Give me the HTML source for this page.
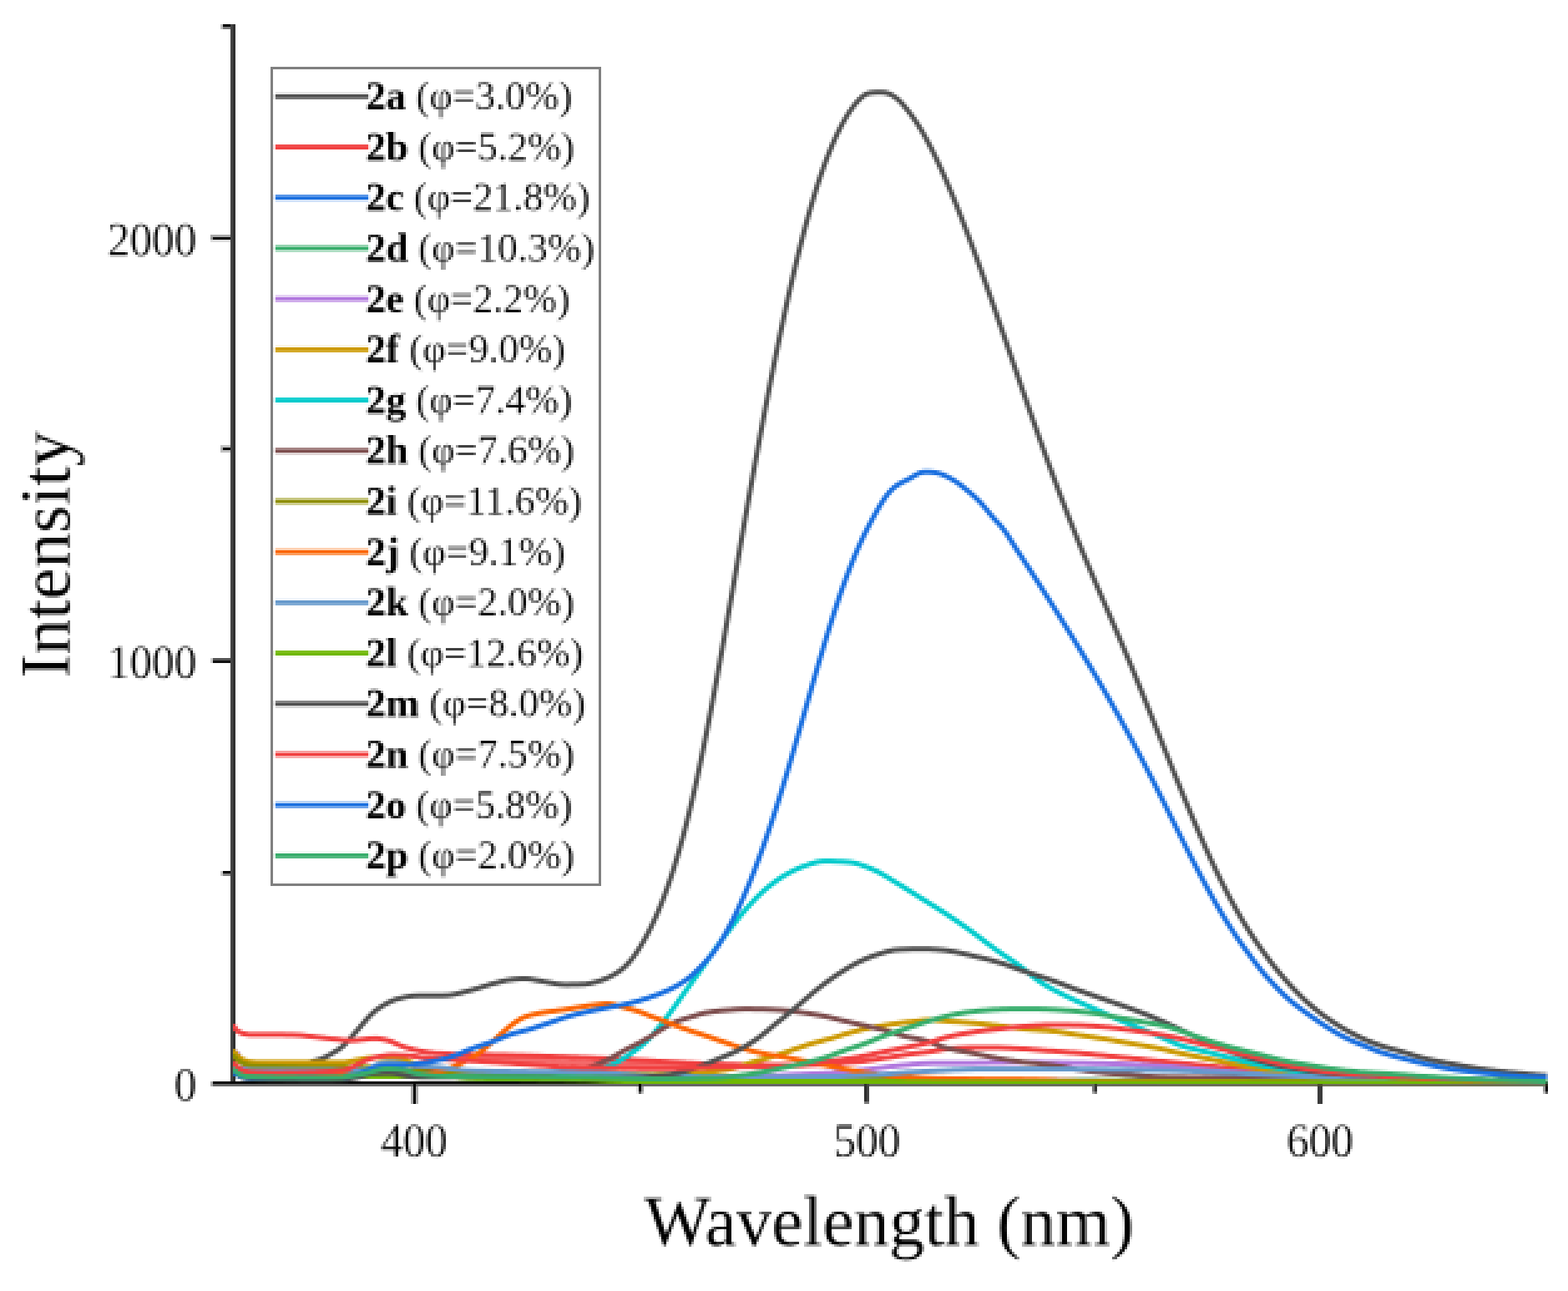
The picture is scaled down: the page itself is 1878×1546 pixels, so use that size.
<!DOCTYPE html>
<html lang="en"><head><meta charset="utf-8"><title>Fluorescence spectra</title>
<style>
html,body{margin:0;padding:0;background:#fff;}
body{width:1878px;height:1546px;overflow:hidden;}
svg{display:block;}
text{font-family:"Liberation Serif",serif;fill:#000;}
.tick{font-size:53.5px;fill:#0c0c0c;stroke:#fff;stroke-width:0.3px;}
.lab{font-size:84.5px;fill:#000;stroke:#fff;stroke-width:0.2px;}
.leg{font-size:48.1px;fill:#0c0c0c;stroke:#fff;stroke-width:0.2px;}
.leg .b{font-weight:bold;fill:#000;stroke:none;}
.curve{fill:none;stroke-width:6.0;stroke-linejoin:round;stroke-linecap:butt;}
</style></head><body>
<svg width="1878" height="1546" viewBox="0 0 1878 1546">
<defs><clipPath id="plot"><rect x="279" y="20" width="1575" height="1278.2"/></clipPath>
<filter id="px" x="0" y="0" width="1878" height="1546" filterUnits="userSpaceOnUse" color-interpolation-filters="sRGB">
<feConvolveMatrix in="SourceGraphic" order="3" kernelMatrix="1 1 1 1 1 1 1 1 1" divisor="9" edgeMode="duplicate" preserveAlpha="true" result="avg"/>
<feFlood x="1" y="0" width="1" height="1" flood-color="#000"/>
<feComposite width="3" height="3"/>
<feTile result="t"/>
<feComposite in="avg" in2="t" operator="in"/>
<feMorphology operator="dilate" radius="1"/>
</filter>
</defs>
<rect width="1878" height="1546" fill="#fff"/>
<g filter="url(#px)">
<rect x="-3" y="-3" width="1884" height="1552" fill="#fff"/>

<g id="axes">
<rect x="276" y="29" width="3" height="1272" fill="#444444"/>
<rect x="279" y="29" width="3" height="1272" fill="#303030"/>
<rect x="252" y="1295" width="3" height="6" fill="#b0b0b0"/>
<rect x="255" y="1295" width="1599" height="3" fill="#0a0a0a"/>
<rect x="255" y="1298" width="1599" height="3" fill="#666666"/>
<rect x="252" y="281" width="24" height="3" fill="#a8a8a8"/>
<rect x="252" y="287" width="24" height="3" fill="#dddddd"/>
<rect x="252" y="284" width="3" height="3" fill="#999999"/>
<rect x="255" y="284" width="21" height="3" fill="#050505"/>
<rect x="252" y="788" width="3" height="6" fill="#cccccc"/>
<rect x="255" y="788" width="21" height="3" fill="#555555"/>
<rect x="255" y="791" width="21" height="3" fill="#111111"/>
<rect x="264" y="533" width="12" height="3" fill="#c0c0c0"/>
<rect x="264" y="539" width="12" height="3" fill="#c0c0c0"/>
<rect x="264" y="536" width="3" height="3" fill="#aaaaaa"/>
<rect x="267" y="536" width="9" height="3" fill="#050505"/>
<rect x="264" y="1043" width="3" height="6" fill="#c8c8c8"/>
<rect x="267" y="1043" width="9" height="3" fill="#050505"/>
<rect x="267" y="1046" width="9" height="3" fill="#808080"/>
<rect x="264" y="29" width="3" height="6" fill="#c0c0c0"/>
<rect x="267" y="29" width="9" height="3" fill="#050505"/>
<rect x="267" y="32" width="9" height="3" fill="#777777"/>
<rect x="492" y="1301" width="3" height="21" fill="#aaaaaa"/>
<rect x="498" y="1301" width="3" height="21" fill="#aaaaaa"/>
<rect x="495" y="1298" width="3" height="24" fill="#050505"/>
<rect x="1035" y="1298" width="3" height="21" fill="#2e2e2e"/>
<rect x="1038" y="1298" width="3" height="21" fill="#444444"/>
<rect x="1035" y="1319" width="6" height="3" fill="#7a7a7a"/>
<rect x="1578" y="1298" width="6" height="24" fill="#3c3c3c"/>
<rect x="765" y="1298" width="3" height="11" fill="#050505"/>
<rect x="768" y="1301" width="3" height="8" fill="#999999"/>
<rect x="762" y="1301" width="3" height="8" fill="#dddddd"/>
<rect x="1308" y="1301" width="3" height="8" fill="#777777"/>
<rect x="1311" y="1298" width="3" height="11" fill="#333333"/>
<rect x="1848" y="1301" width="3" height="8" fill="#999999"/>
<rect x="1851" y="1298" width="3" height="11" fill="#0a0a0a"/>
</g>
<g id="curves" clip-path="url(#plot)">
<path class="curve" stroke="#515151" d="M279.0,1262.2 L282.0,1265.8 L285.0,1269.1 L288.0,1271.1 L291.0,1272.8 L294.0,1273.9 L297.0,1274.6 L300.0,1275.2 L303.0,1275.7 L306.0,1276.1 L309.0,1276.4 L312.0,1276.7 L315.0,1276.8 L318.0,1276.9 L321.0,1277.0 L324.0,1277.0 L327.0,1276.9 L330.0,1276.9 L333.0,1276.8 L336.0,1276.7 L339.0,1276.6 L342.0,1276.4 L345.0,1276.3 L348.0,1276.1 L351.0,1275.9 L354.0,1275.6 L357.0,1275.1 L360.0,1274.6 L363.0,1274.0 L366.0,1273.3 L369.0,1272.6 L372.0,1271.8 L375.0,1271.0 L378.0,1270.2 L381.0,1269.3 L384.0,1268.3 L387.0,1267.1 L390.0,1265.8 L393.0,1264.2 L396.0,1262.5 L399.0,1260.7 L402.0,1258.9 L405.0,1257.1 L408.0,1255.0 L411.0,1252.5 L414.0,1249.6 L417.0,1246.3 L420.0,1242.9 L423.0,1239.4 L426.0,1236.0 L429.0,1232.6 L432.0,1229.0 L435.0,1225.5 L438.0,1222.0 L441.0,1218.6 L444.0,1215.5 L447.0,1212.7 L450.0,1210.1 L453.0,1207.9 L456.0,1205.9 L459.0,1204.0 L462.0,1202.3 L465.0,1200.7 L468.0,1199.3 L471.0,1198.0 L474.0,1196.9 L477.0,1196.0 L480.0,1195.3 L483.0,1194.6 L486.0,1193.9 L489.0,1193.4 L492.0,1192.9 L495.0,1192.6 L498.0,1192.4 L501.0,1192.3 L504.0,1192.3 L507.0,1192.3 L510.0,1192.3 L513.0,1192.3 L516.0,1192.3 L519.0,1192.3 L522.0,1192.3 L525.0,1192.3 L528.0,1192.3 L531.0,1192.3 L534.0,1192.1 L537.0,1191.9 L540.0,1191.5 L543.0,1191.0 L546.0,1190.4 L549.0,1189.7 L552.0,1189.0 L555.0,1188.2 L558.0,1187.4 L561.0,1186.7 L564.0,1185.9 L567.0,1185.1 L570.0,1184.2 L573.0,1183.3 L576.0,1182.4 L579.0,1181.4 L582.0,1180.5 L585.0,1179.6 L588.0,1178.7 L591.0,1177.9 L594.0,1177.1 L597.0,1176.3 L600.0,1175.5 L603.0,1174.8 L606.0,1174.1 L609.0,1173.6 L612.0,1173.2 L615.0,1172.8 L618.0,1172.5 L621.0,1172.2 L624.0,1172.1 L627.0,1172.0 L630.0,1172.1 L633.0,1172.3 L636.0,1172.6 L639.0,1173.1 L642.0,1173.7 L645.0,1174.2 L648.0,1174.8 L651.0,1175.4 L654.0,1175.9 L657.0,1176.5 L660.0,1177.0 L663.0,1177.6 L666.0,1178.2 L669.0,1178.6 L672.0,1178.9 L675.0,1179.1 L678.0,1179.2 L681.0,1179.2 L684.0,1179.1 L687.0,1179.1 L690.0,1179.0 L693.0,1178.9 L696.0,1178.8 L699.0,1178.7 L702.0,1178.4 L705.0,1178.0 L708.0,1177.4 L711.0,1176.7 L714.0,1175.9 L717.0,1175.0 L720.0,1174.1 L723.0,1172.9 L726.0,1171.7 L729.0,1170.4 L732.0,1168.9 L735.0,1167.3 L738.0,1165.5 L741.0,1163.6 L744.0,1161.4 L747.0,1158.9 L750.0,1156.1 L753.0,1152.9 L756.0,1149.4 L759.0,1145.5 L762.0,1141.2 L765.0,1136.7 L768.0,1131.8 L771.0,1126.7 L774.0,1121.3 L777.0,1115.6 L780.0,1109.6 L783.0,1103.3 L786.0,1096.7 L789.0,1089.7 L792.0,1082.4 L795.0,1074.6 L798.0,1066.5 L801.0,1058.0 L804.0,1049.1 L807.0,1039.8 L810.0,1030.0 L813.0,1019.9 L816.0,1009.3 L819.0,998.2 L822.0,986.7 L825.0,974.8 L828.0,962.3 L831.0,949.4 L834.0,936.1 L837.0,922.3 L840.0,908.0 L843.0,893.4 L846.0,878.4 L849.0,863.1 L852.0,847.5 L855.0,831.6 L858.0,815.4 L861.0,799.0 L864.0,782.4 L867.0,765.7 L870.0,748.8 L873.0,731.8 L876.0,714.8 L879.0,697.7 L882.0,680.5 L885.0,663.4 L888.0,646.3 L891.0,629.3 L894.0,612.4 L897.0,595.6 L900.0,578.9 L903.0,562.4 L906.0,546.0 L909.0,529.7 L912.0,513.7 L915.0,497.8 L918.0,482.2 L921.0,466.7 L924.0,451.4 L927.0,436.4 L930.0,421.6 L933.0,407.1 L936.0,392.8 L939.0,378.8 L942.0,365.0 L945.0,351.5 L948.0,338.4 L951.0,325.5 L954.0,313.0 L957.0,300.7 L960.0,288.9 L963.0,277.3 L966.0,266.1 L969.0,255.3 L972.0,244.9 L975.0,234.8 L978.0,225.2 L981.0,215.9 L984.0,207.0 L987.0,198.6 L990.0,190.5 L993.0,182.8 L996.0,175.5 L999.0,168.5 L1002.0,162.0 L1005.0,155.8 L1008.0,149.9 L1011.0,144.4 L1014.0,139.3 L1017.0,134.5 L1020.0,130.2 L1023.0,126.2 L1026.0,122.6 L1029.0,119.4 L1032.0,116.5 L1035.0,114.1 L1038.0,112.5 L1041.0,111.5 L1044.0,111.0 L1047.0,110.7 L1050.0,110.5 L1053.0,110.4 L1056.0,110.4 L1059.0,110.7 L1062.0,111.3 L1065.0,112.3 L1068.0,113.8 L1071.0,115.6 L1074.0,117.8 L1077.0,120.4 L1080.0,123.5 L1083.0,127.0 L1086.0,130.6 L1089.0,134.5 L1092.0,138.5 L1095.0,142.7 L1098.0,147.2 L1101.0,151.9 L1104.0,156.8 L1107.0,162.0 L1110.0,167.4 L1113.0,173.1 L1116.0,178.9 L1119.0,185.0 L1122.0,191.3 L1125.0,197.7 L1128.0,204.3 L1131.0,211.0 L1134.0,217.9 L1137.0,225.0 L1140.0,232.1 L1143.0,239.5 L1146.0,246.9 L1149.0,254.4 L1152.0,262.1 L1155.0,269.8 L1158.0,277.7 L1161.0,285.6 L1164.0,293.7 L1167.0,301.8 L1170.0,310.0 L1173.0,318.3 L1176.0,326.6 L1179.0,335.0 L1182.0,343.5 L1185.0,352.0 L1188.0,360.5 L1191.0,369.1 L1194.0,377.8 L1197.0,386.4 L1200.0,395.1 L1203.0,403.8 L1206.0,412.5 L1209.0,421.3 L1212.0,430.0 L1215.0,438.7 L1218.0,447.5 L1221.0,456.2 L1224.0,464.9 L1227.0,473.6 L1230.0,482.2 L1233.0,490.9 L1236.0,499.4 L1239.0,508.0 L1242.0,516.5 L1245.0,524.9 L1248.0,533.3 L1251.0,541.7 L1254.0,550.0 L1257.0,558.2 L1260.0,566.4 L1263.0,574.5 L1266.0,582.5 L1269.0,590.5 L1272.0,598.4 L1275.0,606.3 L1278.0,614.1 L1281.0,621.8 L1284.0,629.4 L1287.0,637.0 L1290.0,644.5 L1293.0,651.9 L1296.0,659.3 L1299.0,666.6 L1302.0,673.8 L1305.0,680.9 L1308.0,688.0 L1311.0,695.1 L1314.0,702.1 L1317.0,709.0 L1320.0,716.0 L1323.0,722.9 L1326.0,729.9 L1329.0,736.8 L1332.0,743.7 L1335.0,750.7 L1338.0,757.7 L1341.0,764.7 L1344.0,771.7 L1347.0,778.8 L1350.0,786.0 L1353.0,793.2 L1356.0,800.4 L1359.0,807.7 L1362.0,815.1 L1365.0,822.5 L1368.0,829.9 L1371.0,837.4 L1374.0,844.8 L1377.0,852.3 L1380.0,859.8 L1383.0,867.4 L1386.0,874.9 L1389.0,882.4 L1392.0,890.0 L1395.0,897.5 L1398.0,905.0 L1401.0,912.5 L1404.0,920.0 L1407.0,927.4 L1410.0,934.9 L1413.0,942.2 L1416.0,949.6 L1419.0,956.9 L1422.0,964.1 L1425.0,971.3 L1428.0,978.5 L1431.0,985.5 L1434.0,992.5 L1437.0,999.5 L1440.0,1006.3 L1443.0,1013.1 L1446.0,1019.8 L1449.0,1026.4 L1452.0,1032.9 L1455.0,1039.3 L1458.0,1045.6 L1461.0,1051.7 L1464.0,1057.8 L1467.0,1063.7 L1470.0,1069.6 L1473.0,1075.3 L1476.0,1080.8 L1479.0,1086.3 L1482.0,1091.6 L1485.0,1096.8 L1488.0,1101.9 L1491.0,1106.9 L1494.0,1111.7 L1497.0,1116.4 L1500.0,1121.0 L1503.0,1125.5 L1506.0,1129.9 L1509.0,1134.2 L1512.0,1138.5 L1515.0,1142.6 L1518.0,1146.6 L1521.0,1150.6 L1524.0,1154.5 L1527.0,1158.3 L1530.0,1162.0 L1533.0,1165.6 L1536.0,1169.2 L1539.0,1172.7 L1542.0,1176.1 L1545.0,1179.4 L1548.0,1182.6 L1551.0,1185.8 L1554.0,1188.9 L1557.0,1191.9 L1560.0,1194.8 L1563.0,1197.7 L1566.0,1200.4 L1569.0,1203.1 L1572.0,1205.6 L1575.0,1208.1 L1578.0,1210.5 L1581.0,1212.8 L1584.0,1215.1 L1587.0,1217.3 L1590.0,1219.4 L1593.0,1221.5 L1596.0,1223.5 L1599.0,1225.5 L1602.0,1227.4 L1605.0,1229.2 L1608.0,1231.0 L1611.0,1232.8 L1614.0,1234.5 L1617.0,1236.1 L1620.0,1237.7 L1623.0,1239.2 L1626.0,1240.7 L1629.0,1242.2 L1632.0,1243.6 L1635.0,1244.9 L1638.0,1246.2 L1641.0,1247.4 L1644.0,1248.6 L1647.0,1249.7 L1650.0,1250.8 L1653.0,1251.9 L1656.0,1252.9 L1659.0,1253.8 L1662.0,1254.7 L1665.0,1255.6 L1668.0,1256.4 L1671.0,1257.2 L1674.0,1258.0 L1677.0,1258.8 L1680.0,1259.7 L1683.0,1260.6 L1686.0,1261.5 L1689.0,1262.4 L1692.0,1263.4 L1695.0,1264.3 L1698.0,1265.2 L1701.0,1266.1 L1704.0,1266.9 L1707.0,1267.7 L1710.0,1268.4 L1713.0,1269.0 L1716.0,1269.7 L1719.0,1270.3 L1722.0,1270.9 L1725.0,1271.4 L1728.0,1272.0 L1731.0,1272.6 L1734.0,1273.1 L1737.0,1273.7 L1740.0,1274.2 L1743.0,1274.8 L1746.0,1275.3 L1749.0,1275.9 L1752.0,1276.5 L1755.0,1277.0 L1758.0,1277.5 L1761.0,1278.0 L1764.0,1278.5 L1767.0,1279.0 L1770.0,1279.4 L1773.0,1279.9 L1776.0,1280.3 L1779.0,1280.7 L1782.0,1281.1 L1785.0,1281.5 L1788.0,1281.8 L1791.0,1282.2 L1794.0,1282.5 L1797.0,1282.9 L1800.0,1283.2 L1803.0,1283.5 L1806.0,1283.9 L1809.0,1284.2 L1812.0,1284.5 L1815.0,1284.8 L1818.0,1285.1 L1821.0,1285.3 L1824.0,1285.6 L1827.0,1285.9 L1830.0,1286.2 L1833.0,1286.4 L1836.0,1286.7 L1839.0,1287.0 L1842.0,1287.2 L1845.0,1287.5 L1848.0,1287.7 L1851.0,1288.0 L1852.8,1288.1"/>
<path class="curve" stroke="#f46a6a" stroke-width="8" d="M545.0,1266.0 L548.0,1266.1 L551.0,1266.2 L554.0,1266.3 L557.0,1266.4 L560.0,1266.5 L563.0,1266.6 L566.0,1266.7 L569.0,1266.8 L572.0,1266.9 L575.0,1267.0 L578.0,1267.2 L581.0,1267.3 L584.0,1267.4 L587.0,1267.5 L590.0,1267.6 L593.0,1267.7 L596.0,1267.8 L599.0,1268.0 L602.0,1268.1 L605.0,1268.2 L608.0,1268.3 L611.0,1268.5 L614.0,1268.6 L617.0,1268.7 L620.0,1268.9 L623.0,1269.0 L626.0,1269.1 L629.0,1269.3 L632.0,1269.4 L635.0,1269.6 L638.0,1269.7 L641.0,1269.9 L644.0,1270.0 L647.0,1270.2 L650.0,1270.3 L653.0,1270.4 L656.0,1270.6 L659.0,1270.7 L662.0,1270.9 L665.0,1271.0 L668.0,1271.2 L671.0,1271.3 L674.0,1271.4 L677.0,1271.6 L680.0,1271.7 L683.0,1271.8 L686.0,1272.0 L689.0,1272.1 L692.0,1272.2 L695.0,1272.3 L698.0,1272.4 L701.0,1272.5 L704.0,1272.6 L707.0,1272.8 L710.0,1272.9 L713.0,1273.0 L716.0,1273.1 L719.0,1273.2 L722.0,1273.3 L725.0,1273.4 L728.0,1273.5 L731.0,1273.6 L734.0,1273.7 L737.0,1273.8 L740.0,1273.9 L743.0,1274.0 L746.0,1274.1 L749.0,1274.2 L752.0,1274.3 L755.0,1274.4 L758.0,1274.5 L761.0,1274.6 L764.0,1274.6 L767.0,1274.7 L770.0,1274.8 L773.0,1274.9 L776.0,1275.0 L779.0,1275.0 L782.0,1275.1 L785.0,1275.2 L788.0,1275.3 L791.0,1275.3 L794.0,1275.4 L797.0,1275.4 L800.0,1275.5 L803.0,1275.6 L806.0,1275.6 L809.0,1275.7 L812.0,1275.7 L815.0,1275.8 L818.0,1275.8 L821.0,1275.9 L824.0,1275.9 L827.0,1276.0 L830.0,1276.0 L833.0,1276.1 L836.0,1276.1 L839.0,1276.2 L842.0,1276.2 L845.0,1276.2 L848.0,1276.2 L851.0,1276.3 L854.0,1276.3 L857.0,1276.3 L860.0,1276.3 L863.0,1276.3 L866.0,1276.3 L869.0,1276.3 L872.0,1276.3 L875.0,1276.3 L878.0,1276.3 L881.0,1276.3 L884.0,1276.3 L887.0,1276.3 L890.0,1276.3 L893.0,1276.3 L896.0,1276.3 L899.0,1276.2 L902.0,1276.2 L905.0,1276.2 L908.0,1276.2 L911.0,1276.2 L914.0,1276.2 L917.0,1276.1 L920.0,1276.1 L923.0,1276.1 L926.0,1276.0 L929.0,1276.0 L930.0,1276.0"/>
<path class="curve" stroke="#F14040" d="M279.0,1227.3 L282.0,1231.9 L285.0,1235.3 L288.0,1236.4 L291.0,1237.7 L294.0,1238.3 L297.0,1238.7 L300.0,1238.9 L303.0,1239.0 L306.0,1239.0 L309.0,1239.1 L312.0,1239.1 L315.0,1239.1 L318.0,1239.1 L321.0,1239.1 L324.0,1239.1 L327.0,1239.1 L330.0,1239.1 L333.0,1239.1 L336.0,1239.1 L339.0,1239.1 L342.0,1239.2 L345.0,1239.2 L348.0,1239.2 L351.0,1239.3 L354.0,1239.4 L357.0,1239.5 L360.0,1239.8 L363.0,1240.1 L366.0,1240.4 L369.0,1240.7 L372.0,1241.1 L375.0,1241.4 L378.0,1241.8 L381.0,1242.1 L384.0,1242.5 L387.0,1242.8 L390.0,1243.2 L393.0,1243.5 L396.0,1243.9 L399.0,1244.2 L402.0,1244.5 L405.0,1244.8 L408.0,1245.2 L411.0,1245.5 L414.0,1245.7 L417.0,1245.9 L420.0,1245.9 L423.0,1245.9 L426.0,1245.7 L429.0,1245.4 L432.0,1245.1 L435.0,1244.7 L438.0,1244.4 L441.0,1244.1 L444.0,1243.8 L447.0,1243.7 L450.0,1243.6 L453.0,1243.8 L456.0,1244.2 L459.0,1244.7 L462.0,1245.3 L465.0,1246.1 L468.0,1247.1 L471.0,1248.3 L474.0,1249.7 L477.0,1251.0 L480.0,1252.2 L483.0,1253.3 L486.0,1254.3 L489.0,1255.2 L492.0,1256.0 L495.0,1256.8 L498.0,1257.5 L501.0,1258.2 L504.0,1258.7 L507.0,1259.3 L510.0,1259.7 L513.0,1260.2 L516.0,1260.5 L519.0,1260.9 L522.0,1261.2 L525.0,1261.4 L528.0,1261.6 L531.0,1261.8 L534.0,1262.0 L537.0,1262.1 L540.0,1262.3 L543.0,1262.4 L546.0,1262.6 L549.0,1262.7 L552.0,1262.8 L555.0,1262.9 L558.0,1262.9 L561.0,1263.0 L564.0,1263.1 L567.0,1263.1 L570.0,1263.2 L573.0,1263.2 L576.0,1263.2 L579.0,1263.3 L582.0,1263.3 L585.0,1263.3 L588.0,1263.3 L591.0,1263.4 L594.0,1263.4 L597.0,1263.5 L600.0,1263.5 L603.0,1263.6 L606.0,1263.6 L609.0,1263.7 L612.0,1263.7 L615.0,1263.8 L618.0,1263.9 L621.0,1263.9 L624.0,1264.0 L627.0,1264.1 L630.0,1264.2 L633.0,1264.2 L636.0,1264.3 L639.0,1264.4 L642.0,1264.5 L645.0,1264.6 L648.0,1264.7 L651.0,1264.8 L654.0,1264.9 L657.0,1265.0 L660.0,1265.1 L663.0,1265.2 L666.0,1265.3 L669.0,1265.4 L672.0,1265.5 L675.0,1265.6 L678.0,1265.7 L681.0,1265.8 L684.0,1265.9 L687.0,1266.0 L690.0,1266.1 L693.0,1266.2 L696.0,1266.4 L699.0,1266.5 L702.0,1266.6 L705.0,1266.7 L708.0,1266.8 L711.0,1266.9 L714.0,1267.1 L717.0,1267.2 L720.0,1267.3 L723.0,1267.5 L726.0,1267.6 L729.0,1267.8 L732.0,1267.9 L735.0,1268.1 L738.0,1268.2 L741.0,1268.4 L744.0,1268.5 L747.0,1268.7 L750.0,1268.8 L753.0,1269.0 L756.0,1269.2 L759.0,1269.3 L762.0,1269.5 L765.0,1269.7 L768.0,1269.8 L771.0,1270.0 L774.0,1270.1 L777.0,1270.3 L780.0,1270.5 L783.0,1270.6 L786.0,1270.8 L789.0,1270.9 L792.0,1271.1 L795.0,1271.2 L798.0,1271.4 L801.0,1271.6 L804.0,1271.7 L807.0,1271.9 L810.0,1272.0 L813.0,1272.2 L816.0,1272.4 L819.0,1272.6 L822.0,1272.8 L825.0,1272.9 L828.0,1273.1 L831.0,1273.3 L834.0,1273.5 L837.0,1273.6 L840.0,1273.8 L843.0,1273.9 L846.0,1274.0 L849.0,1274.2 L852.0,1274.3 L855.0,1274.4 L858.0,1274.4 L861.0,1274.5 L864.0,1274.6 L867.0,1274.6 L870.0,1274.7 L873.0,1274.7 L876.0,1274.8 L879.0,1274.8 L882.0,1274.9 L885.0,1274.9 L888.0,1275.0 L891.0,1275.0 L894.0,1275.1 L897.0,1275.1 L900.0,1275.2 L903.0,1275.2 L906.0,1275.2 L909.0,1275.3 L912.0,1275.3 L915.0,1275.3 L918.0,1275.3 L921.0,1275.4 L924.0,1275.4 L927.0,1275.4 L930.0,1275.4 L933.0,1275.5 L936.0,1275.5 L939.0,1275.5 L942.0,1275.5 L945.0,1275.5 L948.0,1275.5 L951.0,1275.5 L954.0,1275.5 L957.0,1275.4 L960.0,1275.4 L963.0,1275.3 L966.0,1275.3 L969.0,1275.2 L972.0,1275.1 L975.0,1275.0 L978.0,1274.8 L981.0,1274.7 L984.0,1274.5 L987.0,1274.4 L990.0,1274.2 L993.0,1274.0 L996.0,1273.8 L999.0,1273.6 L1002.0,1273.4 L1005.0,1273.2 L1008.0,1273.0 L1011.0,1272.8 L1014.0,1272.6 L1017.0,1272.3 L1020.0,1272.1 L1023.0,1271.9 L1026.0,1271.6 L1029.0,1271.4 L1032.0,1271.1 L1035.0,1270.7 L1038.0,1270.3 L1041.0,1269.9 L1044.0,1269.5 L1047.0,1269.0 L1050.0,1268.5 L1053.0,1268.0 L1056.0,1267.6 L1059.0,1267.1 L1062.0,1266.6 L1065.0,1266.2 L1068.0,1265.7 L1071.0,1265.2 L1074.0,1264.7 L1077.0,1264.2 L1080.0,1263.8 L1083.0,1263.3 L1086.0,1262.8 L1089.0,1262.4 L1092.0,1262.0 L1095.0,1261.6 L1098.0,1261.2 L1101.0,1260.9 L1104.0,1260.5 L1107.0,1260.2 L1110.0,1259.8 L1113.0,1259.5 L1116.0,1259.0 L1119.0,1258.6 L1122.0,1258.1 L1125.0,1257.5 L1128.0,1256.9 L1131.0,1256.4 L1134.0,1256.1 L1137.0,1255.8 L1140.0,1255.6 L1143.0,1255.4 L1146.0,1255.2 L1149.0,1255.0 L1152.0,1254.9 L1155.0,1254.8 L1158.0,1254.7 L1161.0,1254.6 L1164.0,1254.6 L1167.0,1254.6 L1170.0,1254.6 L1173.0,1254.6 L1176.0,1254.6 L1179.0,1254.6 L1182.0,1254.6 L1185.0,1254.6 L1188.0,1254.6 L1191.0,1254.6 L1194.0,1254.6 L1197.0,1254.6 L1200.0,1254.7 L1203.0,1254.8 L1206.0,1254.9 L1209.0,1255.0 L1212.0,1255.2 L1215.0,1255.4 L1218.0,1255.6 L1221.0,1255.8 L1224.0,1256.0 L1227.0,1256.1 L1230.0,1256.3 L1233.0,1256.5 L1236.0,1256.8 L1239.0,1257.0 L1242.0,1257.2 L1245.0,1257.4 L1248.0,1257.7 L1251.0,1257.9 L1254.0,1258.2 L1257.0,1258.4 L1260.0,1258.6 L1263.0,1258.8 L1266.0,1259.1 L1269.0,1259.3 L1272.0,1259.5 L1275.0,1259.7 L1278.0,1259.9 L1281.0,1260.2 L1284.0,1260.4 L1287.0,1260.6 L1290.0,1260.9 L1293.0,1261.1 L1296.0,1261.4 L1299.0,1261.7 L1302.0,1262.0 L1305.0,1262.3 L1308.0,1262.6 L1311.0,1262.9 L1314.0,1263.2 L1317.0,1263.5 L1320.0,1263.8 L1323.0,1264.1 L1326.0,1264.4 L1329.0,1264.7 L1332.0,1265.0 L1335.0,1265.3 L1338.0,1265.6 L1341.0,1265.9 L1344.0,1266.2 L1347.0,1266.5 L1350.0,1266.8 L1353.0,1267.1 L1356.0,1267.4 L1359.0,1267.7 L1362.0,1268.0 L1365.0,1268.3 L1368.0,1268.6 L1371.0,1268.9 L1374.0,1269.3 L1377.0,1269.6 L1380.0,1269.9 L1383.0,1270.2 L1386.0,1270.5 L1389.0,1270.7 L1392.0,1271.0 L1395.0,1271.3 L1398.0,1271.6 L1401.0,1271.9 L1404.0,1272.2 L1407.0,1272.5 L1410.0,1272.8 L1413.0,1273.1 L1416.0,1273.4 L1419.0,1273.7 L1422.0,1274.0 L1425.0,1274.3 L1428.0,1274.6 L1431.0,1274.9 L1434.0,1275.2 L1437.0,1275.5 L1440.0,1275.8 L1443.0,1276.1 L1446.0,1276.4 L1449.0,1276.7 L1452.0,1277.0 L1455.0,1277.3 L1458.0,1277.6 L1461.0,1277.9 L1464.0,1278.2 L1467.0,1278.5 L1470.0,1278.8 L1473.0,1279.1 L1476.0,1279.4 L1479.0,1279.7 L1482.0,1280.0 L1485.0,1280.3 L1488.0,1280.6 L1491.0,1280.9 L1494.0,1281.3 L1497.0,1281.6 L1500.0,1281.9 L1503.0,1282.1 L1506.0,1282.4 L1509.0,1282.7 L1512.0,1283.0 L1515.0,1283.3 L1518.0,1283.6 L1521.0,1283.8 L1524.0,1284.1 L1527.0,1284.4 L1530.0,1284.7 L1533.0,1284.9 L1536.0,1285.2 L1539.0,1285.4 L1542.0,1285.7 L1545.0,1285.9 L1548.0,1286.2 L1551.0,1286.4 L1554.0,1286.6 L1557.0,1286.8 L1560.0,1287.0 L1563.0,1287.2 L1566.0,1287.3 L1569.0,1287.5 L1572.0,1287.7 L1575.0,1287.8 L1578.0,1288.0 L1581.0,1288.2 L1584.0,1288.3 L1587.0,1288.5 L1590.0,1288.6 L1593.0,1288.8 L1596.0,1288.9 L1599.0,1289.0 L1602.0,1289.2 L1605.0,1289.3 L1608.0,1289.4 L1611.0,1289.6 L1614.0,1289.7 L1617.0,1289.8 L1620.0,1289.9 L1623.0,1290.0 L1626.0,1290.2 L1629.0,1290.3 L1632.0,1290.4 L1635.0,1290.5 L1638.0,1290.6 L1641.0,1290.7 L1644.0,1290.8 L1647.0,1290.9 L1650.0,1291.0 L1653.0,1291.1 L1656.0,1291.2 L1659.0,1291.3 L1662.0,1291.4 L1665.0,1291.5 L1668.0,1291.6 L1671.0,1291.7 L1674.0,1291.8 L1677.0,1291.9 L1680.0,1292.0 L1683.0,1292.1 L1686.0,1292.2 L1689.0,1292.3 L1692.0,1292.3 L1695.0,1292.4 L1698.0,1292.5 L1701.0,1292.6 L1704.0,1292.7 L1707.0,1292.8 L1710.0,1292.9 L1713.0,1293.0 L1716.0,1293.1 L1719.0,1293.2 L1722.0,1293.2 L1725.0,1293.3 L1728.0,1293.4 L1731.0,1293.5 L1734.0,1293.6 L1737.0,1293.7 L1740.0,1293.8 L1743.0,1293.8 L1746.0,1293.9 L1749.0,1294.0 L1752.0,1294.1 L1755.0,1294.1 L1758.0,1294.2 L1761.0,1294.3 L1764.0,1294.4 L1767.0,1294.4 L1770.0,1294.5 L1773.0,1294.6 L1776.0,1294.7 L1779.0,1294.7 L1782.0,1294.8 L1785.0,1294.9 L1788.0,1294.9 L1791.0,1295.0 L1794.0,1295.1 L1797.0,1295.1 L1800.0,1295.2 L1803.0,1295.2 L1806.0,1295.3 L1809.0,1295.3 L1812.0,1295.4 L1815.0,1295.5 L1818.0,1295.5 L1821.0,1295.6 L1824.0,1295.6 L1827.0,1295.7 L1830.0,1295.7 L1833.0,1295.7 L1836.0,1295.8 L1839.0,1295.8 L1842.0,1295.9 L1845.0,1295.9 L1848.0,1295.9 L1851.0,1296.0 L1853.0,1296.0"/>
<path class="curve" stroke="#1A6FDF" d="M279.0,1284.0 L282.0,1285.4 L285.0,1286.9 L288.0,1288.1 L291.0,1289.1 L294.0,1289.7 L297.0,1289.9 L300.0,1290.0 L303.0,1290.0 L306.0,1290.0 L309.0,1290.0 L312.0,1290.0 L315.0,1290.0 L318.0,1290.0 L321.0,1290.0 L324.0,1290.0 L327.0,1290.0 L330.0,1290.0 L333.0,1290.0 L336.0,1290.0 L339.0,1290.0 L342.0,1290.0 L345.0,1290.0 L348.0,1290.0 L351.0,1290.0 L354.0,1290.0 L357.0,1290.0 L360.0,1290.0 L363.0,1290.0 L366.0,1290.0 L369.0,1290.0 L372.0,1290.0 L375.0,1290.0 L378.0,1290.0 L381.0,1290.0 L384.0,1290.0 L387.0,1290.0 L390.0,1290.0 L393.0,1290.0 L396.0,1290.0 L399.0,1290.0 L402.0,1290.0 L405.0,1289.9 L408.0,1289.7 L411.0,1289.6 L414.0,1289.3 L417.0,1289.0 L420.0,1288.7 L423.0,1288.4 L426.0,1288.0 L429.0,1287.6 L432.0,1287.2 L435.0,1286.7 L438.0,1286.3 L441.0,1285.7 L444.0,1285.0 L447.0,1284.1 L450.0,1283.2 L453.0,1282.3 L456.0,1281.6 L459.0,1281.2 L462.0,1281.1 L465.0,1281.1 L468.0,1281.2 L471.0,1281.4 L474.0,1281.6 L477.0,1281.8 L480.0,1282.1 L483.0,1282.3 L486.0,1282.6 L489.0,1282.9 L492.0,1283.2 L495.0,1283.5 L498.0,1283.8 L501.0,1284.1 L504.0,1284.4 L507.0,1284.8 L510.0,1285.2 L513.0,1285.6 L516.0,1286.0 L519.0,1286.5 L522.0,1286.9 L525.0,1287.3 L528.0,1287.6 L531.0,1287.9 L534.0,1288.2 L537.0,1288.4 L540.0,1288.5 L543.0,1288.5 L546.0,1288.6 L549.0,1288.6 L552.0,1288.7 L555.0,1288.7 L558.0,1288.7 L561.0,1288.7 L564.0,1288.8 L567.0,1288.8 L570.0,1288.8 L573.0,1288.9 L576.0,1288.9 L579.0,1288.9 L582.0,1288.9 L585.0,1288.9 L588.0,1288.9 L591.0,1289.0 L594.0,1289.0 L597.0,1289.0 L600.0,1289.0 L603.0,1289.0 L606.0,1289.0 L609.0,1289.0 L612.0,1289.0 L615.0,1289.1 L618.0,1289.1 L621.0,1289.1 L624.0,1289.1 L627.0,1289.1 L630.0,1289.1 L633.0,1289.1 L636.0,1289.1 L639.0,1289.1 L642.0,1289.1 L645.0,1289.2 L648.0,1289.2 L651.0,1289.2 L654.0,1289.2 L657.0,1289.2 L660.0,1289.2 L663.0,1289.2 L666.0,1289.2 L669.0,1289.3 L672.0,1289.3 L675.0,1289.3 L678.0,1289.3 L681.0,1289.3 L684.0,1289.4 L687.0,1289.4 L690.0,1289.4 L693.0,1289.4 L696.0,1289.5 L699.0,1289.5 L702.0,1289.5 L705.0,1289.6 L708.0,1289.6 L711.0,1289.7 L714.0,1289.8 L717.0,1289.8 L720.0,1289.9 L723.0,1290.0 L726.0,1290.1 L729.0,1290.2 L732.0,1290.3 L735.0,1290.4 L738.0,1290.5 L741.0,1290.6 L744.0,1290.7 L747.0,1290.7 L750.0,1290.8 L753.0,1290.9 L756.0,1291.0 L759.0,1291.1 L762.0,1291.2 L765.0,1291.3 L768.0,1291.3 L771.0,1291.4 L774.0,1291.4 L777.0,1291.5 L780.0,1291.5 L783.0,1291.5 L786.0,1291.6 L789.0,1291.6 L792.0,1291.6 L795.0,1291.6 L798.0,1291.6 L801.0,1291.7 L804.0,1291.7 L807.0,1291.7 L810.0,1291.7 L813.0,1291.7 L816.0,1291.8 L819.0,1291.8 L822.0,1291.8 L825.0,1291.8 L828.0,1291.8 L831.0,1291.9 L834.0,1291.9 L837.0,1291.9 L840.0,1291.9 L843.0,1291.9 L846.0,1291.9 L849.0,1291.9 L852.0,1292.0 L855.0,1292.0 L858.0,1292.0 L861.0,1292.0 L864.0,1292.0 L867.0,1292.0 L870.0,1292.0 L873.0,1292.1 L876.0,1292.1 L879.0,1292.1 L882.0,1292.1 L885.0,1292.1 L888.0,1292.1 L891.0,1292.1 L894.0,1292.1 L897.0,1292.1 L900.0,1292.2 L903.0,1292.2 L906.0,1292.2 L909.0,1292.2 L912.0,1292.2 L915.0,1292.2 L918.0,1292.2 L921.0,1292.2 L924.0,1292.2 L927.0,1292.2 L930.0,1292.2 L933.0,1292.3 L936.0,1292.3 L939.0,1292.3 L942.0,1292.3 L945.0,1292.3 L948.0,1292.3 L951.0,1292.3 L954.0,1292.3 L957.0,1292.3 L960.0,1292.3 L963.0,1292.4 L966.0,1292.4 L969.0,1292.4 L972.0,1292.4 L975.0,1292.4 L978.0,1292.4 L981.0,1292.4 L984.0,1292.4 L987.0,1292.4 L990.0,1292.5 L993.0,1292.5 L996.0,1292.5 L999.0,1292.5 L1002.0,1292.5 L1005.0,1292.5 L1008.0,1292.5 L1011.0,1292.5 L1014.0,1292.6 L1017.0,1292.6 L1020.0,1292.6 L1023.0,1292.6 L1026.0,1292.6 L1029.0,1292.6 L1032.0,1292.6 L1035.0,1292.7 L1038.0,1292.7 L1041.0,1292.7 L1044.0,1292.7 L1047.0,1292.7 L1050.0,1292.7 L1053.0,1292.7 L1056.0,1292.7 L1059.0,1292.8 L1062.0,1292.8 L1065.0,1292.8 L1068.0,1292.8 L1071.0,1292.8 L1074.0,1292.8 L1077.0,1292.8 L1080.0,1292.8 L1083.0,1292.9 L1086.0,1292.9 L1089.0,1292.9 L1092.0,1292.9 L1095.0,1292.9 L1098.0,1292.9 L1101.0,1292.9 L1104.0,1293.0 L1107.0,1293.0 L1110.0,1293.0 L1113.0,1293.0 L1116.0,1293.0 L1119.0,1293.0 L1122.0,1293.0 L1125.0,1293.0 L1128.0,1293.1 L1131.0,1293.1 L1134.0,1293.1 L1137.0,1293.1 L1140.0,1293.1 L1143.0,1293.1 L1146.0,1293.1 L1149.0,1293.1 L1152.0,1293.2 L1155.0,1293.2 L1158.0,1293.2 L1161.0,1293.2 L1164.0,1293.2 L1167.0,1293.2 L1170.0,1293.2 L1173.0,1293.2 L1176.0,1293.3 L1179.0,1293.3 L1182.0,1293.3 L1185.0,1293.3 L1188.0,1293.3 L1191.0,1293.3 L1194.0,1293.3 L1197.0,1293.4 L1200.0,1293.4 L1203.0,1293.4 L1206.0,1293.4 L1209.0,1293.4 L1212.0,1293.4 L1215.0,1293.4 L1218.0,1293.4 L1221.0,1293.5 L1224.0,1293.5 L1227.0,1293.5 L1230.0,1293.5 L1233.0,1293.5 L1236.0,1293.5 L1239.0,1293.5 L1242.0,1293.5 L1245.0,1293.6 L1248.0,1293.6 L1251.0,1293.6 L1254.0,1293.6 L1257.0,1293.6 L1260.0,1293.6 L1263.0,1293.6 L1266.0,1293.6 L1269.0,1293.7 L1272.0,1293.7 L1275.0,1293.7 L1278.0,1293.7 L1281.0,1293.7 L1284.0,1293.7 L1287.0,1293.7 L1290.0,1293.7 L1293.0,1293.8 L1296.0,1293.8 L1299.0,1293.8 L1302.0,1293.8 L1305.0,1293.8 L1308.0,1293.8 L1311.0,1293.8 L1314.0,1293.8 L1317.0,1293.9 L1320.0,1293.9 L1323.0,1293.9 L1326.0,1293.9 L1329.0,1293.9 L1332.0,1293.9 L1335.0,1293.9 L1338.0,1293.9 L1341.0,1294.0 L1344.0,1294.0 L1347.0,1294.0 L1350.0,1294.0 L1353.0,1294.0 L1356.0,1294.0 L1359.0,1294.0 L1362.0,1294.0 L1365.0,1294.1 L1368.0,1294.1 L1371.0,1294.1 L1374.0,1294.1 L1377.0,1294.1 L1380.0,1294.1 L1383.0,1294.1 L1386.0,1294.1 L1389.0,1294.2 L1392.0,1294.2 L1395.0,1294.2 L1398.0,1294.2 L1401.0,1294.2 L1404.0,1294.2 L1407.0,1294.2 L1410.0,1294.2 L1413.0,1294.3 L1416.0,1294.3 L1419.0,1294.3 L1422.0,1294.3 L1425.0,1294.3 L1428.0,1294.3 L1431.0,1294.3 L1434.0,1294.3 L1437.0,1294.4 L1440.0,1294.4 L1443.0,1294.4 L1446.0,1294.4 L1449.0,1294.4 L1452.0,1294.4 L1455.0,1294.4 L1458.0,1294.4 L1461.0,1294.5 L1464.0,1294.5 L1467.0,1294.5 L1470.0,1294.5 L1473.0,1294.5 L1476.0,1294.5 L1479.0,1294.5 L1482.0,1294.5 L1485.0,1294.6 L1488.0,1294.6 L1491.0,1294.6 L1494.0,1294.6 L1497.0,1294.6 L1500.0,1294.6 L1503.0,1294.6 L1506.0,1294.6 L1509.0,1294.7 L1512.0,1294.7 L1515.0,1294.7 L1518.0,1294.7 L1521.0,1294.7 L1524.0,1294.7 L1527.0,1294.7 L1530.0,1294.7 L1533.0,1294.7 L1536.0,1294.8 L1539.0,1294.8 L1542.0,1294.8 L1545.0,1294.8 L1548.0,1294.8 L1551.0,1294.8 L1554.0,1294.8 L1557.0,1294.8 L1560.0,1294.9 L1563.0,1294.9 L1566.0,1294.9 L1569.0,1294.9 L1572.0,1294.9 L1575.0,1294.9 L1578.0,1294.9 L1581.0,1294.9 L1584.0,1295.0 L1587.0,1295.0 L1590.0,1295.0 L1593.0,1295.0 L1596.0,1295.0 L1599.0,1295.0 L1602.0,1295.0 L1605.0,1295.0 L1608.0,1295.1 L1611.0,1295.1 L1614.0,1295.1 L1617.0,1295.1 L1620.0,1295.1 L1623.0,1295.1 L1626.0,1295.1 L1629.0,1295.1 L1632.0,1295.1 L1635.0,1295.2 L1638.0,1295.2 L1641.0,1295.2 L1644.0,1295.2 L1647.0,1295.2 L1650.0,1295.2 L1653.0,1295.2 L1656.0,1295.2 L1659.0,1295.3 L1662.0,1295.3 L1665.0,1295.3 L1668.0,1295.3 L1671.0,1295.3 L1674.0,1295.3 L1677.0,1295.3 L1680.0,1295.3 L1683.0,1295.3 L1686.0,1295.4 L1689.0,1295.4 L1692.0,1295.4 L1695.0,1295.4 L1698.0,1295.4 L1701.0,1295.4 L1704.0,1295.4 L1707.0,1295.4 L1710.0,1295.5 L1713.0,1295.5 L1716.0,1295.5 L1719.0,1295.5 L1722.0,1295.5 L1725.0,1295.5 L1728.0,1295.5 L1731.0,1295.5 L1734.0,1295.5 L1737.0,1295.6 L1740.0,1295.6 L1743.0,1295.6 L1746.0,1295.6 L1749.0,1295.6 L1752.0,1295.6 L1755.0,1295.6 L1758.0,1295.6 L1761.0,1295.7 L1764.0,1295.7 L1767.0,1295.7 L1770.0,1295.7 L1773.0,1295.7 L1776.0,1295.7 L1779.0,1295.7 L1782.0,1295.7 L1785.0,1295.7 L1788.0,1295.8 L1791.0,1295.8 L1794.0,1295.8 L1797.0,1295.8 L1800.0,1295.8 L1803.0,1295.8 L1806.0,1295.8 L1809.0,1295.8 L1812.0,1295.8 L1815.0,1295.9 L1818.0,1295.9 L1821.0,1295.9 L1824.0,1295.9 L1827.0,1295.9 L1830.0,1295.9 L1833.0,1295.9 L1836.0,1295.9 L1839.0,1295.9 L1842.0,1296.0 L1845.0,1296.0 L1848.0,1296.0 L1851.0,1296.0 L1853.0,1296.0"/>
<path class="curve" stroke="#37AD6B" d="M279.0,1283.0 L282.0,1285.0 L285.0,1287.1 L288.0,1288.4 L291.0,1289.4 L294.0,1289.9 L297.0,1290.1 L300.0,1290.1 L303.0,1290.1 L306.0,1290.2 L309.0,1290.2 L312.0,1290.2 L315.0,1290.2 L318.0,1290.3 L321.0,1290.3 L324.0,1290.3 L327.0,1290.3 L330.0,1290.3 L333.0,1290.4 L336.0,1290.4 L339.0,1290.4 L342.0,1290.4 L345.0,1290.4 L348.0,1290.4 L351.0,1290.4 L354.0,1290.4 L357.0,1290.5 L360.0,1290.5 L363.0,1290.5 L366.0,1290.5 L369.0,1290.5 L372.0,1290.5 L375.0,1290.5 L378.0,1290.5 L381.0,1290.5 L384.0,1290.5 L387.0,1290.5 L390.0,1290.5 L393.0,1290.5 L396.0,1290.5 L399.0,1290.5 L402.0,1290.5 L405.0,1290.4 L408.0,1290.4 L411.0,1290.3 L414.0,1290.2 L417.0,1290.1 L420.0,1289.9 L423.0,1289.7 L426.0,1289.4 L429.0,1289.0 L432.0,1288.7 L435.0,1288.4 L438.0,1288.1 L441.0,1288.0 L444.0,1288.0 L447.0,1288.0 L450.0,1288.0 L453.0,1288.0 L456.0,1288.0 L459.0,1288.0 L462.0,1288.0 L465.0,1288.1 L468.0,1288.1 L471.0,1288.1 L474.0,1288.1 L477.0,1288.1 L480.0,1288.1 L483.0,1288.1 L486.0,1288.2 L489.0,1288.2 L492.0,1288.2 L495.0,1288.2 L498.0,1288.2 L501.0,1288.3 L504.0,1288.3 L507.0,1288.3 L510.0,1288.3 L513.0,1288.3 L516.0,1288.4 L519.0,1288.4 L522.0,1288.4 L525.0,1288.4 L528.0,1288.4 L531.0,1288.4 L534.0,1288.5 L537.0,1288.5 L540.0,1288.5 L543.0,1288.5 L546.0,1288.5 L549.0,1288.5 L552.0,1288.6 L555.0,1288.6 L558.0,1288.6 L561.0,1288.6 L564.0,1288.6 L567.0,1288.6 L570.0,1288.6 L573.0,1288.7 L576.0,1288.7 L579.0,1288.7 L582.0,1288.7 L585.0,1288.7 L588.0,1288.7 L591.0,1288.7 L594.0,1288.8 L597.0,1288.8 L600.0,1288.8 L603.0,1288.8 L606.0,1288.8 L609.0,1288.8 L612.0,1288.8 L615.0,1288.9 L618.0,1288.9 L621.0,1288.9 L624.0,1288.9 L627.0,1288.9 L630.0,1288.9 L633.0,1289.0 L636.0,1289.0 L639.0,1289.0 L642.0,1289.0 L645.0,1289.0 L648.0,1289.0 L651.0,1289.1 L654.0,1289.1 L657.0,1289.1 L660.0,1289.1 L663.0,1289.2 L666.0,1289.2 L669.0,1289.2 L672.0,1289.2 L675.0,1289.3 L678.0,1289.3 L681.0,1289.3 L684.0,1289.3 L687.0,1289.4 L690.0,1289.4 L693.0,1289.4 L696.0,1289.5 L699.0,1289.5 L702.0,1289.5 L705.0,1289.6 L708.0,1289.6 L711.0,1289.7 L714.0,1289.8 L717.0,1289.9 L720.0,1290.0 L723.0,1290.1 L726.0,1290.2 L729.0,1290.3 L732.0,1290.4 L735.0,1290.6 L738.0,1290.7 L741.0,1290.8 L744.0,1290.9 L747.0,1291.1 L750.0,1291.2 L753.0,1291.3 L756.0,1291.4 L759.0,1291.5 L762.0,1291.6 L765.0,1291.7 L768.0,1291.8 L771.0,1291.9 L774.0,1291.9 L777.0,1292.0 L780.0,1292.0 L783.0,1292.0 L786.0,1292.1 L789.0,1292.1 L792.0,1292.1 L795.0,1292.1 L798.0,1292.1 L801.0,1292.2 L804.0,1292.2 L807.0,1292.2 L810.0,1292.2 L813.0,1292.3 L816.0,1292.3 L819.0,1292.3 L822.0,1292.3 L825.0,1292.3 L828.0,1292.4 L831.0,1292.4 L834.0,1292.4 L837.0,1292.4 L840.0,1292.4 L843.0,1292.4 L846.0,1292.4 L849.0,1292.5 L852.0,1292.5 L855.0,1292.5 L858.0,1292.5 L861.0,1292.5 L864.0,1292.5 L867.0,1292.5 L870.0,1292.6 L873.0,1292.6 L876.0,1292.6 L879.0,1292.6 L882.0,1292.6 L885.0,1292.6 L888.0,1292.6 L891.0,1292.6 L894.0,1292.6 L897.0,1292.7 L900.0,1292.7 L903.0,1292.7 L906.0,1292.7 L909.0,1292.7 L912.0,1292.7 L915.0,1292.7 L918.0,1292.7 L921.0,1292.7 L924.0,1292.7 L927.0,1292.8 L930.0,1292.8 L933.0,1292.8 L936.0,1292.8 L939.0,1292.8 L942.0,1292.8 L945.0,1292.8 L948.0,1292.8 L951.0,1292.8 L954.0,1292.8 L957.0,1292.8 L960.0,1292.9 L963.0,1292.9 L966.0,1292.9 L969.0,1292.9 L972.0,1292.9 L975.0,1292.9 L978.0,1292.9 L981.0,1292.9 L984.0,1292.9 L987.0,1292.9 L990.0,1293.0 L993.0,1293.0 L996.0,1293.0 L999.0,1293.0 L1002.0,1293.0 L1005.0,1293.0 L1008.0,1293.0 L1011.0,1293.0 L1014.0,1293.1 L1017.0,1293.1 L1020.0,1293.1 L1023.0,1293.1 L1026.0,1293.1 L1029.0,1293.1 L1032.0,1293.1 L1035.0,1293.1 L1038.0,1293.2 L1041.0,1293.2 L1044.0,1293.2 L1047.0,1293.2 L1050.0,1293.2 L1053.0,1293.2 L1056.0,1293.2 L1059.0,1293.2 L1062.0,1293.3 L1065.0,1293.3 L1068.0,1293.3 L1071.0,1293.3 L1074.0,1293.3 L1077.0,1293.3 L1080.0,1293.3 L1083.0,1293.3 L1086.0,1293.3 L1089.0,1293.4 L1092.0,1293.4 L1095.0,1293.4 L1098.0,1293.4 L1101.0,1293.4 L1104.0,1293.4 L1107.0,1293.4 L1110.0,1293.4 L1113.0,1293.5 L1116.0,1293.5 L1119.0,1293.5 L1122.0,1293.5 L1125.0,1293.5 L1128.0,1293.5 L1131.0,1293.5 L1134.0,1293.5 L1137.0,1293.6 L1140.0,1293.6 L1143.0,1293.6 L1146.0,1293.6 L1149.0,1293.6 L1152.0,1293.6 L1155.0,1293.6 L1158.0,1293.6 L1161.0,1293.6 L1164.0,1293.7 L1167.0,1293.7 L1170.0,1293.7 L1173.0,1293.7 L1176.0,1293.7 L1179.0,1293.7 L1182.0,1293.7 L1185.0,1293.7 L1188.0,1293.8 L1191.0,1293.8 L1194.0,1293.8 L1197.0,1293.8 L1200.0,1293.8 L1203.0,1293.8 L1206.0,1293.8 L1209.0,1293.8 L1212.0,1293.8 L1215.0,1293.9 L1218.0,1293.9 L1221.0,1293.9 L1224.0,1293.9 L1227.0,1293.9 L1230.0,1293.9 L1233.0,1293.9 L1236.0,1293.9 L1239.0,1293.9 L1242.0,1294.0 L1245.0,1294.0 L1248.0,1294.0 L1251.0,1294.0 L1254.0,1294.0 L1257.0,1294.0 L1260.0,1294.0 L1263.0,1294.0 L1266.0,1294.1 L1269.0,1294.1 L1272.0,1294.1 L1275.0,1294.1 L1278.0,1294.1 L1281.0,1294.1 L1284.0,1294.1 L1287.0,1294.1 L1290.0,1294.1 L1293.0,1294.2 L1296.0,1294.2 L1299.0,1294.2 L1302.0,1294.2 L1305.0,1294.2 L1308.0,1294.2 L1311.0,1294.2 L1314.0,1294.2 L1317.0,1294.2 L1320.0,1294.3 L1323.0,1294.3 L1326.0,1294.3 L1329.0,1294.3 L1332.0,1294.3 L1335.0,1294.3 L1338.0,1294.3 L1341.0,1294.3 L1344.0,1294.3 L1347.0,1294.4 L1350.0,1294.4 L1353.0,1294.4 L1356.0,1294.4 L1359.0,1294.4 L1362.0,1294.4 L1365.0,1294.4 L1368.0,1294.4 L1371.0,1294.4 L1374.0,1294.5 L1377.0,1294.5 L1380.0,1294.5 L1383.0,1294.5 L1386.0,1294.5 L1389.0,1294.5 L1392.0,1294.5 L1395.0,1294.5 L1398.0,1294.5 L1401.0,1294.6 L1404.0,1294.6 L1407.0,1294.6 L1410.0,1294.6 L1413.0,1294.6 L1416.0,1294.6 L1419.0,1294.6 L1422.0,1294.6 L1425.0,1294.6 L1428.0,1294.7 L1431.0,1294.7 L1434.0,1294.7 L1437.0,1294.7 L1440.0,1294.7 L1443.0,1294.7 L1446.0,1294.7 L1449.0,1294.7 L1452.0,1294.7 L1455.0,1294.7 L1458.0,1294.8 L1461.0,1294.8 L1464.0,1294.8 L1467.0,1294.8 L1470.0,1294.8 L1473.0,1294.8 L1476.0,1294.8 L1479.0,1294.8 L1482.0,1294.8 L1485.0,1294.9 L1488.0,1294.9 L1491.0,1294.9 L1494.0,1294.9 L1497.0,1294.9 L1500.0,1294.9 L1503.0,1294.9 L1506.0,1294.9 L1509.0,1294.9 L1512.0,1294.9 L1515.0,1295.0 L1518.0,1295.0 L1521.0,1295.0 L1524.0,1295.0 L1527.0,1295.0 L1530.0,1295.0 L1533.0,1295.0 L1536.0,1295.0 L1539.0,1295.0 L1542.0,1295.0 L1545.0,1295.1 L1548.0,1295.1 L1551.0,1295.1 L1554.0,1295.1 L1557.0,1295.1 L1560.0,1295.1 L1563.0,1295.1 L1566.0,1295.1 L1569.0,1295.1 L1572.0,1295.1 L1575.0,1295.2 L1578.0,1295.2 L1581.0,1295.2 L1584.0,1295.2 L1587.0,1295.2 L1590.0,1295.2 L1593.0,1295.2 L1596.0,1295.2 L1599.0,1295.2 L1602.0,1295.2 L1605.0,1295.3 L1608.0,1295.3 L1611.0,1295.3 L1614.0,1295.3 L1617.0,1295.3 L1620.0,1295.3 L1623.0,1295.3 L1626.0,1295.3 L1629.0,1295.3 L1632.0,1295.3 L1635.0,1295.4 L1638.0,1295.4 L1641.0,1295.4 L1644.0,1295.4 L1647.0,1295.4 L1650.0,1295.4 L1653.0,1295.4 L1656.0,1295.4 L1659.0,1295.4 L1662.0,1295.4 L1665.0,1295.4 L1668.0,1295.5 L1671.0,1295.5 L1674.0,1295.5 L1677.0,1295.5 L1680.0,1295.5 L1683.0,1295.5 L1686.0,1295.5 L1689.0,1295.5 L1692.0,1295.5 L1695.0,1295.5 L1698.0,1295.6 L1701.0,1295.6 L1704.0,1295.6 L1707.0,1295.6 L1710.0,1295.6 L1713.0,1295.6 L1716.0,1295.6 L1719.0,1295.6 L1722.0,1295.6 L1725.0,1295.6 L1728.0,1295.6 L1731.0,1295.7 L1734.0,1295.7 L1737.0,1295.7 L1740.0,1295.7 L1743.0,1295.7 L1746.0,1295.7 L1749.0,1295.7 L1752.0,1295.7 L1755.0,1295.7 L1758.0,1295.7 L1761.0,1295.7 L1764.0,1295.7 L1767.0,1295.8 L1770.0,1295.8 L1773.0,1295.8 L1776.0,1295.8 L1779.0,1295.8 L1782.0,1295.8 L1785.0,1295.8 L1788.0,1295.8 L1791.0,1295.8 L1794.0,1295.8 L1797.0,1295.8 L1800.0,1295.9 L1803.0,1295.9 L1806.0,1295.9 L1809.0,1295.9 L1812.0,1295.9 L1815.0,1295.9 L1818.0,1295.9 L1821.0,1295.9 L1824.0,1295.9 L1827.0,1295.9 L1830.0,1295.9 L1833.0,1295.9 L1836.0,1296.0 L1839.0,1296.0 L1842.0,1296.0 L1845.0,1296.0 L1848.0,1296.0 L1851.0,1296.0 L1853.0,1296.0"/>
<path class="curve" stroke="#B177DE" d="M279.0,1262.0 L282.0,1260.1 L285.0,1262.8 L288.0,1268.7 L291.0,1273.5 L294.0,1277.8 L297.0,1281.0 L300.0,1282.9 L303.0,1283.8 L306.0,1284.1 L309.0,1284.3 L312.0,1284.4 L315.0,1284.5 L318.0,1284.6 L321.0,1284.6 L324.0,1284.7 L327.0,1284.8 L330.0,1284.8 L333.0,1284.9 L336.0,1284.9 L339.0,1284.9 L342.0,1285.0 L345.0,1285.0 L348.0,1285.0 L351.0,1285.1 L354.0,1285.1 L357.0,1285.1 L360.0,1285.1 L363.0,1285.1 L366.0,1285.2 L369.0,1285.2 L372.0,1285.2 L375.0,1285.2 L378.0,1285.3 L381.0,1285.3 L384.0,1285.3 L387.0,1285.3 L390.0,1285.4 L393.0,1285.4 L396.0,1285.4 L399.0,1285.5 L402.0,1285.5 L405.0,1285.6 L408.0,1285.6 L411.0,1285.7 L414.0,1285.7 L417.0,1285.8 L420.0,1285.9 L423.0,1285.9 L426.0,1286.0 L429.0,1286.0 L432.0,1286.1 L435.0,1286.2 L438.0,1286.2 L441.0,1286.3 L444.0,1286.4 L447.0,1286.4 L450.0,1286.5 L453.0,1286.6 L456.0,1286.6 L459.0,1286.7 L462.0,1286.8 L465.0,1286.8 L468.0,1286.9 L471.0,1287.0 L474.0,1287.1 L477.0,1287.1 L480.0,1287.2 L483.0,1287.3 L486.0,1287.3 L489.0,1287.4 L492.0,1287.5 L495.0,1287.5 L498.0,1287.6 L501.0,1287.7 L504.0,1287.7 L507.0,1287.8 L510.0,1287.9 L513.0,1287.9 L516.0,1288.0 L519.0,1288.1 L522.0,1288.1 L525.0,1288.2 L528.0,1288.2 L531.0,1288.3 L534.0,1288.3 L537.0,1288.4 L540.0,1288.4 L543.0,1288.5 L546.0,1288.5 L549.0,1288.6 L552.0,1288.6 L555.0,1288.7 L558.0,1288.7 L561.0,1288.7 L564.0,1288.8 L567.0,1288.8 L570.0,1288.8 L573.0,1288.9 L576.0,1288.9 L579.0,1288.9 L582.0,1288.9 L585.0,1289.0 L588.0,1289.0 L591.0,1289.0 L594.0,1289.0 L597.0,1289.0 L600.0,1289.0 L603.0,1289.0 L606.0,1289.0 L609.0,1289.0 L612.0,1289.0 L615.0,1289.0 L618.0,1289.0 L621.0,1289.0 L624.0,1289.0 L627.0,1289.0 L630.0,1289.0 L633.0,1289.0 L636.0,1289.0 L639.0,1289.0 L642.0,1289.0 L645.0,1289.0 L648.0,1289.0 L651.0,1289.0 L654.0,1289.0 L657.0,1289.0 L660.0,1289.0 L663.0,1289.0 L666.0,1289.0 L669.0,1289.0 L672.0,1289.0 L675.0,1289.0 L678.0,1289.0 L681.0,1289.0 L684.0,1289.0 L687.0,1289.0 L690.0,1289.0 L693.0,1289.0 L696.0,1289.0 L699.0,1289.0 L702.0,1289.0 L705.0,1289.0 L708.0,1289.0 L711.0,1289.0 L714.0,1289.0 L717.0,1289.0 L720.0,1289.0 L723.0,1289.0 L726.0,1289.0 L729.0,1289.0 L732.0,1289.0 L735.0,1289.0 L738.0,1289.0 L741.0,1289.0 L744.0,1289.0 L747.0,1289.0 L750.0,1289.0 L753.0,1289.0 L756.0,1289.0 L759.0,1289.0 L762.0,1289.0 L765.0,1289.0 L768.0,1289.0 L771.0,1289.0 L774.0,1289.0 L777.0,1289.0 L780.0,1289.0 L783.0,1289.0 L786.0,1289.0 L789.0,1289.0 L792.0,1289.0 L795.0,1289.0 L798.0,1289.0 L801.0,1289.0 L804.0,1289.0 L807.0,1289.0 L810.0,1289.0 L813.0,1289.0 L816.0,1289.0 L819.0,1289.0 L822.0,1289.0 L825.0,1289.0 L828.0,1289.0 L831.0,1289.0 L834.0,1289.0 L837.0,1289.0 L840.0,1289.0 L843.0,1289.0 L846.0,1289.0 L849.0,1289.0 L852.0,1289.0 L855.0,1289.0 L858.0,1289.0 L861.0,1289.0 L864.0,1289.0 L867.0,1289.0 L870.0,1289.0 L873.0,1289.0 L876.0,1289.0 L879.0,1289.0 L882.0,1289.0 L885.0,1289.0 L888.0,1289.0 L891.0,1289.0 L894.0,1289.0 L897.0,1289.0 L900.0,1289.0 L903.0,1289.0 L906.0,1288.9 L909.0,1288.9 L912.0,1288.8 L915.0,1288.7 L918.0,1288.6 L921.0,1288.5 L924.0,1288.3 L927.0,1288.2 L930.0,1288.0 L933.0,1287.9 L936.0,1287.7 L939.0,1287.5 L942.0,1287.4 L945.0,1287.2 L948.0,1287.1 L951.0,1287.0 L954.0,1286.8 L957.0,1286.7 L960.0,1286.6 L963.0,1286.4 L966.0,1286.3 L969.0,1286.2 L972.0,1286.0 L975.0,1285.9 L978.0,1285.7 L981.0,1285.6 L984.0,1285.4 L987.0,1285.3 L990.0,1285.1 L993.0,1284.9 L996.0,1284.8 L999.0,1284.6 L1002.0,1284.3 L1005.0,1284.1 L1008.0,1283.9 L1011.0,1283.6 L1014.0,1283.4 L1017.0,1283.1 L1020.0,1282.8 L1023.0,1282.5 L1026.0,1282.1 L1029.0,1281.8 L1032.0,1281.5 L1035.0,1281.2 L1038.0,1280.8 L1041.0,1280.5 L1044.0,1280.1 L1047.0,1279.8 L1050.0,1279.4 L1053.0,1279.0 L1056.0,1278.6 L1059.0,1278.2 L1062.0,1277.8 L1065.0,1277.4 L1068.0,1277.0 L1071.0,1276.7 L1074.0,1276.4 L1077.0,1276.1 L1080.0,1275.8 L1083.0,1275.5 L1086.0,1275.2 L1089.0,1274.9 L1092.0,1274.6 L1095.0,1274.3 L1098.0,1274.1 L1101.0,1273.8 L1104.0,1273.6 L1107.0,1273.4 L1110.0,1273.3 L1113.0,1273.2 L1116.0,1273.1 L1119.0,1273.0 L1122.0,1273.0 L1125.0,1273.0 L1128.0,1273.0 L1131.0,1273.0 L1134.0,1273.0 L1137.0,1273.0 L1140.0,1273.0 L1143.0,1273.0 L1146.0,1273.0 L1149.0,1273.0 L1152.0,1273.0 L1155.0,1273.0 L1158.0,1273.0 L1161.0,1272.9 L1164.0,1272.9 L1167.0,1272.9 L1170.0,1272.8 L1173.0,1272.8 L1176.0,1272.8 L1179.0,1272.7 L1182.0,1272.7 L1185.0,1272.6 L1188.0,1272.6 L1191.0,1272.6 L1194.0,1272.5 L1197.0,1272.5 L1200.0,1272.4 L1203.0,1272.4 L1206.0,1272.3 L1209.0,1272.3 L1212.0,1272.3 L1215.0,1272.3 L1218.0,1272.2 L1221.0,1272.2 L1224.0,1272.2 L1227.0,1272.2 L1230.0,1272.2 L1233.0,1272.2 L1236.0,1272.2 L1239.0,1272.2 L1242.0,1272.3 L1245.0,1272.3 L1248.0,1272.3 L1251.0,1272.4 L1254.0,1272.4 L1257.0,1272.4 L1260.0,1272.5 L1263.0,1272.5 L1266.0,1272.6 L1269.0,1272.6 L1272.0,1272.7 L1275.0,1272.7 L1278.0,1272.8 L1281.0,1272.8 L1284.0,1272.9 L1287.0,1272.9 L1290.0,1273.0 L1293.0,1273.0 L1296.0,1273.1 L1299.0,1273.1 L1302.0,1273.2 L1305.0,1273.2 L1308.0,1273.3 L1311.0,1273.4 L1314.0,1273.4 L1317.0,1273.5 L1320.0,1273.6 L1323.0,1273.6 L1326.0,1273.7 L1329.0,1273.8 L1332.0,1273.9 L1335.0,1274.0 L1338.0,1274.0 L1341.0,1274.1 L1344.0,1274.2 L1347.0,1274.3 L1350.0,1274.4 L1353.0,1274.5 L1356.0,1274.6 L1359.0,1274.7 L1362.0,1274.9 L1365.0,1275.0 L1368.0,1275.1 L1371.0,1275.3 L1374.0,1275.4 L1377.0,1275.6 L1380.0,1275.7 L1383.0,1275.9 L1386.0,1276.1 L1389.0,1276.3 L1392.0,1276.5 L1395.0,1276.7 L1398.0,1276.9 L1401.0,1277.1 L1404.0,1277.3 L1407.0,1277.5 L1410.0,1277.8 L1413.0,1278.1 L1416.0,1278.3 L1419.0,1278.6 L1422.0,1278.9 L1425.0,1279.1 L1428.0,1279.4 L1431.0,1279.7 L1434.0,1279.9 L1437.0,1280.2 L1440.0,1280.4 L1443.0,1280.7 L1446.0,1280.9 L1449.0,1281.2 L1452.0,1281.4 L1455.0,1281.7 L1458.0,1281.9 L1461.0,1282.2 L1464.0,1282.4 L1467.0,1282.7 L1470.0,1282.9 L1473.0,1283.2 L1476.0,1283.4 L1479.0,1283.6 L1482.0,1283.9 L1485.0,1284.1 L1488.0,1284.3 L1491.0,1284.6 L1494.0,1284.8 L1497.0,1285.0 L1500.0,1285.2 L1503.0,1285.5 L1506.0,1285.7 L1509.0,1285.9 L1512.0,1286.1 L1515.0,1286.3 L1518.0,1286.6 L1521.0,1286.8 L1524.0,1287.0 L1527.0,1287.2 L1530.0,1287.4 L1533.0,1287.6 L1536.0,1287.8 L1539.0,1287.9 L1542.0,1288.1 L1545.0,1288.2 L1548.0,1288.4 L1551.0,1288.5 L1554.0,1288.7 L1557.0,1288.8 L1560.0,1288.9 L1563.0,1289.1 L1566.0,1289.2 L1569.0,1289.3 L1572.0,1289.5 L1575.0,1289.6 L1578.0,1289.7 L1581.0,1289.8 L1584.0,1289.9 L1587.0,1290.0 L1590.0,1290.1 L1593.0,1290.3 L1596.0,1290.4 L1599.0,1290.5 L1602.0,1290.6 L1605.0,1290.7 L1608.0,1290.8 L1611.0,1290.9 L1614.0,1291.0 L1617.0,1291.1 L1620.0,1291.1 L1623.0,1291.2 L1626.0,1291.3 L1629.0,1291.4 L1632.0,1291.5 L1635.0,1291.6 L1638.0,1291.7 L1641.0,1291.8 L1644.0,1291.8 L1647.0,1291.9 L1650.0,1292.0 L1653.0,1292.1 L1656.0,1292.2 L1659.0,1292.2 L1662.0,1292.3 L1665.0,1292.4 L1668.0,1292.5 L1671.0,1292.5 L1674.0,1292.6 L1677.0,1292.7 L1680.0,1292.8 L1683.0,1292.9 L1686.0,1292.9 L1689.0,1293.0 L1692.0,1293.1 L1695.0,1293.2 L1698.0,1293.2 L1701.0,1293.3 L1704.0,1293.4 L1707.0,1293.4 L1710.0,1293.5 L1713.0,1293.6 L1716.0,1293.7 L1719.0,1293.7 L1722.0,1293.8 L1725.0,1293.9 L1728.0,1293.9 L1731.0,1294.0 L1734.0,1294.1 L1737.0,1294.1 L1740.0,1294.2 L1743.0,1294.3 L1746.0,1294.3 L1749.0,1294.4 L1752.0,1294.5 L1755.0,1294.5 L1758.0,1294.6 L1761.0,1294.6 L1764.0,1294.7 L1767.0,1294.8 L1770.0,1294.8 L1773.0,1294.9 L1776.0,1294.9 L1779.0,1295.0 L1782.0,1295.0 L1785.0,1295.1 L1788.0,1295.1 L1791.0,1295.2 L1794.0,1295.2 L1797.0,1295.3 L1800.0,1295.3 L1803.0,1295.4 L1806.0,1295.4 L1809.0,1295.5 L1812.0,1295.5 L1815.0,1295.6 L1818.0,1295.6 L1821.0,1295.6 L1824.0,1295.7 L1827.0,1295.7 L1830.0,1295.8 L1833.0,1295.8 L1836.0,1295.8 L1839.0,1295.9 L1842.0,1295.9 L1845.0,1295.9 L1848.0,1296.0 L1851.0,1296.0 L1853.0,1296.0"/>
<path class="curve" stroke="#CC9900" d="M279.0,1257.5 L282.0,1261.5 L285.0,1264.8 L288.0,1266.9 L291.0,1268.9 L294.0,1270.2 L297.0,1271.1 L300.0,1271.6 L303.0,1271.9 L306.0,1272.1 L309.0,1272.2 L312.0,1272.3 L315.0,1272.3 L318.0,1272.3 L321.0,1272.3 L324.0,1272.3 L327.0,1272.3 L330.0,1272.3 L333.0,1272.3 L336.0,1272.3 L339.0,1272.3 L342.0,1272.3 L345.0,1272.3 L348.0,1272.3 L351.0,1272.3 L354.0,1272.3 L357.0,1272.3 L360.0,1272.3 L363.0,1272.3 L366.0,1272.3 L369.0,1272.3 L372.0,1272.3 L375.0,1272.3 L378.0,1272.3 L381.0,1272.3 L384.0,1272.3 L387.0,1272.3 L390.0,1272.3 L393.0,1272.3 L396.0,1272.3 L399.0,1272.3 L402.0,1272.3 L405.0,1272.3 L408.0,1272.3 L411.0,1272.2 L414.0,1271.9 L417.0,1271.5 L420.0,1271.0 L423.0,1270.4 L426.0,1269.8 L429.0,1269.2 L432.0,1268.6 L435.0,1268.0 L438.0,1267.5 L441.0,1267.0 L444.0,1266.7 L447.0,1266.5 L450.0,1266.3 L453.0,1266.2 L456.0,1266.2 L459.0,1266.1 L462.0,1266.1 L465.0,1266.0 L468.0,1266.1 L471.0,1266.2 L474.0,1266.5 L477.0,1267.1 L480.0,1267.9 L483.0,1268.9 L486.0,1269.9 L489.0,1271.0 L492.0,1272.0 L495.0,1273.0 L498.0,1273.9 L501.0,1274.8 L504.0,1275.8 L507.0,1276.7 L510.0,1277.6 L513.0,1278.4 L516.0,1279.2 L519.0,1279.8 L522.0,1280.3 L525.0,1280.7 L528.0,1281.2 L531.0,1281.6 L534.0,1282.0 L537.0,1282.3 L540.0,1282.7 L543.0,1283.0 L546.0,1283.2 L549.0,1283.5 L552.0,1283.7 L555.0,1283.8 L558.0,1283.9 L561.0,1284.0 L564.0,1284.1 L567.0,1284.1 L570.0,1284.1 L573.0,1284.2 L576.0,1284.2 L579.0,1284.3 L582.0,1284.3 L585.0,1284.3 L588.0,1284.3 L591.0,1284.4 L594.0,1284.4 L597.0,1284.4 L600.0,1284.4 L603.0,1284.5 L606.0,1284.5 L609.0,1284.5 L612.0,1284.5 L615.0,1284.5 L618.0,1284.5 L621.0,1284.6 L624.0,1284.6 L627.0,1284.6 L630.0,1284.6 L633.0,1284.6 L636.0,1284.6 L639.0,1284.6 L642.0,1284.7 L645.0,1284.7 L648.0,1284.7 L651.0,1284.7 L654.0,1284.7 L657.0,1284.7 L660.0,1284.7 L663.0,1284.7 L666.0,1284.8 L669.0,1284.8 L672.0,1284.8 L675.0,1284.8 L678.0,1284.8 L681.0,1284.8 L684.0,1284.9 L687.0,1284.9 L690.0,1284.9 L693.0,1284.9 L696.0,1285.0 L699.0,1285.0 L702.0,1285.0 L705.0,1285.1 L708.0,1285.1 L711.0,1285.1 L714.0,1285.2 L717.0,1285.2 L720.0,1285.3 L723.0,1285.3 L726.0,1285.4 L729.0,1285.5 L732.0,1285.5 L735.0,1285.6 L738.0,1285.6 L741.0,1285.7 L744.0,1285.8 L747.0,1285.8 L750.0,1285.9 L753.0,1285.9 L756.0,1286.0 L759.0,1286.0 L762.0,1286.1 L765.0,1286.2 L768.0,1286.2 L771.0,1286.3 L774.0,1286.3 L777.0,1286.3 L780.0,1286.4 L783.0,1286.4 L786.0,1286.4 L789.0,1286.5 L792.0,1286.5 L795.0,1286.5 L798.0,1286.5 L801.0,1286.5 L804.0,1286.5 L807.0,1286.4 L810.0,1286.3 L813.0,1286.2 L816.0,1286.1 L819.0,1286.0 L822.0,1285.8 L825.0,1285.7 L828.0,1285.5 L831.0,1285.3 L834.0,1285.1 L837.0,1284.9 L840.0,1284.7 L843.0,1284.4 L846.0,1284.2 L849.0,1283.8 L852.0,1283.5 L855.0,1283.1 L858.0,1282.8 L861.0,1282.4 L864.0,1281.9 L867.0,1281.5 L870.0,1281.0 L873.0,1280.4 L876.0,1279.8 L879.0,1279.2 L882.0,1278.4 L885.0,1277.5 L888.0,1276.5 L891.0,1275.4 L894.0,1274.3 L897.0,1273.2 L900.0,1272.3 L903.0,1271.4 L906.0,1270.5 L909.0,1269.7 L912.0,1269.0 L915.0,1268.2 L918.0,1267.4 L921.0,1266.6 L924.0,1265.7 L927.0,1264.8 L930.0,1263.8 L933.0,1262.8 L936.0,1261.8 L939.0,1260.8 L942.0,1259.8 L945.0,1258.8 L948.0,1257.7 L951.0,1256.7 L954.0,1255.7 L957.0,1254.7 L960.0,1253.6 L963.0,1252.6 L966.0,1251.6 L969.0,1250.7 L972.0,1249.8 L975.0,1248.9 L978.0,1248.1 L981.0,1247.3 L984.0,1246.5 L987.0,1245.7 L990.0,1244.9 L993.0,1244.1 L996.0,1243.3 L999.0,1242.4 L1002.0,1241.5 L1005.0,1240.6 L1008.0,1239.7 L1011.0,1238.7 L1014.0,1237.8 L1017.0,1237.0 L1020.0,1236.1 L1023.0,1235.4 L1026.0,1234.6 L1029.0,1233.8 L1032.0,1233.1 L1035.0,1232.4 L1038.0,1231.8 L1041.0,1231.1 L1044.0,1230.5 L1047.0,1230.0 L1050.0,1229.4 L1053.0,1228.9 L1056.0,1228.4 L1059.0,1227.9 L1062.0,1227.4 L1065.0,1227.0 L1068.0,1226.5 L1071.0,1226.1 L1074.0,1225.7 L1077.0,1225.3 L1080.0,1224.9 L1083.0,1224.5 L1086.0,1224.1 L1089.0,1223.8 L1092.0,1223.5 L1095.0,1223.1 L1098.0,1222.8 L1101.0,1222.4 L1104.0,1222.1 L1107.0,1221.8 L1110.0,1221.6 L1113.0,1221.5 L1116.0,1221.5 L1119.0,1221.6 L1122.0,1221.7 L1125.0,1222.0 L1128.0,1222.2 L1131.0,1222.5 L1134.0,1222.7 L1137.0,1223.0 L1140.0,1223.2 L1143.0,1223.4 L1146.0,1223.6 L1149.0,1223.8 L1152.0,1224.1 L1155.0,1224.3 L1158.0,1224.5 L1161.0,1224.8 L1164.0,1225.0 L1167.0,1225.3 L1170.0,1225.6 L1173.0,1225.8 L1176.0,1226.1 L1179.0,1226.4 L1182.0,1226.7 L1185.0,1227.0 L1188.0,1227.4 L1191.0,1227.7 L1194.0,1228.0 L1197.0,1228.4 L1200.0,1228.7 L1203.0,1229.1 L1206.0,1229.5 L1209.0,1229.9 L1212.0,1230.3 L1215.0,1230.7 L1218.0,1231.1 L1221.0,1231.4 L1224.0,1231.8 L1227.0,1232.1 L1230.0,1232.4 L1233.0,1232.6 L1236.0,1232.9 L1239.0,1233.1 L1242.0,1233.3 L1245.0,1233.5 L1248.0,1233.7 L1251.0,1233.9 L1254.0,1234.1 L1257.0,1234.4 L1260.0,1234.7 L1263.0,1235.0 L1266.0,1235.4 L1269.0,1235.8 L1272.0,1236.2 L1275.0,1236.7 L1278.0,1237.2 L1281.0,1237.7 L1284.0,1238.2 L1287.0,1238.7 L1290.0,1239.1 L1293.0,1239.6 L1296.0,1240.0 L1299.0,1240.5 L1302.0,1240.9 L1305.0,1241.4 L1308.0,1241.8 L1311.0,1242.3 L1314.0,1242.7 L1317.0,1243.2 L1320.0,1243.6 L1323.0,1244.1 L1326.0,1244.6 L1329.0,1245.1 L1332.0,1245.6 L1335.0,1246.1 L1338.0,1246.7 L1341.0,1247.2 L1344.0,1247.7 L1347.0,1248.3 L1350.0,1248.8 L1353.0,1249.3 L1356.0,1249.9 L1359.0,1250.4 L1362.0,1250.9 L1365.0,1251.4 L1368.0,1251.9 L1371.0,1252.4 L1374.0,1252.9 L1377.0,1253.5 L1380.0,1254.0 L1383.0,1254.5 L1386.0,1255.1 L1389.0,1255.7 L1392.0,1256.4 L1395.0,1257.0 L1398.0,1257.7 L1401.0,1258.5 L1404.0,1259.2 L1407.0,1259.9 L1410.0,1260.5 L1413.0,1261.2 L1416.0,1261.8 L1419.0,1262.5 L1422.0,1263.1 L1425.0,1263.7 L1428.0,1264.3 L1431.0,1264.9 L1434.0,1265.4 L1437.0,1266.0 L1440.0,1266.6 L1443.0,1267.2 L1446.0,1267.8 L1449.0,1268.4 L1452.0,1269.0 L1455.0,1269.6 L1458.0,1270.2 L1461.0,1270.8 L1464.0,1271.4 L1467.0,1272.0 L1470.0,1272.6 L1473.0,1273.2 L1476.0,1273.8 L1479.0,1274.5 L1482.0,1275.1 L1485.0,1275.7 L1488.0,1276.3 L1491.0,1277.0 L1494.0,1277.5 L1497.0,1278.1 L1500.0,1278.6 L1503.0,1279.1 L1506.0,1279.6 L1509.0,1280.0 L1512.0,1280.5 L1515.0,1280.9 L1518.0,1281.3 L1521.0,1281.7 L1524.0,1282.1 L1527.0,1282.5 L1530.0,1282.9 L1533.0,1283.2 L1536.0,1283.6 L1539.0,1283.9 L1542.0,1284.2 L1545.0,1284.5 L1548.0,1284.8 L1551.0,1285.1 L1554.0,1285.4 L1557.0,1285.7 L1560.0,1286.0 L1563.0,1286.2 L1566.0,1286.5 L1569.0,1286.8 L1572.0,1287.0 L1575.0,1287.3 L1578.0,1287.5 L1581.0,1287.7 L1584.0,1288.0 L1587.0,1288.2 L1590.0,1288.4 L1593.0,1288.6 L1596.0,1288.8 L1599.0,1288.9 L1602.0,1289.1 L1605.0,1289.3 L1608.0,1289.4 L1611.0,1289.6 L1614.0,1289.7 L1617.0,1289.9 L1620.0,1290.0 L1623.0,1290.2 L1626.0,1290.3 L1629.0,1290.5 L1632.0,1290.6 L1635.0,1290.7 L1638.0,1290.9 L1641.0,1291.0 L1644.0,1291.1 L1647.0,1291.2 L1650.0,1291.4 L1653.0,1291.5 L1656.0,1291.6 L1659.0,1291.7 L1662.0,1291.8 L1665.0,1291.9 L1668.0,1292.0 L1671.0,1292.1 L1674.0,1292.2 L1677.0,1292.3 L1680.0,1292.4 L1683.0,1292.5 L1686.0,1292.6 L1689.0,1292.7 L1692.0,1292.8 L1695.0,1292.9 L1698.0,1292.9 L1701.0,1293.0 L1704.0,1293.1 L1707.0,1293.2 L1710.0,1293.3 L1713.0,1293.3 L1716.0,1293.4 L1719.0,1293.5 L1722.0,1293.6 L1725.0,1293.7 L1728.0,1293.7 L1731.0,1293.8 L1734.0,1293.9 L1737.0,1294.0 L1740.0,1294.0 L1743.0,1294.1 L1746.0,1294.2 L1749.0,1294.3 L1752.0,1294.3 L1755.0,1294.4 L1758.0,1294.5 L1761.0,1294.5 L1764.0,1294.6 L1767.0,1294.7 L1770.0,1294.7 L1773.0,1294.8 L1776.0,1294.9 L1779.0,1294.9 L1782.0,1295.0 L1785.0,1295.0 L1788.0,1295.1 L1791.0,1295.2 L1794.0,1295.2 L1797.0,1295.3 L1800.0,1295.3 L1803.0,1295.4 L1806.0,1295.4 L1809.0,1295.5 L1812.0,1295.5 L1815.0,1295.6 L1818.0,1295.6 L1821.0,1295.7 L1824.0,1295.7 L1827.0,1295.7 L1830.0,1295.8 L1833.0,1295.8 L1836.0,1295.8 L1839.0,1295.9 L1842.0,1295.9 L1845.0,1295.9 L1848.0,1296.0 L1851.0,1296.0 L1853.0,1296.0"/>
<path class="curve" stroke="#00CBCC" d="M279.0,1275.0 L282.0,1277.5 L285.0,1280.2 L288.0,1281.9 L291.0,1283.2 L294.0,1283.9 L297.0,1284.1 L300.0,1284.2 L303.0,1284.3 L306.0,1284.3 L309.0,1284.4 L312.0,1284.4 L315.0,1284.5 L318.0,1284.5 L321.0,1284.6 L324.0,1284.6 L327.0,1284.6 L330.0,1284.7 L333.0,1284.7 L336.0,1284.7 L339.0,1284.8 L342.0,1284.8 L345.0,1284.8 L348.0,1284.8 L351.0,1284.9 L354.0,1284.9 L357.0,1284.9 L360.0,1284.9 L363.0,1284.9 L366.0,1284.9 L369.0,1285.0 L372.0,1285.0 L375.0,1285.0 L378.0,1285.0 L381.0,1285.0 L384.0,1285.0 L387.0,1285.0 L390.0,1285.0 L393.0,1285.0 L396.0,1285.0 L399.0,1285.0 L402.0,1285.0 L405.0,1285.0 L408.0,1285.0 L411.0,1285.0 L414.0,1285.0 L417.0,1285.0 L420.0,1285.0 L423.0,1285.0 L426.0,1285.0 L429.0,1284.9 L432.0,1284.9 L435.0,1284.9 L438.0,1284.9 L441.0,1284.9 L444.0,1284.9 L447.0,1284.9 L450.0,1284.8 L453.0,1284.8 L456.0,1284.8 L459.0,1284.8 L462.0,1284.8 L465.0,1284.8 L468.0,1284.7 L471.0,1284.7 L474.0,1284.7 L477.0,1284.7 L480.0,1284.6 L483.0,1284.6 L486.0,1284.6 L489.0,1284.6 L492.0,1284.6 L495.0,1284.5 L498.0,1284.5 L501.0,1284.5 L504.0,1284.5 L507.0,1284.4 L510.0,1284.4 L513.0,1284.4 L516.0,1284.4 L519.0,1284.4 L522.0,1284.3 L525.0,1284.3 L528.0,1284.3 L531.0,1284.3 L534.0,1284.3 L537.0,1284.2 L540.0,1284.2 L543.0,1284.2 L546.0,1284.2 L549.0,1284.2 L552.0,1284.1 L555.0,1284.1 L558.0,1284.1 L561.0,1284.1 L564.0,1284.1 L567.0,1284.1 L570.0,1284.1 L573.0,1284.1 L576.0,1284.0 L579.0,1284.0 L582.0,1284.0 L585.0,1284.0 L588.0,1284.0 L591.0,1284.0 L594.0,1284.0 L597.0,1284.0 L600.0,1284.0 L603.0,1284.0 L606.0,1284.0 L609.0,1284.0 L612.0,1284.0 L615.0,1284.0 L618.0,1284.0 L621.0,1284.0 L624.0,1284.0 L627.0,1284.0 L630.0,1284.0 L633.0,1284.0 L636.0,1284.0 L639.0,1284.0 L642.0,1284.0 L645.0,1284.0 L648.0,1284.0 L651.0,1284.0 L654.0,1284.0 L657.0,1284.0 L660.0,1284.0 L663.0,1284.0 L666.0,1284.0 L669.0,1284.0 L672.0,1284.0 L675.0,1284.0 L678.0,1284.0 L681.0,1284.0 L684.0,1283.9 L687.0,1283.9 L690.0,1283.7 L693.0,1283.6 L696.0,1283.4 L699.0,1283.2 L702.0,1283.0 L705.0,1282.7 L708.0,1282.4 L711.0,1281.9 L714.0,1281.3 L717.0,1280.6 L720.0,1279.7 L723.0,1278.6 L726.0,1277.6 L729.0,1276.4 L732.0,1275.2 L735.0,1273.9 L738.0,1272.4 L741.0,1270.8 L744.0,1269.1 L747.0,1267.3 L750.0,1265.5 L753.0,1263.5 L756.0,1261.4 L759.0,1259.3 L762.0,1257.0 L765.0,1254.8 L768.0,1252.4 L771.0,1249.9 L774.0,1247.2 L777.0,1244.3 L780.0,1241.1 L783.0,1237.7 L786.0,1234.0 L789.0,1230.3 L792.0,1226.5 L795.0,1222.7 L798.0,1218.8 L801.0,1214.9 L804.0,1210.8 L807.0,1206.7 L810.0,1202.5 L813.0,1198.2 L816.0,1194.0 L819.0,1189.8 L822.0,1185.6 L825.0,1181.4 L828.0,1177.2 L831.0,1173.1 L834.0,1168.9 L837.0,1164.7 L840.0,1160.5 L843.0,1156.2 L846.0,1151.9 L849.0,1147.5 L852.0,1143.2 L855.0,1138.9 L858.0,1134.7 L861.0,1130.5 L864.0,1126.3 L867.0,1122.2 L870.0,1118.2 L873.0,1114.2 L876.0,1110.3 L879.0,1106.4 L882.0,1102.6 L885.0,1098.8 L888.0,1095.2 L891.0,1091.6 L894.0,1088.0 L897.0,1084.7 L900.0,1081.4 L903.0,1078.2 L906.0,1075.1 L909.0,1072.2 L912.0,1069.3 L915.0,1066.6 L918.0,1064.0 L921.0,1061.5 L924.0,1059.2 L927.0,1056.9 L930.0,1054.7 L933.0,1052.6 L936.0,1050.6 L939.0,1048.8 L942.0,1047.0 L945.0,1045.4 L948.0,1043.8 L951.0,1042.3 L954.0,1040.9 L957.0,1039.6 L960.0,1038.4 L963.0,1037.3 L966.0,1036.2 L969.0,1035.1 L972.0,1034.2 L975.0,1033.3 L978.0,1032.5 L981.0,1031.9 L984.0,1031.5 L987.0,1031.3 L990.0,1031.2 L993.0,1031.3 L996.0,1031.3 L999.0,1031.4 L1002.0,1031.6 L1005.0,1031.7 L1008.0,1031.8 L1011.0,1032.0 L1014.0,1032.2 L1017.0,1032.5 L1020.0,1032.9 L1023.0,1033.4 L1026.0,1034.1 L1029.0,1035.0 L1032.0,1036.0 L1035.0,1037.1 L1038.0,1038.2 L1041.0,1039.4 L1044.0,1040.6 L1047.0,1041.9 L1050.0,1043.3 L1053.0,1044.8 L1056.0,1046.5 L1059.0,1048.2 L1062.0,1050.0 L1065.0,1051.8 L1068.0,1053.7 L1071.0,1055.5 L1074.0,1057.4 L1077.0,1059.2 L1080.0,1061.0 L1083.0,1062.9 L1086.0,1064.7 L1089.0,1066.6 L1092.0,1068.5 L1095.0,1070.4 L1098.0,1072.3 L1101.0,1074.2 L1104.0,1076.1 L1107.0,1077.9 L1110.0,1079.8 L1113.0,1081.7 L1116.0,1083.5 L1119.0,1085.4 L1122.0,1087.3 L1125.0,1089.2 L1128.0,1091.1 L1131.0,1093.0 L1134.0,1095.0 L1137.0,1097.0 L1140.0,1099.0 L1143.0,1101.0 L1146.0,1103.0 L1149.0,1105.1 L1152.0,1107.2 L1155.0,1109.3 L1158.0,1111.4 L1161.0,1113.6 L1164.0,1115.7 L1167.0,1118.0 L1170.0,1120.2 L1173.0,1122.5 L1176.0,1124.7 L1179.0,1127.0 L1182.0,1129.3 L1185.0,1131.5 L1188.0,1133.7 L1191.0,1135.9 L1194.0,1138.1 L1197.0,1140.1 L1200.0,1142.2 L1203.0,1144.2 L1206.0,1146.2 L1209.0,1148.2 L1212.0,1150.2 L1215.0,1152.3 L1218.0,1154.4 L1221.0,1156.6 L1224.0,1158.8 L1227.0,1161.2 L1230.0,1163.6 L1233.0,1166.0 L1236.0,1168.5 L1239.0,1170.8 L1242.0,1173.1 L1245.0,1175.2 L1248.0,1177.2 L1251.0,1179.1 L1254.0,1180.9 L1257.0,1182.6 L1260.0,1184.3 L1263.0,1185.9 L1266.0,1187.4 L1269.0,1188.9 L1272.0,1190.5 L1275.0,1191.9 L1278.0,1193.4 L1281.0,1194.8 L1284.0,1196.2 L1287.0,1197.6 L1290.0,1198.9 L1293.0,1200.2 L1296.0,1201.6 L1299.0,1202.9 L1302.0,1204.2 L1305.0,1205.5 L1308.0,1206.8 L1311.0,1208.2 L1314.0,1209.6 L1317.0,1210.9 L1320.0,1212.3 L1323.0,1213.6 L1326.0,1215.0 L1329.0,1216.3 L1332.0,1217.7 L1335.0,1219.0 L1338.0,1220.3 L1341.0,1221.6 L1344.0,1222.8 L1347.0,1224.1 L1350.0,1225.3 L1353.0,1226.5 L1356.0,1227.7 L1359.0,1228.9 L1362.0,1230.1 L1365.0,1231.3 L1368.0,1232.5 L1371.0,1233.8 L1374.0,1235.0 L1377.0,1236.2 L1380.0,1237.5 L1383.0,1238.7 L1386.0,1240.0 L1389.0,1241.2 L1392.0,1242.5 L1395.0,1243.8 L1398.0,1245.2 L1401.0,1246.6 L1404.0,1248.0 L1407.0,1249.3 L1410.0,1250.6 L1413.0,1251.6 L1416.0,1252.6 L1419.0,1253.5 L1422.0,1254.3 L1425.0,1255.0 L1428.0,1255.7 L1431.0,1256.4 L1434.0,1257.1 L1437.0,1257.8 L1440.0,1258.5 L1443.0,1259.2 L1446.0,1259.9 L1449.0,1260.7 L1452.0,1261.4 L1455.0,1262.2 L1458.0,1262.9 L1461.0,1263.7 L1464.0,1264.4 L1467.0,1265.2 L1470.0,1265.9 L1473.0,1266.7 L1476.0,1267.5 L1479.0,1268.2 L1482.0,1269.0 L1485.0,1269.8 L1488.0,1270.6 L1491.0,1271.4 L1494.0,1272.1 L1497.0,1272.9 L1500.0,1273.6 L1503.0,1274.3 L1506.0,1275.0 L1509.0,1275.6 L1512.0,1276.2 L1515.0,1276.8 L1518.0,1277.4 L1521.0,1277.9 L1524.0,1278.4 L1527.0,1278.9 L1530.0,1279.4 L1533.0,1279.9 L1536.0,1280.4 L1539.0,1280.9 L1542.0,1281.4 L1545.0,1281.8 L1548.0,1282.3 L1551.0,1282.8 L1554.0,1283.2 L1557.0,1283.7 L1560.0,1284.1 L1563.0,1284.6 L1566.0,1285.0 L1569.0,1285.4 L1572.0,1285.8 L1575.0,1286.3 L1578.0,1286.7 L1581.0,1287.1 L1584.0,1287.5 L1587.0,1287.9 L1590.0,1288.3 L1593.0,1288.7 L1596.0,1289.0 L1599.0,1289.3 L1602.0,1289.6 L1605.0,1289.8 L1608.0,1290.0 L1611.0,1290.2 L1614.0,1290.4 L1617.0,1290.6 L1620.0,1290.7 L1623.0,1290.9 L1626.0,1291.0 L1629.0,1291.2 L1632.0,1291.3 L1635.0,1291.4 L1638.0,1291.6 L1641.0,1291.7 L1644.0,1291.8 L1647.0,1291.9 L1650.0,1292.0 L1653.0,1292.1 L1656.0,1292.2 L1659.0,1292.3 L1662.0,1292.4 L1665.0,1292.5 L1668.0,1292.6 L1671.0,1292.7 L1674.0,1292.8 L1677.0,1292.8 L1680.0,1292.9 L1683.0,1293.0 L1686.0,1293.1 L1689.0,1293.2 L1692.0,1293.3 L1695.0,1293.3 L1698.0,1293.4 L1701.0,1293.5 L1704.0,1293.5 L1707.0,1293.6 L1710.0,1293.7 L1713.0,1293.8 L1716.0,1293.8 L1719.0,1293.9 L1722.0,1293.9 L1725.0,1294.0 L1728.0,1294.1 L1731.0,1294.1 L1734.0,1294.2 L1737.0,1294.3 L1740.0,1294.3 L1743.0,1294.4 L1746.0,1294.4 L1749.0,1294.5 L1752.0,1294.5 L1755.0,1294.6 L1758.0,1294.6 L1761.0,1294.7 L1764.0,1294.8 L1767.0,1294.8 L1770.0,1294.9 L1773.0,1294.9 L1776.0,1295.0 L1779.0,1295.0 L1782.0,1295.1 L1785.0,1295.1 L1788.0,1295.2 L1791.0,1295.2 L1794.0,1295.3 L1797.0,1295.3 L1800.0,1295.3 L1803.0,1295.4 L1806.0,1295.4 L1809.0,1295.5 L1812.0,1295.5 L1815.0,1295.6 L1818.0,1295.6 L1821.0,1295.6 L1824.0,1295.7 L1827.0,1295.7 L1830.0,1295.8 L1833.0,1295.8 L1836.0,1295.8 L1839.0,1295.9 L1842.0,1295.9 L1845.0,1295.9 L1848.0,1296.0 L1851.0,1296.0 L1853.0,1296.0"/>
<path class="curve" stroke="#7D4E4E" d="M279.0,1282.0 L282.0,1283.4 L285.0,1284.9 L288.0,1285.9 L291.0,1286.6 L294.0,1286.9 L297.0,1287.1 L300.0,1287.1 L303.0,1287.1 L306.0,1287.2 L309.0,1287.2 L312.0,1287.2 L315.0,1287.2 L318.0,1287.3 L321.0,1287.3 L324.0,1287.3 L327.0,1287.3 L330.0,1287.3 L333.0,1287.4 L336.0,1287.4 L339.0,1287.4 L342.0,1287.4 L345.0,1287.4 L348.0,1287.4 L351.0,1287.4 L354.0,1287.4 L357.0,1287.5 L360.0,1287.5 L363.0,1287.5 L366.0,1287.5 L369.0,1287.5 L372.0,1287.5 L375.0,1287.5 L378.0,1287.5 L381.0,1287.5 L384.0,1287.5 L387.0,1287.5 L390.0,1287.5 L393.0,1287.5 L396.0,1287.5 L399.0,1287.5 L402.0,1287.5 L405.0,1287.5 L408.0,1287.4 L411.0,1287.4 L414.0,1287.4 L417.0,1287.3 L420.0,1287.2 L423.0,1287.1 L426.0,1287.0 L429.0,1286.9 L432.0,1286.8 L435.0,1286.7 L438.0,1286.6 L441.0,1286.4 L444.0,1286.3 L447.0,1286.1 L450.0,1285.9 L453.0,1285.8 L456.0,1285.6 L459.0,1285.4 L462.0,1285.2 L465.0,1285.0 L468.0,1284.8 L471.0,1284.6 L474.0,1284.4 L477.0,1284.2 L480.0,1283.9 L483.0,1283.6 L486.0,1283.2 L489.0,1282.7 L492.0,1282.3 L495.0,1281.9 L498.0,1281.7 L501.0,1281.5 L504.0,1281.5 L507.0,1281.5 L510.0,1281.5 L513.0,1281.5 L516.0,1281.5 L519.0,1281.5 L522.0,1281.5 L525.0,1281.5 L528.0,1281.5 L531.0,1281.5 L534.0,1281.5 L537.0,1281.5 L540.0,1281.6 L543.0,1281.8 L546.0,1282.1 L549.0,1282.6 L552.0,1283.1 L555.0,1283.5 L558.0,1283.8 L561.0,1283.9 L564.0,1284.0 L567.0,1284.0 L570.0,1284.0 L573.0,1284.0 L576.0,1284.0 L579.0,1284.0 L582.0,1284.0 L585.0,1284.0 L588.0,1284.0 L591.0,1284.0 L594.0,1284.0 L597.0,1284.0 L600.0,1284.0 L603.0,1284.0 L606.0,1284.0 L609.0,1284.0 L612.0,1284.0 L615.0,1284.0 L618.0,1284.0 L621.0,1284.0 L624.0,1284.0 L627.0,1284.0 L630.0,1284.0 L633.0,1284.0 L636.0,1284.0 L639.0,1284.0 L642.0,1284.0 L645.0,1284.0 L648.0,1284.0 L651.0,1284.0 L654.0,1283.9 L657.0,1283.9 L660.0,1283.7 L663.0,1283.6 L666.0,1283.4 L669.0,1283.2 L672.0,1283.0 L675.0,1282.8 L678.0,1282.5 L681.0,1282.2 L684.0,1281.9 L687.0,1281.6 L690.0,1281.2 L693.0,1280.7 L696.0,1280.2 L699.0,1279.6 L702.0,1278.9 L705.0,1278.2 L708.0,1277.3 L711.0,1276.4 L714.0,1275.3 L717.0,1274.1 L720.0,1272.8 L723.0,1271.3 L726.0,1269.9 L729.0,1268.3 L732.0,1266.8 L735.0,1265.2 L738.0,1263.5 L741.0,1261.8 L744.0,1260.1 L747.0,1258.4 L750.0,1256.8 L753.0,1255.3 L756.0,1253.8 L759.0,1252.3 L762.0,1250.8 L765.0,1249.2 L768.0,1247.6 L771.0,1245.9 L774.0,1244.2 L777.0,1242.5 L780.0,1240.7 L783.0,1238.8 L786.0,1236.8 L789.0,1234.8 L792.0,1232.9 L795.0,1231.1 L798.0,1229.3 L801.0,1227.7 L804.0,1226.2 L807.0,1224.7 L810.0,1223.4 L813.0,1222.3 L816.0,1221.3 L819.0,1220.3 L822.0,1219.5 L825.0,1218.6 L828.0,1217.7 L831.0,1216.8 L834.0,1215.8 L837.0,1214.9 L840.0,1214.0 L843.0,1213.3 L846.0,1212.7 L849.0,1212.2 L852.0,1211.7 L855.0,1211.3 L858.0,1210.9 L861.0,1210.6 L864.0,1210.3 L867.0,1210.0 L870.0,1209.7 L873.0,1209.4 L876.0,1209.2 L879.0,1208.9 L882.0,1208.7 L885.0,1208.5 L888.0,1208.4 L891.0,1208.3 L894.0,1208.3 L897.0,1208.3 L900.0,1208.3 L903.0,1208.4 L906.0,1208.4 L909.0,1208.5 L912.0,1208.5 L915.0,1208.6 L918.0,1208.7 L921.0,1208.8 L924.0,1208.9 L927.0,1209.1 L930.0,1209.2 L933.0,1209.4 L936.0,1209.6 L939.0,1209.9 L942.0,1210.1 L945.0,1210.4 L948.0,1210.8 L951.0,1211.2 L954.0,1211.6 L957.0,1212.0 L960.0,1212.4 L963.0,1212.9 L966.0,1213.3 L969.0,1213.8 L972.0,1214.3 L975.0,1214.7 L978.0,1215.2 L981.0,1215.8 L984.0,1216.3 L987.0,1216.9 L990.0,1217.5 L993.0,1218.2 L996.0,1218.9 L999.0,1219.6 L1002.0,1220.3 L1005.0,1221.1 L1008.0,1221.8 L1011.0,1222.5 L1014.0,1223.2 L1017.0,1223.9 L1020.0,1224.6 L1023.0,1225.3 L1026.0,1226.0 L1029.0,1226.7 L1032.0,1227.3 L1035.0,1228.0 L1038.0,1228.7 L1041.0,1229.4 L1044.0,1230.1 L1047.0,1230.8 L1050.0,1231.5 L1053.0,1232.2 L1056.0,1232.9 L1059.0,1233.7 L1062.0,1234.5 L1065.0,1235.4 L1068.0,1236.3 L1071.0,1237.3 L1074.0,1238.2 L1077.0,1239.1 L1080.0,1240.0 L1083.0,1240.8 L1086.0,1241.5 L1089.0,1242.1 L1092.0,1242.7 L1095.0,1243.3 L1098.0,1243.8 L1101.0,1244.4 L1104.0,1245.0 L1107.0,1245.8 L1110.0,1246.6 L1113.0,1247.6 L1116.0,1248.7 L1119.0,1249.9 L1122.0,1251.1 L1125.0,1252.2 L1128.0,1253.3 L1131.0,1254.2 L1134.0,1255.1 L1137.0,1255.8 L1140.0,1256.4 L1143.0,1257.1 L1146.0,1257.7 L1149.0,1258.2 L1152.0,1258.8 L1155.0,1259.3 L1158.0,1259.9 L1161.0,1260.4 L1164.0,1261.0 L1167.0,1261.6 L1170.0,1262.3 L1173.0,1262.9 L1176.0,1263.5 L1179.0,1264.1 L1182.0,1264.8 L1185.0,1265.4 L1188.0,1266.0 L1191.0,1266.5 L1194.0,1267.1 L1197.0,1267.6 L1200.0,1268.1 L1203.0,1268.6 L1206.0,1269.1 L1209.0,1269.6 L1212.0,1270.0 L1215.0,1270.5 L1218.0,1270.9 L1221.0,1271.3 L1224.0,1271.7 L1227.0,1272.1 L1230.0,1272.4 L1233.0,1272.8 L1236.0,1273.1 L1239.0,1273.3 L1242.0,1273.6 L1245.0,1273.9 L1248.0,1274.2 L1251.0,1274.4 L1254.0,1274.8 L1257.0,1275.1 L1260.0,1275.5 L1263.0,1275.9 L1266.0,1276.4 L1269.0,1276.9 L1272.0,1277.4 L1275.0,1278.0 L1278.0,1278.6 L1281.0,1279.1 L1284.0,1279.7 L1287.0,1280.2 L1290.0,1280.7 L1293.0,1281.2 L1296.0,1281.6 L1299.0,1282.0 L1302.0,1282.5 L1305.0,1282.9 L1308.0,1283.3 L1311.0,1283.6 L1314.0,1284.0 L1317.0,1284.3 L1320.0,1284.6 L1323.0,1284.9 L1326.0,1285.2 L1329.0,1285.4 L1332.0,1285.7 L1335.0,1285.9 L1338.0,1286.1 L1341.0,1286.3 L1344.0,1286.5 L1347.0,1286.7 L1350.0,1286.9 L1353.0,1287.1 L1356.0,1287.3 L1359.0,1287.6 L1362.0,1287.8 L1365.0,1288.1 L1368.0,1288.4 L1371.0,1288.7 L1374.0,1288.9 L1377.0,1289.1 L1380.0,1289.3 L1383.0,1289.5 L1386.0,1289.6 L1389.0,1289.7 L1392.0,1289.8 L1395.0,1289.8 L1398.0,1289.9 L1401.0,1289.9 L1404.0,1290.0 L1407.0,1290.0 L1410.0,1290.0 L1413.0,1290.1 L1416.0,1290.1 L1419.0,1290.1 L1422.0,1290.2 L1425.0,1290.2 L1428.0,1290.2 L1431.0,1290.2 L1434.0,1290.3 L1437.0,1290.3 L1440.0,1290.3 L1443.0,1290.3 L1446.0,1290.3 L1449.0,1290.4 L1452.0,1290.4 L1455.0,1290.4 L1458.0,1290.5 L1461.0,1290.5 L1464.0,1290.6 L1467.0,1290.6 L1470.0,1290.6 L1473.0,1290.7 L1476.0,1290.7 L1479.0,1290.8 L1482.0,1290.8 L1485.0,1290.9 L1488.0,1290.9 L1491.0,1291.0 L1494.0,1291.0 L1497.0,1291.1 L1500.0,1291.1 L1503.0,1291.2 L1506.0,1291.3 L1509.0,1291.3 L1512.0,1291.4 L1515.0,1291.4 L1518.0,1291.5 L1521.0,1291.6 L1524.0,1291.6 L1527.0,1291.7 L1530.0,1291.7 L1533.0,1291.8 L1536.0,1291.8 L1539.0,1291.9 L1542.0,1292.0 L1545.0,1292.0 L1548.0,1292.1 L1551.0,1292.1 L1554.0,1292.2 L1557.0,1292.3 L1560.0,1292.3 L1563.0,1292.4 L1566.0,1292.4 L1569.0,1292.5 L1572.0,1292.5 L1575.0,1292.6 L1578.0,1292.6 L1581.0,1292.7 L1584.0,1292.7 L1587.0,1292.8 L1590.0,1292.8 L1593.0,1292.9 L1596.0,1292.9 L1599.0,1293.0 L1602.0,1293.0 L1605.0,1293.1 L1608.0,1293.1 L1611.0,1293.2 L1614.0,1293.2 L1617.0,1293.2 L1620.0,1293.3 L1623.0,1293.3 L1626.0,1293.4 L1629.0,1293.4 L1632.0,1293.5 L1635.0,1293.5 L1638.0,1293.5 L1641.0,1293.6 L1644.0,1293.6 L1647.0,1293.7 L1650.0,1293.7 L1653.0,1293.8 L1656.0,1293.8 L1659.0,1293.8 L1662.0,1293.9 L1665.0,1293.9 L1668.0,1294.0 L1671.0,1294.0 L1674.0,1294.0 L1677.0,1294.1 L1680.0,1294.1 L1683.0,1294.2 L1686.0,1294.2 L1689.0,1294.2 L1692.0,1294.3 L1695.0,1294.3 L1698.0,1294.4 L1701.0,1294.4 L1704.0,1294.4 L1707.0,1294.5 L1710.0,1294.5 L1713.0,1294.5 L1716.0,1294.6 L1719.0,1294.6 L1722.0,1294.7 L1725.0,1294.7 L1728.0,1294.7 L1731.0,1294.8 L1734.0,1294.8 L1737.0,1294.8 L1740.0,1294.9 L1743.0,1294.9 L1746.0,1294.9 L1749.0,1295.0 L1752.0,1295.0 L1755.0,1295.0 L1758.0,1295.1 L1761.0,1295.1 L1764.0,1295.1 L1767.0,1295.2 L1770.0,1295.2 L1773.0,1295.2 L1776.0,1295.3 L1779.0,1295.3 L1782.0,1295.3 L1785.0,1295.4 L1788.0,1295.4 L1791.0,1295.4 L1794.0,1295.5 L1797.0,1295.5 L1800.0,1295.5 L1803.0,1295.6 L1806.0,1295.6 L1809.0,1295.6 L1812.0,1295.6 L1815.0,1295.7 L1818.0,1295.7 L1821.0,1295.7 L1824.0,1295.8 L1827.0,1295.8 L1830.0,1295.8 L1833.0,1295.8 L1836.0,1295.9 L1839.0,1295.9 L1842.0,1295.9 L1845.0,1295.9 L1848.0,1296.0 L1851.0,1296.0 L1853.0,1296.0"/>
<path class="curve" stroke="#8E8E00" d="M279.0,1262.7 L282.0,1266.7 L285.0,1269.8 L288.0,1271.6 L291.0,1273.3 L294.0,1274.4 L297.0,1275.2 L300.0,1275.7 L303.0,1276.0 L306.0,1276.2 L309.0,1276.4 L312.0,1276.6 L315.0,1276.7 L318.0,1276.8 L321.0,1276.9 L324.0,1276.9 L327.0,1277.0 L330.0,1277.1 L333.0,1277.2 L336.0,1277.3 L339.0,1277.3 L342.0,1277.4 L345.0,1277.5 L348.0,1277.5 L351.0,1277.6 L354.0,1277.6 L357.0,1277.7 L360.0,1277.7 L363.0,1277.8 L366.0,1277.8 L369.0,1277.8 L372.0,1277.9 L375.0,1277.9 L378.0,1277.9 L381.0,1277.9 L384.0,1278.0 L387.0,1278.0 L390.0,1278.0 L393.0,1278.0 L396.0,1278.0 L399.0,1278.0 L402.0,1278.0 L405.0,1278.0 L408.0,1278.0 L411.0,1278.0 L414.0,1278.0 L417.0,1278.0 L420.0,1278.0 L423.0,1278.0 L426.0,1278.0 L429.0,1278.0 L432.0,1278.0 L435.0,1278.0 L438.0,1278.0 L441.0,1278.0 L444.0,1278.1 L447.0,1278.2 L450.0,1278.3 L453.0,1278.5 L456.0,1278.8 L459.0,1279.0 L462.0,1279.3 L465.0,1279.6 L468.0,1279.9 L471.0,1280.2 L474.0,1280.5 L477.0,1280.7 L480.0,1281.0 L483.0,1281.3 L486.0,1281.5 L489.0,1281.8 L492.0,1282.1 L495.0,1282.4 L498.0,1282.8 L501.0,1283.1 L504.0,1283.3 L507.0,1283.6 L510.0,1283.9 L513.0,1284.1 L516.0,1284.3 L519.0,1284.4 L522.0,1284.6 L525.0,1284.7 L528.0,1284.7 L531.0,1284.8 L534.0,1284.9 L537.0,1284.9 L540.0,1285.0 L543.0,1285.1 L546.0,1285.1 L549.0,1285.2 L552.0,1285.3 L555.0,1285.3 L558.0,1285.4 L561.0,1285.6 L564.0,1285.7 L567.0,1286.0 L570.0,1286.2 L573.0,1286.5 L576.0,1286.8 L579.0,1287.2 L582.0,1287.5 L585.0,1287.8 L588.0,1288.1 L591.0,1288.4 L594.0,1288.6 L597.0,1288.8 L600.0,1289.0 L603.0,1289.1 L606.0,1289.2 L609.0,1289.3 L612.0,1289.4 L615.0,1289.5 L618.0,1289.6 L621.0,1289.7 L624.0,1289.7 L627.0,1289.8 L630.0,1289.9 L633.0,1290.0 L636.0,1290.0 L639.0,1290.1 L642.0,1290.2 L645.0,1290.2 L648.0,1290.3 L651.0,1290.3 L654.0,1290.4 L657.0,1290.4 L660.0,1290.5 L663.0,1290.5 L666.0,1290.6 L669.0,1290.6 L672.0,1290.7 L675.0,1290.7 L678.0,1290.7 L681.0,1290.8 L684.0,1290.8 L687.0,1290.9 L690.0,1290.9 L693.0,1290.9 L696.0,1291.0 L699.0,1291.0 L702.0,1291.0 L705.0,1291.1 L708.0,1291.1 L711.0,1291.1 L714.0,1291.1 L717.0,1291.2 L720.0,1291.2 L723.0,1291.2 L726.0,1291.3 L729.0,1291.3 L732.0,1291.3 L735.0,1291.4 L738.0,1291.4 L741.0,1291.4 L744.0,1291.4 L747.0,1291.5 L750.0,1291.5 L753.0,1291.5 L756.0,1291.5 L759.0,1291.6 L762.0,1291.6 L765.0,1291.6 L768.0,1291.6 L771.0,1291.7 L774.0,1291.7 L777.0,1291.7 L780.0,1291.7 L783.0,1291.8 L786.0,1291.8 L789.0,1291.8 L792.0,1291.8 L795.0,1291.9 L798.0,1291.9 L801.0,1291.9 L804.0,1291.9 L807.0,1291.9 L810.0,1292.0 L813.0,1292.0 L816.0,1292.0 L819.0,1292.0 L822.0,1292.0 L825.0,1292.1 L828.0,1292.1 L831.0,1292.1 L834.0,1292.1 L837.0,1292.1 L840.0,1292.2 L843.0,1292.2 L846.0,1292.2 L849.0,1292.2 L852.0,1292.2 L855.0,1292.3 L858.0,1292.3 L861.0,1292.3 L864.0,1292.3 L867.0,1292.3 L870.0,1292.3 L873.0,1292.4 L876.0,1292.4 L879.0,1292.4 L882.0,1292.4 L885.0,1292.4 L888.0,1292.4 L891.0,1292.5 L894.0,1292.5 L897.0,1292.5 L900.0,1292.5 L903.0,1292.5 L906.0,1292.5 L909.0,1292.6 L912.0,1292.6 L915.0,1292.6 L918.0,1292.6 L921.0,1292.6 L924.0,1292.6 L927.0,1292.6 L930.0,1292.7 L933.0,1292.7 L936.0,1292.7 L939.0,1292.7 L942.0,1292.7 L945.0,1292.7 L948.0,1292.7 L951.0,1292.8 L954.0,1292.8 L957.0,1292.8 L960.0,1292.8 L963.0,1292.8 L966.0,1292.8 L969.0,1292.9 L972.0,1292.9 L975.0,1292.9 L978.0,1292.9 L981.0,1292.9 L984.0,1292.9 L987.0,1292.9 L990.0,1293.0 L993.0,1293.0 L996.0,1293.0 L999.0,1293.0 L1002.0,1293.0 L1005.0,1293.0 L1008.0,1293.0 L1011.0,1293.1 L1014.0,1293.1 L1017.0,1293.1 L1020.0,1293.1 L1023.0,1293.1 L1026.0,1293.1 L1029.0,1293.1 L1032.0,1293.2 L1035.0,1293.2 L1038.0,1293.2 L1041.0,1293.2 L1044.0,1293.2 L1047.0,1293.2 L1050.0,1293.2 L1053.0,1293.3 L1056.0,1293.3 L1059.0,1293.3 L1062.0,1293.3 L1065.0,1293.3 L1068.0,1293.3 L1071.0,1293.3 L1074.0,1293.4 L1077.0,1293.4 L1080.0,1293.4 L1083.0,1293.4 L1086.0,1293.4 L1089.0,1293.4 L1092.0,1293.4 L1095.0,1293.5 L1098.0,1293.5 L1101.0,1293.5 L1104.0,1293.5 L1107.0,1293.5 L1110.0,1293.5 L1113.0,1293.5 L1116.0,1293.6 L1119.0,1293.6 L1122.0,1293.6 L1125.0,1293.6 L1128.0,1293.6 L1131.0,1293.6 L1134.0,1293.6 L1137.0,1293.7 L1140.0,1293.7 L1143.0,1293.7 L1146.0,1293.7 L1149.0,1293.7 L1152.0,1293.7 L1155.0,1293.7 L1158.0,1293.8 L1161.0,1293.8 L1164.0,1293.8 L1167.0,1293.8 L1170.0,1293.8 L1173.0,1293.8 L1176.0,1293.8 L1179.0,1293.8 L1182.0,1293.9 L1185.0,1293.9 L1188.0,1293.9 L1191.0,1293.9 L1194.0,1293.9 L1197.0,1293.9 L1200.0,1293.9 L1203.0,1294.0 L1206.0,1294.0 L1209.0,1294.0 L1212.0,1294.0 L1215.0,1294.0 L1218.0,1294.0 L1221.0,1294.0 L1224.0,1294.1 L1227.0,1294.1 L1230.0,1294.1 L1233.0,1294.1 L1236.0,1294.1 L1239.0,1294.1 L1242.0,1294.1 L1245.0,1294.1 L1248.0,1294.2 L1251.0,1294.2 L1254.0,1294.2 L1257.0,1294.2 L1260.0,1294.2 L1263.0,1294.2 L1266.0,1294.2 L1269.0,1294.2 L1272.0,1294.3 L1275.0,1294.3 L1278.0,1294.3 L1281.0,1294.3 L1284.0,1294.3 L1287.0,1294.3 L1290.0,1294.3 L1293.0,1294.4 L1296.0,1294.4 L1299.0,1294.4 L1302.0,1294.4 L1305.0,1294.4 L1308.0,1294.4 L1311.0,1294.4 L1314.0,1294.4 L1317.0,1294.5 L1320.0,1294.5 L1323.0,1294.5 L1326.0,1294.5 L1329.0,1294.5 L1332.0,1294.5 L1335.0,1294.5 L1338.0,1294.5 L1341.0,1294.6 L1344.0,1294.6 L1347.0,1294.6 L1350.0,1294.6 L1353.0,1294.6 L1356.0,1294.6 L1359.0,1294.6 L1362.0,1294.6 L1365.0,1294.7 L1368.0,1294.7 L1371.0,1294.7 L1374.0,1294.7 L1377.0,1294.7 L1380.0,1294.7 L1383.0,1294.7 L1386.0,1294.7 L1389.0,1294.7 L1392.0,1294.8 L1395.0,1294.8 L1398.0,1294.8 L1401.0,1294.8 L1404.0,1294.8 L1407.0,1294.8 L1410.0,1294.8 L1413.0,1294.8 L1416.0,1294.9 L1419.0,1294.9 L1422.0,1294.9 L1425.0,1294.9 L1428.0,1294.9 L1431.0,1294.9 L1434.0,1294.9 L1437.0,1294.9 L1440.0,1294.9 L1443.0,1295.0 L1446.0,1295.0 L1449.0,1295.0 L1452.0,1295.0 L1455.0,1295.0 L1458.0,1295.0 L1461.0,1295.0 L1464.0,1295.0 L1467.0,1295.0 L1470.0,1295.0 L1473.0,1295.1 L1476.0,1295.1 L1479.0,1295.1 L1482.0,1295.1 L1485.0,1295.1 L1488.0,1295.1 L1491.0,1295.1 L1494.0,1295.1 L1497.0,1295.1 L1500.0,1295.2 L1503.0,1295.2 L1506.0,1295.2 L1509.0,1295.2 L1512.0,1295.2 L1515.0,1295.2 L1518.0,1295.2 L1521.0,1295.2 L1524.0,1295.2 L1527.0,1295.2 L1530.0,1295.3 L1533.0,1295.3 L1536.0,1295.3 L1539.0,1295.3 L1542.0,1295.3 L1545.0,1295.3 L1548.0,1295.3 L1551.0,1295.3 L1554.0,1295.3 L1557.0,1295.3 L1560.0,1295.4 L1563.0,1295.4 L1566.0,1295.4 L1569.0,1295.4 L1572.0,1295.4 L1575.0,1295.4 L1578.0,1295.4 L1581.0,1295.4 L1584.0,1295.4 L1587.0,1295.4 L1590.0,1295.4 L1593.0,1295.5 L1596.0,1295.5 L1599.0,1295.5 L1602.0,1295.5 L1605.0,1295.5 L1608.0,1295.5 L1611.0,1295.5 L1614.0,1295.5 L1617.0,1295.5 L1620.0,1295.5 L1623.0,1295.5 L1626.0,1295.5 L1629.0,1295.6 L1632.0,1295.6 L1635.0,1295.6 L1638.0,1295.6 L1641.0,1295.6 L1644.0,1295.6 L1647.0,1295.6 L1650.0,1295.6 L1653.0,1295.6 L1656.0,1295.6 L1659.0,1295.6 L1662.0,1295.6 L1665.0,1295.6 L1668.0,1295.7 L1671.0,1295.7 L1674.0,1295.7 L1677.0,1295.7 L1680.0,1295.7 L1683.0,1295.7 L1686.0,1295.7 L1689.0,1295.7 L1692.0,1295.7 L1695.0,1295.7 L1698.0,1295.7 L1701.0,1295.7 L1704.0,1295.7 L1707.0,1295.7 L1710.0,1295.8 L1713.0,1295.8 L1716.0,1295.8 L1719.0,1295.8 L1722.0,1295.8 L1725.0,1295.8 L1728.0,1295.8 L1731.0,1295.8 L1734.0,1295.8 L1737.0,1295.8 L1740.0,1295.8 L1743.0,1295.8 L1746.0,1295.8 L1749.0,1295.8 L1752.0,1295.8 L1755.0,1295.8 L1758.0,1295.9 L1761.0,1295.9 L1764.0,1295.9 L1767.0,1295.9 L1770.0,1295.9 L1773.0,1295.9 L1776.0,1295.9 L1779.0,1295.9 L1782.0,1295.9 L1785.0,1295.9 L1788.0,1295.9 L1791.0,1295.9 L1794.0,1295.9 L1797.0,1295.9 L1800.0,1295.9 L1803.0,1295.9 L1806.0,1295.9 L1809.0,1295.9 L1812.0,1295.9 L1815.0,1295.9 L1818.0,1296.0 L1821.0,1296.0 L1824.0,1296.0 L1827.0,1296.0 L1830.0,1296.0 L1833.0,1296.0 L1836.0,1296.0 L1839.0,1296.0 L1842.0,1296.0 L1845.0,1296.0 L1848.0,1296.0 L1851.0,1296.0 L1853.0,1296.0"/>
<path class="curve" stroke="#FB6501" d="M279.0,1278.0 L282.0,1280.5 L285.0,1283.2 L288.0,1284.9 L291.0,1286.2 L294.0,1286.9 L297.0,1287.1 L300.0,1287.2 L303.0,1287.3 L306.0,1287.3 L309.0,1287.4 L312.0,1287.4 L315.0,1287.5 L318.0,1287.5 L321.0,1287.6 L324.0,1287.6 L327.0,1287.6 L330.0,1287.7 L333.0,1287.7 L336.0,1287.7 L339.0,1287.8 L342.0,1287.8 L345.0,1287.8 L348.0,1287.8 L351.0,1287.9 L354.0,1287.9 L357.0,1287.9 L360.0,1287.9 L363.0,1287.9 L366.0,1287.9 L369.0,1288.0 L372.0,1288.0 L375.0,1288.0 L378.0,1288.0 L381.0,1288.0 L384.0,1288.0 L387.0,1288.0 L390.0,1288.0 L393.0,1288.0 L396.0,1288.0 L399.0,1288.0 L402.0,1288.0 L405.0,1288.0 L408.0,1288.0 L411.0,1288.0 L414.0,1288.0 L417.0,1288.0 L420.0,1288.0 L423.0,1288.0 L426.0,1287.9 L429.0,1287.9 L432.0,1287.9 L435.0,1287.9 L438.0,1287.9 L441.0,1287.9 L444.0,1287.8 L447.0,1287.8 L450.0,1287.8 L453.0,1287.7 L456.0,1287.7 L459.0,1287.7 L462.0,1287.6 L465.0,1287.6 L468.0,1287.6 L471.0,1287.5 L474.0,1287.5 L477.0,1287.4 L480.0,1287.4 L483.0,1287.3 L486.0,1287.3 L489.0,1287.2 L492.0,1287.2 L495.0,1287.1 L498.0,1287.0 L501.0,1286.9 L504.0,1286.7 L507.0,1286.4 L510.0,1286.1 L513.0,1285.6 L516.0,1285.1 L519.0,1284.5 L522.0,1283.8 L525.0,1283.2 L528.0,1282.4 L531.0,1281.7 L534.0,1280.8 L537.0,1279.8 L540.0,1278.7 L543.0,1277.5 L546.0,1276.2 L549.0,1274.9 L552.0,1273.6 L555.0,1272.1 L558.0,1270.6 L561.0,1269.0 L564.0,1267.3 L567.0,1265.5 L570.0,1263.6 L573.0,1261.5 L576.0,1259.3 L579.0,1256.9 L582.0,1254.4 L585.0,1251.8 L588.0,1249.2 L591.0,1246.4 L594.0,1243.7 L597.0,1240.9 L600.0,1238.2 L603.0,1235.5 L606.0,1232.9 L609.0,1230.4 L612.0,1228.0 L615.0,1225.7 L618.0,1223.6 L621.0,1221.7 L624.0,1219.9 L627.0,1218.5 L630.0,1217.3 L633.0,1216.4 L636.0,1215.5 L639.0,1214.8 L642.0,1214.1 L645.0,1213.5 L648.0,1213.0 L651.0,1212.5 L654.0,1212.0 L657.0,1211.5 L660.0,1211.1 L663.0,1210.7 L666.0,1210.4 L669.0,1210.0 L672.0,1209.6 L675.0,1209.2 L678.0,1208.7 L681.0,1208.2 L684.0,1207.7 L687.0,1207.2 L690.0,1206.7 L693.0,1206.2 L696.0,1205.7 L699.0,1205.2 L702.0,1204.8 L705.0,1204.3 L708.0,1203.9 L711.0,1203.5 L714.0,1203.1 L717.0,1202.7 L720.0,1202.4 L723.0,1202.2 L726.0,1202.0 L729.0,1202.1 L732.0,1202.4 L735.0,1203.0 L738.0,1203.7 L741.0,1204.6 L744.0,1205.6 L747.0,1206.4 L750.0,1207.2 L753.0,1208.0 L756.0,1208.7 L759.0,1209.5 L762.0,1210.3 L765.0,1211.3 L768.0,1212.4 L771.0,1213.5 L774.0,1214.8 L777.0,1216.0 L780.0,1217.2 L783.0,1218.3 L786.0,1219.4 L789.0,1220.4 L792.0,1221.4 L795.0,1222.5 L798.0,1223.6 L801.0,1224.8 L804.0,1226.0 L807.0,1227.2 L810.0,1228.4 L813.0,1229.5 L816.0,1230.6 L819.0,1231.7 L822.0,1232.7 L825.0,1233.7 L828.0,1234.8 L831.0,1235.8 L834.0,1236.7 L837.0,1237.7 L840.0,1238.7 L843.0,1239.7 L846.0,1240.7 L849.0,1241.7 L852.0,1242.7 L855.0,1243.7 L858.0,1244.8 L861.0,1245.8 L864.0,1246.8 L867.0,1247.9 L870.0,1248.9 L873.0,1249.9 L876.0,1251.0 L879.0,1252.0 L882.0,1253.0 L885.0,1254.0 L888.0,1255.0 L891.0,1255.9 L894.0,1256.7 L897.0,1257.6 L900.0,1258.3 L903.0,1259.1 L906.0,1259.8 L909.0,1260.5 L912.0,1261.2 L915.0,1261.8 L918.0,1262.4 L921.0,1262.9 L924.0,1263.4 L927.0,1263.9 L930.0,1264.4 L933.0,1264.9 L936.0,1265.4 L939.0,1265.9 L942.0,1266.4 L945.0,1267.0 L948.0,1267.5 L951.0,1268.1 L954.0,1268.7 L957.0,1269.3 L960.0,1269.9 L963.0,1270.4 L966.0,1271.0 L969.0,1271.6 L972.0,1272.2 L975.0,1272.8 L978.0,1273.4 L981.0,1274.0 L984.0,1274.7 L987.0,1275.3 L990.0,1275.9 L993.0,1276.5 L996.0,1277.1 L999.0,1277.7 L1002.0,1278.3 L1005.0,1278.9 L1008.0,1279.5 L1011.0,1280.1 L1014.0,1280.6 L1017.0,1281.1 L1020.0,1281.7 L1023.0,1282.2 L1026.0,1282.7 L1029.0,1283.2 L1032.0,1283.6 L1035.0,1284.1 L1038.0,1284.5 L1041.0,1284.9 L1044.0,1285.4 L1047.0,1285.8 L1050.0,1286.2 L1053.0,1286.6 L1056.0,1287.0 L1059.0,1287.3 L1062.0,1287.7 L1065.0,1288.0 L1068.0,1288.3 L1071.0,1288.6 L1074.0,1288.9 L1077.0,1289.1 L1080.0,1289.3 L1083.0,1289.5 L1086.0,1289.7 L1089.0,1289.9 L1092.0,1290.1 L1095.0,1290.2 L1098.0,1290.4 L1101.0,1290.6 L1104.0,1290.7 L1107.0,1290.8 L1110.0,1291.0 L1113.0,1291.1 L1116.0,1291.2 L1119.0,1291.3 L1122.0,1291.4 L1125.0,1291.4 L1128.0,1291.5 L1131.0,1291.6 L1134.0,1291.7 L1137.0,1291.7 L1140.0,1291.8 L1143.0,1291.9 L1146.0,1291.9 L1149.0,1292.0 L1152.0,1292.0 L1155.0,1292.1 L1158.0,1292.1 L1161.0,1292.2 L1164.0,1292.2 L1167.0,1292.2 L1170.0,1292.3 L1173.0,1292.3 L1176.0,1292.3 L1179.0,1292.4 L1182.0,1292.4 L1185.0,1292.4 L1188.0,1292.4 L1191.0,1292.5 L1194.0,1292.5 L1197.0,1292.5 L1200.0,1292.5 L1203.0,1292.5 L1206.0,1292.5 L1209.0,1292.6 L1212.0,1292.6 L1215.0,1292.6 L1218.0,1292.6 L1221.0,1292.6 L1224.0,1292.6 L1227.0,1292.7 L1230.0,1292.7 L1233.0,1292.7 L1236.0,1292.8 L1239.0,1292.8 L1242.0,1292.8 L1245.0,1292.9 L1248.0,1293.0 L1251.0,1293.1 L1254.0,1293.2 L1257.0,1293.3 L1260.0,1293.5 L1263.0,1293.6 L1266.0,1293.8 L1269.0,1293.9 L1272.0,1294.1 L1275.0,1294.2 L1278.0,1294.3 L1281.0,1294.5 L1284.0,1294.6 L1287.0,1294.7 L1290.0,1294.8 L1293.0,1294.9 L1296.0,1294.9 L1299.0,1295.0 L1302.0,1295.0 L1305.0,1295.0 L1308.0,1295.0 L1311.0,1295.0 L1314.0,1295.1 L1317.0,1295.1 L1320.0,1295.1 L1323.0,1295.1 L1326.0,1295.1 L1329.0,1295.1 L1332.0,1295.1 L1335.0,1295.2 L1338.0,1295.2 L1341.0,1295.2 L1344.0,1295.2 L1347.0,1295.2 L1350.0,1295.2 L1353.0,1295.2 L1356.0,1295.2 L1359.0,1295.2 L1362.0,1295.3 L1365.0,1295.3 L1368.0,1295.3 L1371.0,1295.3 L1374.0,1295.3 L1377.0,1295.3 L1380.0,1295.3 L1383.0,1295.3 L1386.0,1295.3 L1389.0,1295.4 L1392.0,1295.4 L1395.0,1295.4 L1398.0,1295.4 L1401.0,1295.4 L1404.0,1295.4 L1407.0,1295.4 L1410.0,1295.4 L1413.0,1295.4 L1416.0,1295.4 L1419.0,1295.5 L1422.0,1295.5 L1425.0,1295.5 L1428.0,1295.5 L1431.0,1295.5 L1434.0,1295.5 L1437.0,1295.5 L1440.0,1295.5 L1443.0,1295.5 L1446.0,1295.5 L1449.0,1295.5 L1452.0,1295.5 L1455.0,1295.6 L1458.0,1295.6 L1461.0,1295.6 L1464.0,1295.6 L1467.0,1295.6 L1470.0,1295.6 L1473.0,1295.6 L1476.0,1295.6 L1479.0,1295.6 L1482.0,1295.6 L1485.0,1295.6 L1488.0,1295.6 L1491.0,1295.6 L1494.0,1295.7 L1497.0,1295.7 L1500.0,1295.7 L1503.0,1295.7 L1506.0,1295.7 L1509.0,1295.7 L1512.0,1295.7 L1515.0,1295.7 L1518.0,1295.7 L1521.0,1295.7 L1524.0,1295.7 L1527.0,1295.7 L1530.0,1295.7 L1533.0,1295.7 L1536.0,1295.7 L1539.0,1295.7 L1542.0,1295.8 L1545.0,1295.8 L1548.0,1295.8 L1551.0,1295.8 L1554.0,1295.8 L1557.0,1295.8 L1560.0,1295.8 L1563.0,1295.8 L1566.0,1295.8 L1569.0,1295.8 L1572.0,1295.8 L1575.0,1295.8 L1578.0,1295.8 L1581.0,1295.8 L1584.0,1295.8 L1587.0,1295.8 L1590.0,1295.8 L1593.0,1295.8 L1596.0,1295.8 L1599.0,1295.8 L1602.0,1295.9 L1605.0,1295.9 L1608.0,1295.9 L1611.0,1295.9 L1614.0,1295.9 L1617.0,1295.9 L1620.0,1295.9 L1623.0,1295.9 L1626.0,1295.9 L1629.0,1295.9 L1632.0,1295.9 L1635.0,1295.9 L1638.0,1295.9 L1641.0,1295.9 L1644.0,1295.9 L1647.0,1295.9 L1650.0,1295.9 L1653.0,1295.9 L1656.0,1295.9 L1659.0,1295.9 L1662.0,1295.9 L1665.0,1295.9 L1668.0,1295.9 L1671.0,1295.9 L1674.0,1295.9 L1677.0,1295.9 L1680.0,1295.9 L1683.0,1295.9 L1686.0,1295.9 L1689.0,1295.9 L1692.0,1295.9 L1695.0,1295.9 L1698.0,1296.0 L1701.0,1296.0 L1704.0,1296.0 L1707.0,1296.0 L1710.0,1296.0 L1713.0,1296.0 L1716.0,1296.0 L1719.0,1296.0 L1722.0,1296.0 L1725.0,1296.0 L1728.0,1296.0 L1731.0,1296.0 L1734.0,1296.0 L1737.0,1296.0 L1740.0,1296.0 L1743.0,1296.0 L1746.0,1296.0 L1749.0,1296.0 L1752.0,1296.0 L1755.0,1296.0 L1758.0,1296.0 L1761.0,1296.0 L1764.0,1296.0 L1767.0,1296.0 L1770.0,1296.0 L1773.0,1296.0 L1776.0,1296.0 L1779.0,1296.0 L1782.0,1296.0 L1785.0,1296.0 L1788.0,1296.0 L1791.0,1296.0 L1794.0,1296.0 L1797.0,1296.0 L1800.0,1296.0 L1803.0,1296.0 L1806.0,1296.0 L1809.0,1296.0 L1812.0,1296.0 L1815.0,1296.0 L1818.0,1296.0 L1821.0,1296.0 L1824.0,1296.0 L1827.0,1296.0 L1830.0,1296.0 L1833.0,1296.0 L1836.0,1296.0 L1839.0,1296.0 L1842.0,1296.0 L1845.0,1296.0 L1848.0,1296.0 L1851.0,1296.0 L1853.0,1296.0"/>
<path class="curve" stroke="#6699CC" stroke-width="6.6" d="M279.0,1275.0 L282.0,1277.0 L285.0,1278.7 L288.0,1279.7 L291.0,1280.6 L294.0,1281.1 L297.0,1281.3 L300.0,1281.4 L303.0,1281.5 L306.0,1281.5 L309.0,1281.5 L312.0,1281.5 L315.0,1281.5 L318.0,1281.5 L321.0,1281.5 L324.0,1281.5 L327.0,1281.5 L330.0,1281.5 L333.0,1281.5 L336.0,1281.5 L339.0,1281.5 L342.0,1281.5 L345.0,1281.5 L348.0,1281.5 L351.0,1281.5 L354.0,1281.5 L357.0,1281.5 L360.0,1281.5 L363.0,1281.5 L366.0,1281.5 L369.0,1281.5 L372.0,1281.5 L375.0,1281.5 L378.0,1281.5 L381.0,1281.5 L384.0,1281.5 L387.0,1281.5 L390.0,1281.5 L393.0,1281.5 L396.0,1281.5 L399.0,1281.5 L402.0,1281.5 L405.0,1281.5 L408.0,1281.5 L411.0,1281.5 L414.0,1281.5 L417.0,1281.5 L420.0,1281.5 L423.0,1281.5 L426.0,1281.5 L429.0,1281.5 L432.0,1281.5 L435.0,1281.5 L438.0,1281.3 L441.0,1280.5 L444.0,1279.1 L447.0,1277.3 L450.0,1275.5 L453.0,1274.2 L456.0,1273.2 L459.0,1272.7 L462.0,1272.4 L465.0,1272.3 L468.0,1272.3 L471.0,1272.3 L474.0,1272.4 L477.0,1272.6 L480.0,1272.9 L483.0,1273.5 L486.0,1274.2 L489.0,1274.9 L492.0,1275.4 L495.0,1275.9 L498.0,1276.2 L501.0,1276.4 L504.0,1276.6 L507.0,1276.8 L510.0,1276.9 L513.0,1277.1 L516.0,1277.2 L519.0,1277.5 L522.0,1277.7 L525.0,1278.1 L528.0,1278.4 L531.0,1278.8 L534.0,1279.2 L537.0,1279.6 L540.0,1280.0 L543.0,1280.3 L546.0,1280.7 L549.0,1281.0 L552.0,1281.4 L555.0,1281.6 L558.0,1281.9 L561.0,1282.0 L564.0,1282.2 L567.0,1282.3 L570.0,1282.4 L573.0,1282.5 L576.0,1282.5 L579.0,1282.6 L582.0,1282.7 L585.0,1282.7 L588.0,1282.8 L591.0,1282.9 L594.0,1282.9 L597.0,1283.0 L600.0,1283.0 L603.0,1283.0 L606.0,1283.1 L609.0,1283.1 L612.0,1283.2 L615.0,1283.2 L618.0,1283.2 L621.0,1283.3 L624.0,1283.3 L627.0,1283.3 L630.0,1283.3 L633.0,1283.4 L636.0,1283.4 L639.0,1283.4 L642.0,1283.4 L645.0,1283.4 L648.0,1283.5 L651.0,1283.5 L654.0,1283.5 L657.0,1283.5 L660.0,1283.5 L663.0,1283.6 L666.0,1283.6 L669.0,1283.6 L672.0,1283.6 L675.0,1283.7 L678.0,1283.7 L681.0,1283.7 L684.0,1283.8 L687.0,1283.8 L690.0,1283.8 L693.0,1283.9 L696.0,1283.9 L699.0,1284.0 L702.0,1284.0 L705.0,1284.1 L708.0,1284.2 L711.0,1284.3 L714.0,1284.4 L717.0,1284.6 L720.0,1284.7 L723.0,1284.9 L726.0,1285.1 L729.0,1285.2 L732.0,1285.4 L735.0,1285.6 L738.0,1285.8 L741.0,1286.0 L744.0,1286.2 L747.0,1286.4 L750.0,1286.5 L753.0,1286.7 L756.0,1286.9 L759.0,1287.1 L762.0,1287.3 L765.0,1287.4 L768.0,1287.6 L771.0,1287.7 L774.0,1287.8 L777.0,1287.9 L780.0,1288.0 L783.0,1288.1 L786.0,1288.2 L789.0,1288.2 L792.0,1288.3 L795.0,1288.4 L798.0,1288.5 L801.0,1288.5 L804.0,1288.6 L807.0,1288.7 L810.0,1288.7 L813.0,1288.8 L816.0,1288.9 L819.0,1289.0 L822.0,1289.0 L825.0,1289.1 L828.0,1289.1 L831.0,1289.2 L834.0,1289.3 L837.0,1289.3 L840.0,1289.4 L843.0,1289.4 L846.0,1289.5 L849.0,1289.5 L852.0,1289.6 L855.0,1289.6 L858.0,1289.7 L861.0,1289.7 L864.0,1289.8 L867.0,1289.8 L870.0,1289.8 L873.0,1289.9 L876.0,1289.9 L879.0,1289.9 L882.0,1289.9 L885.0,1290.0 L888.0,1290.0 L891.0,1290.0 L894.0,1290.0 L897.0,1290.0 L900.0,1290.0 L903.0,1290.0 L906.0,1290.0 L909.0,1290.0 L912.0,1290.0 L915.0,1290.0 L918.0,1290.0 L921.0,1289.9 L924.0,1289.9 L927.0,1289.9 L930.0,1289.9 L933.0,1289.9 L936.0,1289.8 L939.0,1289.8 L942.0,1289.8 L945.0,1289.8 L948.0,1289.7 L951.0,1289.7 L954.0,1289.7 L957.0,1289.6 L960.0,1289.6 L963.0,1289.6 L966.0,1289.5 L969.0,1289.5 L972.0,1289.4 L975.0,1289.4 L978.0,1289.4 L981.0,1289.3 L984.0,1289.3 L987.0,1289.2 L990.0,1289.2 L993.0,1289.1 L996.0,1289.1 L999.0,1289.0 L1002.0,1289.0 L1005.0,1288.9 L1008.0,1288.8 L1011.0,1288.7 L1014.0,1288.6 L1017.0,1288.5 L1020.0,1288.4 L1023.0,1288.3 L1026.0,1288.2 L1029.0,1288.0 L1032.0,1287.9 L1035.0,1287.8 L1038.0,1287.6 L1041.0,1287.5 L1044.0,1287.3 L1047.0,1287.2 L1050.0,1287.0 L1053.0,1286.8 L1056.0,1286.6 L1059.0,1286.4 L1062.0,1286.2 L1065.0,1286.0 L1068.0,1285.8 L1071.0,1285.5 L1074.0,1285.3 L1077.0,1285.0 L1080.0,1284.8 L1083.0,1284.6 L1086.0,1284.3 L1089.0,1284.1 L1092.0,1283.9 L1095.0,1283.7 L1098.0,1283.5 L1101.0,1283.4 L1104.0,1283.2 L1107.0,1283.0 L1110.0,1282.9 L1113.0,1282.7 L1116.0,1282.5 L1119.0,1282.4 L1122.0,1282.2 L1125.0,1282.0 L1128.0,1281.9 L1131.0,1281.7 L1134.0,1281.6 L1137.0,1281.4 L1140.0,1281.3 L1143.0,1281.1 L1146.0,1281.0 L1149.0,1280.9 L1152.0,1280.8 L1155.0,1280.7 L1158.0,1280.6 L1161.0,1280.5 L1164.0,1280.4 L1167.0,1280.3 L1170.0,1280.3 L1173.0,1280.2 L1176.0,1280.2 L1179.0,1280.2 L1182.0,1280.2 L1185.0,1280.2 L1188.0,1280.2 L1191.0,1280.2 L1194.0,1280.2 L1197.0,1280.2 L1200.0,1280.2 L1203.0,1280.2 L1206.0,1280.2 L1209.0,1280.2 L1212.0,1280.2 L1215.0,1280.2 L1218.0,1280.2 L1221.0,1280.2 L1224.0,1280.2 L1227.0,1280.2 L1230.0,1280.2 L1233.0,1280.2 L1236.0,1280.2 L1239.0,1280.2 L1242.0,1280.2 L1245.0,1280.2 L1248.0,1280.2 L1251.0,1280.2 L1254.0,1280.2 L1257.0,1280.2 L1260.0,1280.2 L1263.0,1280.2 L1266.0,1280.2 L1269.0,1280.2 L1272.0,1280.2 L1275.0,1280.3 L1278.0,1280.3 L1281.0,1280.3 L1284.0,1280.3 L1287.0,1280.3 L1290.0,1280.4 L1293.0,1280.4 L1296.0,1280.4 L1299.0,1280.5 L1302.0,1280.5 L1305.0,1280.6 L1308.0,1280.6 L1311.0,1280.6 L1314.0,1280.7 L1317.0,1280.7 L1320.0,1280.8 L1323.0,1280.8 L1326.0,1280.8 L1329.0,1280.9 L1332.0,1280.9 L1335.0,1280.9 L1338.0,1281.0 L1341.0,1281.0 L1344.0,1281.0 L1347.0,1281.1 L1350.0,1281.1 L1353.0,1281.1 L1356.0,1281.2 L1359.0,1281.2 L1362.0,1281.2 L1365.0,1281.3 L1368.0,1281.3 L1371.0,1281.4 L1374.0,1281.4 L1377.0,1281.4 L1380.0,1281.5 L1383.0,1281.5 L1386.0,1281.6 L1389.0,1281.6 L1392.0,1281.7 L1395.0,1281.7 L1398.0,1281.8 L1401.0,1281.8 L1404.0,1281.9 L1407.0,1282.0 L1410.0,1282.1 L1413.0,1282.2 L1416.0,1282.3 L1419.0,1282.4 L1422.0,1282.5 L1425.0,1282.6 L1428.0,1282.7 L1431.0,1282.9 L1434.0,1283.0 L1437.0,1283.1 L1440.0,1283.3 L1443.0,1283.4 L1446.0,1283.6 L1449.0,1283.7 L1452.0,1283.8 L1455.0,1284.0 L1458.0,1284.1 L1461.0,1284.2 L1464.0,1284.4 L1467.0,1284.5 L1470.0,1284.7 L1473.0,1284.8 L1476.0,1284.9 L1479.0,1285.1 L1482.0,1285.2 L1485.0,1285.4 L1488.0,1285.6 L1491.0,1285.7 L1494.0,1285.9 L1497.0,1286.0 L1500.0,1286.2 L1503.0,1286.3 L1506.0,1286.5 L1509.0,1286.6 L1512.0,1286.8 L1515.0,1286.9 L1518.0,1287.1 L1521.0,1287.2 L1524.0,1287.4 L1527.0,1287.5 L1530.0,1287.7 L1533.0,1287.8 L1536.0,1287.9 L1539.0,1288.1 L1542.0,1288.2 L1545.0,1288.3 L1548.0,1288.4 L1551.0,1288.6 L1554.0,1288.7 L1557.0,1288.8 L1560.0,1288.9 L1563.0,1289.1 L1566.0,1289.2 L1569.0,1289.3 L1572.0,1289.4 L1575.0,1289.5 L1578.0,1289.6 L1581.0,1289.7 L1584.0,1289.8 L1587.0,1289.9 L1590.0,1290.1 L1593.0,1290.2 L1596.0,1290.3 L1599.0,1290.4 L1602.0,1290.4 L1605.0,1290.5 L1608.0,1290.6 L1611.0,1290.7 L1614.0,1290.8 L1617.0,1290.9 L1620.0,1291.0 L1623.0,1291.1 L1626.0,1291.2 L1629.0,1291.2 L1632.0,1291.3 L1635.0,1291.4 L1638.0,1291.5 L1641.0,1291.6 L1644.0,1291.7 L1647.0,1291.7 L1650.0,1291.8 L1653.0,1291.9 L1656.0,1292.0 L1659.0,1292.0 L1662.0,1292.1 L1665.0,1292.2 L1668.0,1292.3 L1671.0,1292.3 L1674.0,1292.4 L1677.0,1292.5 L1680.0,1292.5 L1683.0,1292.6 L1686.0,1292.7 L1689.0,1292.7 L1692.0,1292.8 L1695.0,1292.9 L1698.0,1293.0 L1701.0,1293.0 L1704.0,1293.1 L1707.0,1293.2 L1710.0,1293.2 L1713.0,1293.3 L1716.0,1293.4 L1719.0,1293.4 L1722.0,1293.5 L1725.0,1293.6 L1728.0,1293.6 L1731.0,1293.7 L1734.0,1293.8 L1737.0,1293.8 L1740.0,1293.9 L1743.0,1293.9 L1746.0,1294.0 L1749.0,1294.1 L1752.0,1294.1 L1755.0,1294.2 L1758.0,1294.3 L1761.0,1294.3 L1764.0,1294.4 L1767.0,1294.4 L1770.0,1294.5 L1773.0,1294.6 L1776.0,1294.6 L1779.0,1294.7 L1782.0,1294.7 L1785.0,1294.8 L1788.0,1294.9 L1791.0,1294.9 L1794.0,1295.0 L1797.0,1295.0 L1800.0,1295.1 L1803.0,1295.1 L1806.0,1295.2 L1809.0,1295.3 L1812.0,1295.3 L1815.0,1295.4 L1818.0,1295.4 L1821.0,1295.5 L1824.0,1295.5 L1827.0,1295.6 L1830.0,1295.6 L1833.0,1295.7 L1836.0,1295.7 L1839.0,1295.8 L1842.0,1295.8 L1845.0,1295.9 L1848.0,1295.9 L1851.0,1296.0 L1853.0,1296.0"/>
<path class="curve" stroke="#6FB802" d="M279.0,1280.2 L282.0,1282.6 L285.0,1285.1 L288.0,1286.8 L291.0,1288.2 L294.0,1288.9 L297.0,1289.2 L300.0,1289.4 L303.0,1289.5 L306.0,1289.6 L309.0,1289.7 L312.0,1289.8 L315.0,1289.9 L318.0,1290.0 L321.0,1290.1 L324.0,1290.2 L327.0,1290.3 L330.0,1290.3 L333.0,1290.4 L336.0,1290.5 L339.0,1290.5 L342.0,1290.6 L345.0,1290.6 L348.0,1290.7 L351.0,1290.7 L354.0,1290.8 L357.0,1290.8 L360.0,1290.8 L363.0,1290.9 L366.0,1290.9 L369.0,1290.9 L372.0,1290.9 L375.0,1290.9 L378.0,1291.0 L381.0,1291.0 L384.0,1291.0 L387.0,1291.0 L390.0,1291.0 L393.0,1291.0 L396.0,1291.0 L399.0,1291.0 L402.0,1290.9 L405.0,1290.8 L408.0,1290.6 L411.0,1290.4 L414.0,1290.1 L417.0,1289.8 L420.0,1289.5 L423.0,1289.3 L426.0,1289.2 L429.0,1289.1 L432.0,1289.0 L435.0,1289.0 L438.0,1289.0 L441.0,1289.0 L444.0,1289.0 L447.0,1289.0 L450.0,1289.0 L453.0,1289.0 L456.0,1289.0 L459.0,1289.0 L462.0,1289.0 L465.0,1289.0 L468.0,1289.0 L471.0,1289.1 L474.0,1289.1 L477.0,1289.1 L480.0,1289.1 L483.0,1289.1 L486.0,1289.1 L489.0,1289.1 L492.0,1289.1 L495.0,1289.1 L498.0,1289.2 L501.0,1289.2 L504.0,1289.2 L507.0,1289.2 L510.0,1289.2 L513.0,1289.3 L516.0,1289.3 L519.0,1289.3 L522.0,1289.3 L525.0,1289.4 L528.0,1289.4 L531.0,1289.4 L534.0,1289.4 L537.0,1289.5 L540.0,1289.6 L543.0,1289.7 L546.0,1290.0 L549.0,1290.4 L552.0,1290.7 L555.0,1291.1 L558.0,1291.3 L561.0,1291.5 L564.0,1291.6 L567.0,1291.6 L570.0,1291.7 L573.0,1291.7 L576.0,1291.8 L579.0,1291.8 L582.0,1291.9 L585.0,1291.9 L588.0,1291.9 L591.0,1291.9 L594.0,1292.0 L597.0,1292.0 L600.0,1292.0 L603.0,1292.0 L606.0,1292.0 L609.0,1292.1 L612.0,1292.1 L615.0,1292.1 L618.0,1292.1 L621.0,1292.1 L624.0,1292.2 L627.0,1292.2 L630.0,1292.2 L633.0,1292.2 L636.0,1292.3 L639.0,1292.3 L642.0,1292.3 L645.0,1292.4 L648.0,1292.4 L651.0,1292.4 L654.0,1292.4 L657.0,1292.5 L660.0,1292.5 L663.0,1292.5 L666.0,1292.5 L669.0,1292.6 L672.0,1292.6 L675.0,1292.6 L678.0,1292.7 L681.0,1292.7 L684.0,1292.7 L687.0,1292.8 L690.0,1292.8 L693.0,1292.9 L696.0,1292.9 L699.0,1293.0 L702.0,1293.1 L705.0,1293.2 L708.0,1293.3 L711.0,1293.4 L714.0,1293.6 L717.0,1293.8 L720.0,1293.9 L723.0,1294.1 L726.0,1294.2 L729.0,1294.4 L732.0,1294.5 L735.0,1294.6 L738.0,1294.7 L741.0,1294.7 L744.0,1294.8 L747.0,1294.9 L750.0,1295.0 L753.0,1295.0 L756.0,1295.1 L759.0,1295.1 L762.0,1295.1 L765.0,1295.1 L768.0,1295.1 L771.0,1295.1 L774.0,1295.1 L777.0,1295.1 L780.0,1295.1 L783.0,1295.1 L786.0,1295.1 L789.0,1295.1 L792.0,1295.1 L795.0,1295.1 L798.0,1295.1 L801.0,1295.1 L804.0,1295.1 L807.0,1295.1 L810.0,1295.1 L813.0,1295.1 L816.0,1295.1 L819.0,1295.1 L822.0,1295.1 L825.0,1295.1 L828.0,1295.1 L831.0,1295.1 L834.0,1295.1 L837.0,1295.1 L840.0,1295.1 L843.0,1295.1 L846.0,1295.1 L849.0,1295.1 L852.0,1295.1 L855.0,1295.1 L858.0,1295.1 L861.0,1295.1 L864.0,1295.1 L867.0,1295.1 L870.0,1295.1 L873.0,1295.1 L876.0,1295.1 L879.0,1295.1 L882.0,1295.1 L885.0,1295.1 L888.0,1295.1 L891.0,1295.1 L894.0,1295.1 L897.0,1295.1 L900.0,1295.1 L903.0,1295.1 L906.0,1295.1 L909.0,1295.1 L912.0,1295.1 L915.0,1295.1 L918.0,1295.1 L921.0,1295.1 L924.0,1295.1 L927.0,1295.1 L930.0,1295.1 L933.0,1295.1 L936.0,1295.1 L939.0,1295.1 L942.0,1295.1 L945.0,1295.1 L948.0,1295.1 L951.0,1295.1 L954.0,1295.1 L957.0,1295.1 L960.0,1295.1 L963.0,1295.1 L966.0,1295.1 L969.0,1295.1 L972.0,1295.1 L975.0,1295.1 L978.0,1295.1 L981.0,1295.1 L984.0,1295.1 L987.0,1295.1 L990.0,1295.1 L993.0,1295.1 L996.0,1295.1 L999.0,1295.1 L1002.0,1295.1 L1005.0,1295.1 L1008.0,1295.1 L1011.0,1295.1 L1014.0,1295.1 L1017.0,1295.2 L1020.0,1295.2 L1023.0,1295.2 L1026.0,1295.2 L1029.0,1295.3 L1032.0,1295.3 L1035.0,1295.3 L1038.0,1295.3 L1041.0,1295.4 L1044.0,1295.4 L1047.0,1295.4 L1050.0,1295.5 L1053.0,1295.5 L1056.0,1295.5 L1059.0,1295.5 L1062.0,1295.6 L1065.0,1295.6 L1068.0,1295.6 L1071.0,1295.6 L1074.0,1295.7 L1077.0,1295.7 L1080.0,1295.7 L1083.0,1295.7 L1086.0,1295.7 L1089.0,1295.7 L1092.0,1295.8 L1095.0,1295.8 L1098.0,1295.8 L1101.0,1295.8 L1104.0,1295.8 L1107.0,1295.8 L1110.0,1295.8 L1113.0,1295.8 L1116.0,1295.9 L1119.0,1295.9 L1122.0,1295.9 L1125.0,1295.9 L1128.0,1295.9 L1131.0,1295.9 L1134.0,1295.9 L1137.0,1295.9 L1140.0,1296.0 L1143.0,1296.0 L1146.0,1296.0 L1149.0,1296.0 L1152.0,1296.0 L1155.0,1296.0 L1158.0,1296.0 L1161.0,1296.0 L1164.0,1296.0 L1167.0,1296.1 L1170.0,1296.1 L1173.0,1296.1 L1176.0,1296.1 L1179.0,1296.1 L1182.0,1296.1 L1185.0,1296.1 L1188.0,1296.1 L1191.0,1296.1 L1194.0,1296.1 L1197.0,1296.1 L1200.0,1296.1 L1203.0,1296.1 L1206.0,1296.2 L1209.0,1296.2 L1212.0,1296.2 L1215.0,1296.2 L1218.0,1296.2 L1221.0,1296.2 L1224.0,1296.2 L1227.0,1296.2 L1230.0,1296.2 L1233.0,1296.2 L1236.0,1296.2 L1239.0,1296.2 L1242.0,1296.2 L1245.0,1296.2 L1248.0,1296.2 L1251.0,1296.2 L1254.0,1296.2 L1257.0,1296.2 L1260.0,1296.2 L1263.0,1296.2 L1266.0,1296.2 L1269.0,1296.2 L1272.0,1296.2 L1275.0,1296.2 L1278.0,1296.2 L1281.0,1296.2 L1284.0,1296.2 L1287.0,1296.2 L1290.0,1296.2 L1293.0,1296.2 L1296.0,1296.2 L1299.0,1296.2 L1302.0,1296.2 L1305.0,1296.2 L1308.0,1296.2 L1311.0,1296.2 L1314.0,1296.2 L1317.0,1296.2 L1320.0,1296.2 L1323.0,1296.2 L1326.0,1296.2 L1329.0,1296.2 L1332.0,1296.2 L1335.0,1296.2 L1338.0,1296.2 L1341.0,1296.2 L1344.0,1296.2 L1347.0,1296.2 L1350.0,1296.2 L1353.0,1296.2 L1356.0,1296.2 L1359.0,1296.2 L1362.0,1296.2 L1365.0,1296.2 L1368.0,1296.2 L1371.0,1296.2 L1374.0,1296.2 L1377.0,1296.2 L1380.0,1296.2 L1383.0,1296.2 L1386.0,1296.2 L1389.0,1296.2 L1392.0,1296.2 L1395.0,1296.2 L1398.0,1296.2 L1401.0,1296.2 L1404.0,1296.2 L1407.0,1296.2 L1410.0,1296.2 L1413.0,1296.2 L1416.0,1296.2 L1419.0,1296.2 L1422.0,1296.2 L1425.0,1296.2 L1428.0,1296.2 L1431.0,1296.2 L1434.0,1296.2 L1437.0,1296.2 L1440.0,1296.2 L1443.0,1296.2 L1446.0,1296.2 L1449.0,1296.2 L1452.0,1296.2 L1455.0,1296.2 L1458.0,1296.2 L1461.0,1296.2 L1464.0,1296.2 L1467.0,1296.2 L1470.0,1296.2 L1473.0,1296.2 L1476.0,1296.2 L1479.0,1296.2 L1482.0,1296.2 L1485.0,1296.2 L1488.0,1296.2 L1491.0,1296.2 L1494.0,1296.2 L1497.0,1296.2 L1500.0,1296.2 L1503.0,1296.2 L1506.0,1296.2 L1509.0,1296.2 L1512.0,1296.2 L1515.0,1296.2 L1518.0,1296.2 L1521.0,1296.2 L1524.0,1296.2 L1527.0,1296.2 L1530.0,1296.2 L1533.0,1296.2 L1536.0,1296.2 L1539.0,1296.2 L1542.0,1296.2 L1545.0,1296.2 L1548.0,1296.2 L1551.0,1296.2 L1554.0,1296.2 L1557.0,1296.2 L1560.0,1296.2 L1563.0,1296.2 L1566.0,1296.2 L1569.0,1296.2 L1572.0,1296.2 L1575.0,1296.2 L1578.0,1296.2 L1581.0,1296.2 L1584.0,1296.2 L1587.0,1296.2 L1590.0,1296.2 L1593.0,1296.2 L1596.0,1296.2 L1599.0,1296.2 L1602.0,1296.2 L1605.0,1296.2 L1608.0,1296.2 L1611.0,1296.2 L1614.0,1296.2 L1617.0,1296.2 L1620.0,1296.2 L1623.0,1296.2 L1626.0,1296.2 L1629.0,1296.2 L1632.0,1296.2 L1635.0,1296.2 L1638.0,1296.2 L1641.0,1296.2 L1644.0,1296.2 L1647.0,1296.2 L1650.0,1296.2 L1653.0,1296.2 L1656.0,1296.2 L1659.0,1296.2 L1662.0,1296.2 L1665.0,1296.2 L1668.0,1296.2 L1671.0,1296.2 L1674.0,1296.2 L1677.0,1296.2 L1680.0,1296.2 L1683.0,1296.2 L1686.0,1296.2 L1689.0,1296.2 L1692.0,1296.2 L1695.0,1296.2 L1698.0,1296.2 L1701.0,1296.2 L1704.0,1296.2 L1707.0,1296.2 L1710.0,1296.2 L1713.0,1296.2 L1716.0,1296.2 L1719.0,1296.2 L1722.0,1296.2 L1725.0,1296.2 L1728.0,1296.2 L1731.0,1296.2 L1734.0,1296.2 L1737.0,1296.2 L1740.0,1296.2 L1743.0,1296.2 L1746.0,1296.2 L1749.0,1296.2 L1752.0,1296.2 L1755.0,1296.2 L1758.0,1296.2 L1761.0,1296.2 L1764.0,1296.2 L1767.0,1296.2 L1770.0,1296.2 L1773.0,1296.2 L1776.0,1296.2 L1779.0,1296.2 L1782.0,1296.2 L1785.0,1296.2 L1788.0,1296.2 L1791.0,1296.2 L1794.0,1296.2 L1797.0,1296.2 L1800.0,1296.2 L1803.0,1296.2 L1806.0,1296.2 L1809.0,1296.2 L1812.0,1296.2 L1815.0,1296.2 L1818.0,1296.2 L1821.0,1296.2 L1824.0,1296.2 L1827.0,1296.2 L1830.0,1296.2 L1833.0,1296.2 L1836.0,1296.2 L1839.0,1296.2 L1842.0,1296.2 L1845.0,1296.2 L1848.0,1296.2 L1851.0,1296.2 L1853.0,1296.2"/>
<path class="curve" stroke="#515151" d="M279.0,1282.1 L282.0,1284.9 L285.0,1287.6 L288.0,1289.3 L291.0,1290.7 L294.0,1291.4 L297.0,1291.7 L300.0,1291.9 L303.0,1292.0 L306.0,1292.1 L309.0,1292.2 L312.0,1292.2 L315.0,1292.3 L318.0,1292.3 L321.0,1292.4 L324.0,1292.4 L327.0,1292.5 L330.0,1292.5 L333.0,1292.5 L336.0,1292.6 L339.0,1292.6 L342.0,1292.7 L345.0,1292.7 L348.0,1292.7 L351.0,1292.8 L354.0,1292.8 L357.0,1292.8 L360.0,1292.9 L363.0,1292.9 L366.0,1292.9 L369.0,1292.9 L372.0,1293.0 L375.0,1293.0 L378.0,1293.0 L381.0,1293.0 L384.0,1293.0 L387.0,1293.0 L390.0,1293.0 L393.0,1293.0 L396.0,1292.9 L399.0,1292.9 L402.0,1292.8 L405.0,1292.8 L408.0,1292.7 L411.0,1292.6 L414.0,1292.5 L417.0,1292.3 L420.0,1291.9 L423.0,1291.4 L426.0,1290.8 L429.0,1290.1 L432.0,1289.3 L435.0,1288.3 L438.0,1287.3 L441.0,1286.5 L444.0,1285.8 L447.0,1285.5 L450.0,1285.3 L453.0,1285.2 L456.0,1285.2 L459.0,1285.1 L462.0,1285.1 L465.0,1285.0 L468.0,1285.1 L471.0,1285.2 L474.0,1285.5 L477.0,1286.1 L480.0,1286.8 L483.0,1287.6 L486.0,1288.2 L489.0,1288.8 L492.0,1289.1 L495.0,1289.4 L498.0,1289.6 L501.0,1289.7 L504.0,1289.9 L507.0,1289.9 L510.0,1290.0 L513.0,1290.0 L516.0,1290.0 L519.0,1290.0 L522.0,1290.0 L525.0,1290.0 L528.0,1289.9 L531.0,1289.9 L534.0,1289.9 L537.0,1289.9 L540.0,1289.9 L543.0,1289.8 L546.0,1289.8 L549.0,1289.8 L552.0,1289.8 L555.0,1289.8 L558.0,1289.7 L561.0,1289.7 L564.0,1289.7 L567.0,1289.7 L570.0,1289.6 L573.0,1289.6 L576.0,1289.6 L579.0,1289.6 L582.0,1289.6 L585.0,1289.5 L588.0,1289.5 L591.0,1289.5 L594.0,1289.5 L597.0,1289.5 L600.0,1289.5 L603.0,1289.5 L606.0,1289.5 L609.0,1289.5 L612.0,1289.5 L615.0,1289.5 L618.0,1289.5 L621.0,1289.5 L624.0,1289.6 L627.0,1289.6 L630.0,1289.6 L633.0,1289.6 L636.0,1289.6 L639.0,1289.6 L642.0,1289.7 L645.0,1289.7 L648.0,1289.7 L651.0,1289.7 L654.0,1289.8 L657.0,1289.8 L660.0,1289.8 L663.0,1289.8 L666.0,1289.9 L669.0,1289.9 L672.0,1289.9 L675.0,1290.0 L678.0,1290.0 L681.0,1290.0 L684.0,1290.0 L687.0,1290.1 L690.0,1290.1 L693.0,1290.1 L696.0,1290.1 L699.0,1290.2 L702.0,1290.2 L705.0,1290.2 L708.0,1290.3 L711.0,1290.3 L714.0,1290.3 L717.0,1290.3 L720.0,1290.3 L723.0,1290.4 L726.0,1290.4 L729.0,1290.4 L732.0,1290.4 L735.0,1290.4 L738.0,1290.4 L741.0,1290.5 L744.0,1290.5 L747.0,1290.5 L750.0,1290.5 L753.0,1290.5 L756.0,1290.5 L759.0,1290.5 L762.0,1290.4 L765.0,1290.3 L768.0,1290.2 L771.0,1290.0 L774.0,1289.7 L777.0,1289.4 L780.0,1289.1 L783.0,1288.8 L786.0,1288.4 L789.0,1288.1 L792.0,1287.8 L795.0,1287.5 L798.0,1287.1 L801.0,1286.8 L804.0,1286.4 L807.0,1285.9 L810.0,1285.4 L813.0,1284.8 L816.0,1284.1 L819.0,1283.4 L822.0,1282.5 L825.0,1281.6 L828.0,1280.6 L831.0,1279.6 L834.0,1278.6 L837.0,1277.5 L840.0,1276.4 L843.0,1275.2 L846.0,1273.9 L849.0,1272.7 L852.0,1271.5 L855.0,1270.2 L858.0,1269.0 L861.0,1267.8 L864.0,1266.5 L867.0,1265.3 L870.0,1264.1 L873.0,1262.8 L876.0,1261.5 L879.0,1260.1 L882.0,1258.7 L885.0,1257.2 L888.0,1255.6 L891.0,1254.0 L894.0,1252.2 L897.0,1250.4 L900.0,1248.5 L903.0,1246.6 L906.0,1244.5 L909.0,1242.4 L912.0,1240.1 L915.0,1237.7 L918.0,1235.3 L921.0,1232.8 L924.0,1230.3 L927.0,1227.8 L930.0,1225.3 L933.0,1222.9 L936.0,1220.5 L939.0,1218.1 L942.0,1215.7 L945.0,1213.2 L948.0,1210.8 L951.0,1208.3 L954.0,1205.8 L957.0,1203.3 L960.0,1200.7 L963.0,1198.1 L966.0,1195.5 L969.0,1192.9 L972.0,1190.3 L975.0,1187.8 L978.0,1185.4 L981.0,1183.0 L984.0,1180.7 L987.0,1178.4 L990.0,1176.2 L993.0,1174.0 L996.0,1171.9 L999.0,1169.8 L1002.0,1167.8 L1005.0,1165.8 L1008.0,1163.9 L1011.0,1162.0 L1014.0,1160.1 L1017.0,1158.3 L1020.0,1156.5 L1023.0,1154.9 L1026.0,1153.3 L1029.0,1151.8 L1032.0,1150.4 L1035.0,1149.1 L1038.0,1147.8 L1041.0,1146.6 L1044.0,1145.4 L1047.0,1144.3 L1050.0,1143.3 L1053.0,1142.4 L1056.0,1141.5 L1059.0,1140.6 L1062.0,1139.7 L1065.0,1139.0 L1068.0,1138.3 L1071.0,1137.8 L1074.0,1137.4 L1077.0,1137.2 L1080.0,1137.0 L1083.0,1136.9 L1086.0,1136.8 L1089.0,1136.7 L1092.0,1136.6 L1095.0,1136.5 L1098.0,1136.5 L1101.0,1136.4 L1104.0,1136.4 L1107.0,1136.4 L1110.0,1136.5 L1113.0,1136.6 L1116.0,1136.7 L1119.0,1136.9 L1122.0,1137.1 L1125.0,1137.4 L1128.0,1137.6 L1131.0,1137.9 L1134.0,1138.3 L1137.0,1138.7 L1140.0,1139.2 L1143.0,1139.7 L1146.0,1140.3 L1149.0,1141.0 L1152.0,1141.6 L1155.0,1142.3 L1158.0,1143.0 L1161.0,1143.7 L1164.0,1144.4 L1167.0,1145.1 L1170.0,1145.8 L1173.0,1146.5 L1176.0,1147.2 L1179.0,1147.9 L1182.0,1148.7 L1185.0,1149.4 L1188.0,1150.2 L1191.0,1151.1 L1194.0,1151.9 L1197.0,1152.8 L1200.0,1153.7 L1203.0,1154.7 L1206.0,1155.7 L1209.0,1156.8 L1212.0,1157.9 L1215.0,1158.9 L1218.0,1160.0 L1221.0,1161.1 L1224.0,1162.2 L1227.0,1163.2 L1230.0,1164.2 L1233.0,1165.2 L1236.0,1166.2 L1239.0,1167.1 L1242.0,1168.1 L1245.0,1169.1 L1248.0,1170.0 L1251.0,1171.0 L1254.0,1172.0 L1257.0,1173.0 L1260.0,1174.0 L1263.0,1175.1 L1266.0,1176.2 L1269.0,1177.3 L1272.0,1178.4 L1275.0,1179.6 L1278.0,1180.7 L1281.0,1181.9 L1284.0,1183.0 L1287.0,1184.2 L1290.0,1185.3 L1293.0,1186.4 L1296.0,1187.4 L1299.0,1188.5 L1302.0,1189.6 L1305.0,1190.6 L1308.0,1191.7 L1311.0,1192.7 L1314.0,1193.8 L1317.0,1194.8 L1320.0,1195.8 L1323.0,1196.9 L1326.0,1197.9 L1329.0,1199.0 L1332.0,1200.0 L1335.0,1201.0 L1338.0,1202.1 L1341.0,1203.1 L1344.0,1204.1 L1347.0,1205.2 L1350.0,1206.3 L1353.0,1207.4 L1356.0,1208.5 L1359.0,1209.6 L1362.0,1210.7 L1365.0,1211.9 L1368.0,1213.0 L1371.0,1214.2 L1374.0,1215.4 L1377.0,1216.6 L1380.0,1217.9 L1383.0,1219.1 L1386.0,1220.4 L1389.0,1221.7 L1392.0,1223.0 L1395.0,1224.3 L1398.0,1225.7 L1401.0,1227.1 L1404.0,1228.5 L1407.0,1229.9 L1410.0,1231.3 L1413.0,1232.7 L1416.0,1234.1 L1419.0,1235.5 L1422.0,1236.9 L1425.0,1238.3 L1428.0,1239.7 L1431.0,1241.1 L1434.0,1242.5 L1437.0,1243.9 L1440.0,1245.3 L1443.0,1246.7 L1446.0,1248.0 L1449.0,1249.4 L1452.0,1250.7 L1455.0,1251.9 L1458.0,1253.2 L1461.0,1254.4 L1464.0,1255.6 L1467.0,1256.7 L1470.0,1257.8 L1473.0,1259.0 L1476.0,1260.1 L1479.0,1261.1 L1482.0,1262.2 L1485.0,1263.2 L1488.0,1264.2 L1491.0,1265.2 L1494.0,1266.2 L1497.0,1267.1 L1500.0,1268.0 L1503.0,1268.9 L1506.0,1269.7 L1509.0,1270.6 L1512.0,1271.4 L1515.0,1272.2 L1518.0,1273.0 L1521.0,1273.8 L1524.0,1274.6 L1527.0,1275.3 L1530.0,1276.0 L1533.0,1276.6 L1536.0,1277.2 L1539.0,1277.8 L1542.0,1278.3 L1545.0,1278.9 L1548.0,1279.4 L1551.0,1279.9 L1554.0,1280.4 L1557.0,1280.9 L1560.0,1281.3 L1563.0,1281.8 L1566.0,1282.2 L1569.0,1282.7 L1572.0,1283.1 L1575.0,1283.5 L1578.0,1283.8 L1581.0,1284.2 L1584.0,1284.5 L1587.0,1284.9 L1590.0,1285.2 L1593.0,1285.4 L1596.0,1285.7 L1599.0,1285.9 L1602.0,1286.1 L1605.0,1286.3 L1608.0,1286.5 L1611.0,1286.7 L1614.0,1286.9 L1617.0,1287.1 L1620.0,1287.3 L1623.0,1287.4 L1626.0,1287.6 L1629.0,1287.8 L1632.0,1287.9 L1635.0,1288.1 L1638.0,1288.2 L1641.0,1288.3 L1644.0,1288.5 L1647.0,1288.6 L1650.0,1288.7 L1653.0,1288.9 L1656.0,1289.0 L1659.0,1289.1 L1662.0,1289.2 L1665.0,1289.3 L1668.0,1289.4 L1671.0,1289.5 L1674.0,1289.7 L1677.0,1289.8 L1680.0,1289.9 L1683.0,1290.0 L1686.0,1290.1 L1689.0,1290.2 L1692.0,1290.2 L1695.0,1290.3 L1698.0,1290.4 L1701.0,1290.5 L1704.0,1290.6 L1707.0,1290.7 L1710.0,1290.8 L1713.0,1290.9 L1716.0,1291.0 L1719.0,1291.1 L1722.0,1291.2 L1725.0,1291.3 L1728.0,1291.3 L1731.0,1291.4 L1734.0,1291.5 L1737.0,1291.6 L1740.0,1291.7 L1743.0,1291.8 L1746.0,1291.9 L1749.0,1291.9 L1752.0,1292.0 L1755.0,1292.1 L1758.0,1292.2 L1761.0,1292.3 L1764.0,1292.3 L1767.0,1292.4 L1770.0,1292.5 L1773.0,1292.6 L1776.0,1292.6 L1779.0,1292.7 L1782.0,1292.8 L1785.0,1292.9 L1788.0,1292.9 L1791.0,1293.0 L1794.0,1293.1 L1797.0,1293.1 L1800.0,1293.2 L1803.0,1293.2 L1806.0,1293.3 L1809.0,1293.4 L1812.0,1293.4 L1815.0,1293.5 L1818.0,1293.5 L1821.0,1293.6 L1824.0,1293.6 L1827.0,1293.7 L1830.0,1293.7 L1833.0,1293.8 L1836.0,1293.8 L1839.0,1293.8 L1842.0,1293.9 L1845.0,1293.9 L1848.0,1293.9 L1851.0,1294.0 L1853.0,1294.0"/>
<path class="curve" stroke="#F14040" d="M279.0,1272.1 L282.0,1275.3 L285.0,1278.4 L288.0,1280.4 L291.0,1282.0 L294.0,1283.0 L297.0,1283.4 L300.0,1283.7 L303.0,1283.9 L306.0,1284.1 L309.0,1284.2 L312.0,1284.3 L315.0,1284.5 L318.0,1284.5 L321.0,1284.6 L324.0,1284.7 L327.0,1284.7 L330.0,1284.7 L333.0,1284.7 L336.0,1284.7 L339.0,1284.7 L342.0,1284.6 L345.0,1284.6 L348.0,1284.6 L351.0,1284.5 L354.0,1284.5 L357.0,1284.4 L360.0,1284.3 L363.0,1284.3 L366.0,1284.2 L369.0,1284.1 L372.0,1284.0 L375.0,1283.9 L378.0,1283.8 L381.0,1283.6 L384.0,1283.5 L387.0,1283.4 L390.0,1283.2 L393.0,1283.1 L396.0,1282.9 L399.0,1282.7 L402.0,1282.5 L405.0,1282.3 L408.0,1282.1 L411.0,1281.7 L414.0,1281.1 L417.0,1280.1 L420.0,1278.9 L423.0,1277.4 L426.0,1275.9 L429.0,1274.2 L432.0,1272.6 L435.0,1271.2 L438.0,1269.9 L441.0,1268.8 L444.0,1267.8 L447.0,1266.9 L450.0,1266.1 L453.0,1265.4 L456.0,1264.9 L459.0,1264.5 L462.0,1264.1 L465.0,1263.8 L468.0,1263.6 L471.0,1263.6 L474.0,1263.6 L477.0,1263.7 L480.0,1263.8 L483.0,1263.9 L486.0,1264.1 L489.0,1264.3 L492.0,1264.5 L495.0,1264.9 L498.0,1265.3 L501.0,1265.7 L504.0,1266.2 L507.0,1266.6 L510.0,1267.0 L513.0,1267.2 L516.0,1267.5 L519.0,1267.7 L522.0,1267.9 L525.0,1268.1 L528.0,1268.3 L531.0,1268.4 L534.0,1268.6 L537.0,1268.8 L540.0,1268.9 L543.0,1269.1 L546.0,1269.2 L549.0,1269.4 L552.0,1269.5 L555.0,1269.7 L558.0,1269.9 L561.0,1270.1 L564.0,1270.2 L567.0,1270.4 L570.0,1270.6 L573.0,1270.8 L576.0,1271.0 L579.0,1271.2 L582.0,1271.4 L585.0,1271.6 L588.0,1271.8 L591.0,1271.9 L594.0,1272.1 L597.0,1272.3 L600.0,1272.5 L603.0,1272.7 L606.0,1272.9 L609.0,1273.1 L612.0,1273.3 L615.0,1273.5 L618.0,1273.7 L621.0,1273.9 L624.0,1274.1 L627.0,1274.4 L630.0,1274.6 L633.0,1274.8 L636.0,1275.0 L639.0,1275.3 L642.0,1275.5 L645.0,1275.7 L648.0,1275.9 L651.0,1276.1 L654.0,1276.3 L657.0,1276.5 L660.0,1276.7 L663.0,1276.9 L666.0,1277.1 L669.0,1277.3 L672.0,1277.4 L675.0,1277.6 L678.0,1277.8 L681.0,1277.9 L684.0,1278.0 L687.0,1278.1 L690.0,1278.2 L693.0,1278.3 L696.0,1278.4 L699.0,1278.5 L702.0,1278.5 L705.0,1278.6 L708.0,1278.6 L711.0,1278.7 L714.0,1278.7 L717.0,1278.8 L720.0,1278.8 L723.0,1278.9 L726.0,1278.9 L729.0,1279.0 L732.0,1279.0 L735.0,1279.0 L738.0,1279.1 L741.0,1279.1 L744.0,1279.1 L747.0,1279.2 L750.0,1279.2 L753.0,1279.2 L756.0,1279.3 L759.0,1279.3 L762.0,1279.3 L765.0,1279.4 L768.0,1279.4 L771.0,1279.4 L774.0,1279.4 L777.0,1279.4 L780.0,1279.4 L783.0,1279.5 L786.0,1279.5 L789.0,1279.5 L792.0,1279.5 L795.0,1279.5 L798.0,1279.5 L801.0,1279.5 L804.0,1279.5 L807.0,1279.4 L810.0,1279.4 L813.0,1279.4 L816.0,1279.3 L819.0,1279.2 L822.0,1279.1 L825.0,1279.1 L828.0,1279.0 L831.0,1278.9 L834.0,1278.8 L837.0,1278.7 L840.0,1278.6 L843.0,1278.5 L846.0,1278.4 L849.0,1278.3 L852.0,1278.2 L855.0,1278.1 L858.0,1278.0 L861.0,1278.0 L864.0,1277.9 L867.0,1277.9 L870.0,1277.8 L873.0,1277.8 L876.0,1277.7 L879.0,1277.7 L882.0,1277.7 L885.0,1277.6 L888.0,1277.6 L891.0,1277.5 L894.0,1277.5 L897.0,1277.5 L900.0,1277.4 L903.0,1277.4 L906.0,1277.4 L909.0,1277.3 L912.0,1277.3 L915.0,1277.3 L918.0,1277.2 L921.0,1277.2 L924.0,1277.1 L927.0,1277.1 L930.0,1277.0 L933.0,1276.9 L936.0,1276.9 L939.0,1276.8 L942.0,1276.7 L945.0,1276.6 L948.0,1276.6 L951.0,1276.4 L954.0,1276.3 L957.0,1276.1 L960.0,1275.8 L963.0,1275.5 L966.0,1275.1 L969.0,1274.7 L972.0,1274.3 L975.0,1273.8 L978.0,1273.4 L981.0,1272.9 L984.0,1272.4 L987.0,1271.9 L990.0,1271.5 L993.0,1271.0 L996.0,1270.6 L999.0,1270.1 L1002.0,1269.7 L1005.0,1269.3 L1008.0,1268.9 L1011.0,1268.4 L1014.0,1268.0 L1017.0,1267.5 L1020.0,1267.1 L1023.0,1266.6 L1026.0,1266.1 L1029.0,1265.6 L1032.0,1265.0 L1035.0,1264.4 L1038.0,1263.9 L1041.0,1263.3 L1044.0,1262.6 L1047.0,1262.0 L1050.0,1261.4 L1053.0,1260.8 L1056.0,1260.1 L1059.0,1259.5 L1062.0,1258.9 L1065.0,1258.3 L1068.0,1257.7 L1071.0,1257.1 L1074.0,1256.5 L1077.0,1255.9 L1080.0,1255.3 L1083.0,1254.7 L1086.0,1254.1 L1089.0,1253.5 L1092.0,1252.9 L1095.0,1252.3 L1098.0,1251.7 L1101.0,1251.1 L1104.0,1250.5 L1107.0,1249.9 L1110.0,1249.2 L1113.0,1248.5 L1116.0,1247.6 L1119.0,1246.7 L1122.0,1245.7 L1125.0,1244.7 L1128.0,1243.7 L1131.0,1242.8 L1134.0,1242.0 L1137.0,1241.3 L1140.0,1240.6 L1143.0,1240.0 L1146.0,1239.4 L1149.0,1238.8 L1152.0,1238.2 L1155.0,1237.7 L1158.0,1237.2 L1161.0,1236.7 L1164.0,1236.2 L1167.0,1235.8 L1170.0,1235.3 L1173.0,1234.9 L1176.0,1234.5 L1179.0,1234.1 L1182.0,1233.8 L1185.0,1233.4 L1188.0,1233.1 L1191.0,1232.7 L1194.0,1232.4 L1197.0,1232.1 L1200.0,1231.7 L1203.0,1231.4 L1206.0,1231.1 L1209.0,1230.7 L1212.0,1230.4 L1215.0,1230.1 L1218.0,1229.8 L1221.0,1229.5 L1224.0,1229.3 L1227.0,1229.1 L1230.0,1228.9 L1233.0,1228.6 L1236.0,1228.4 L1239.0,1228.2 L1242.0,1228.0 L1245.0,1227.9 L1248.0,1227.7 L1251.0,1227.6 L1254.0,1227.5 L1257.0,1227.4 L1260.0,1227.4 L1263.0,1227.4 L1266.0,1227.4 L1269.0,1227.4 L1272.0,1227.5 L1275.0,1227.5 L1278.0,1227.6 L1281.0,1227.6 L1284.0,1227.7 L1287.0,1227.7 L1290.0,1227.8 L1293.0,1227.8 L1296.0,1227.9 L1299.0,1228.1 L1302.0,1228.2 L1305.0,1228.4 L1308.0,1228.6 L1311.0,1228.8 L1314.0,1229.0 L1317.0,1229.3 L1320.0,1229.5 L1323.0,1229.8 L1326.0,1230.0 L1329.0,1230.3 L1332.0,1230.7 L1335.0,1231.0 L1338.0,1231.4 L1341.0,1231.8 L1344.0,1232.2 L1347.0,1232.6 L1350.0,1233.0 L1353.0,1233.4 L1356.0,1233.9 L1359.0,1234.3 L1362.0,1234.7 L1365.0,1235.1 L1368.0,1235.5 L1371.0,1236.0 L1374.0,1236.4 L1377.0,1236.9 L1380.0,1237.4 L1383.0,1237.9 L1386.0,1238.4 L1389.0,1238.9 L1392.0,1239.4 L1395.0,1240.0 L1398.0,1240.5 L1401.0,1241.1 L1404.0,1241.7 L1407.0,1242.3 L1410.0,1243.0 L1413.0,1243.6 L1416.0,1244.3 L1419.0,1245.0 L1422.0,1245.8 L1425.0,1246.5 L1428.0,1247.3 L1431.0,1248.1 L1434.0,1248.8 L1437.0,1249.6 L1440.0,1250.4 L1443.0,1251.2 L1446.0,1251.9 L1449.0,1252.7 L1452.0,1253.4 L1455.0,1254.2 L1458.0,1254.9 L1461.0,1255.7 L1464.0,1256.4 L1467.0,1257.2 L1470.0,1257.9 L1473.0,1258.7 L1476.0,1259.4 L1479.0,1260.2 L1482.0,1261.0 L1485.0,1261.7 L1488.0,1262.5 L1491.0,1263.2 L1494.0,1263.9 L1497.0,1264.7 L1500.0,1265.4 L1503.0,1266.2 L1506.0,1267.0 L1509.0,1267.7 L1512.0,1268.5 L1515.0,1269.3 L1518.0,1270.1 L1521.0,1270.8 L1524.0,1271.6 L1527.0,1272.4 L1530.0,1273.2 L1533.0,1273.9 L1536.0,1274.6 L1539.0,1275.2 L1542.0,1275.9 L1545.0,1276.5 L1548.0,1277.0 L1551.0,1277.6 L1554.0,1278.1 L1557.0,1278.7 L1560.0,1279.2 L1563.0,1279.7 L1566.0,1280.1 L1569.0,1280.6 L1572.0,1281.0 L1575.0,1281.5 L1578.0,1281.9 L1581.0,1282.3 L1584.0,1282.7 L1587.0,1283.1 L1590.0,1283.5 L1593.0,1283.9 L1596.0,1284.2 L1599.0,1284.5 L1602.0,1284.8 L1605.0,1285.1 L1608.0,1285.4 L1611.0,1285.6 L1614.0,1285.8 L1617.0,1286.1 L1620.0,1286.3 L1623.0,1286.5 L1626.0,1286.7 L1629.0,1286.9 L1632.0,1287.1 L1635.0,1287.3 L1638.0,1287.5 L1641.0,1287.7 L1644.0,1287.9 L1647.0,1288.1 L1650.0,1288.3 L1653.0,1288.5 L1656.0,1288.7 L1659.0,1288.9 L1662.0,1289.0 L1665.0,1289.2 L1668.0,1289.4 L1671.0,1289.6 L1674.0,1289.7 L1677.0,1289.9 L1680.0,1290.0 L1683.0,1290.1 L1686.0,1290.3 L1689.0,1290.4 L1692.0,1290.5 L1695.0,1290.6 L1698.0,1290.8 L1701.0,1290.9 L1704.0,1291.0 L1707.0,1291.1 L1710.0,1291.2 L1713.0,1291.4 L1716.0,1291.5 L1719.0,1291.6 L1722.0,1291.7 L1725.0,1291.8 L1728.0,1292.0 L1731.0,1292.1 L1734.0,1292.2 L1737.0,1292.3 L1740.0,1292.4 L1743.0,1292.5 L1746.0,1292.6 L1749.0,1292.7 L1752.0,1292.8 L1755.0,1293.0 L1758.0,1293.1 L1761.0,1293.2 L1764.0,1293.3 L1767.0,1293.3 L1770.0,1293.4 L1773.0,1293.5 L1776.0,1293.6 L1779.0,1293.7 L1782.0,1293.8 L1785.0,1293.9 L1788.0,1294.0 L1791.0,1294.0 L1794.0,1294.1 L1797.0,1294.2 L1800.0,1294.3 L1803.0,1294.3 L1806.0,1294.4 L1809.0,1294.5 L1812.0,1294.5 L1815.0,1294.6 L1818.0,1294.6 L1821.0,1294.7 L1824.0,1294.7 L1827.0,1294.8 L1830.0,1294.8 L1833.0,1294.8 L1836.0,1294.9 L1839.0,1294.9 L1842.0,1294.9 L1845.0,1295.0 L1848.0,1295.0 L1851.0,1295.0 L1853.0,1295.0"/>
<path class="curve" stroke="#1A6FDF" d="M279.0,1284.0 L282.0,1285.5 L285.0,1287.1 L288.0,1288.3 L291.0,1289.3 L294.0,1290.0 L297.0,1290.2 L300.0,1290.3 L303.0,1290.3 L306.0,1290.3 L309.0,1290.3 L312.0,1290.3 L315.0,1290.3 L318.0,1290.3 L321.0,1290.3 L324.0,1290.3 L327.0,1290.3 L330.0,1290.3 L333.0,1290.3 L336.0,1290.3 L339.0,1290.3 L342.0,1290.3 L345.0,1290.3 L348.0,1290.3 L351.0,1290.3 L354.0,1290.3 L357.0,1290.3 L360.0,1290.3 L363.0,1290.3 L366.0,1290.3 L369.0,1290.3 L372.0,1290.3 L375.0,1290.3 L378.0,1290.2 L381.0,1290.2 L384.0,1290.2 L387.0,1290.2 L390.0,1290.2 L393.0,1290.2 L396.0,1290.1 L399.0,1290.1 L402.0,1290.1 L405.0,1290.1 L408.0,1290.0 L411.0,1289.9 L414.0,1289.6 L417.0,1289.2 L420.0,1288.6 L423.0,1287.9 L426.0,1287.1 L429.0,1286.2 L432.0,1285.1 L435.0,1283.9 L438.0,1282.6 L441.0,1281.2 L444.0,1280.0 L447.0,1278.9 L450.0,1278.0 L453.0,1277.3 L456.0,1276.6 L459.0,1276.2 L462.0,1276.0 L465.0,1275.8 L468.0,1275.8 L471.0,1275.7 L474.0,1275.7 L477.0,1275.6 L480.0,1275.5 L483.0,1275.3 L486.0,1275.2 L489.0,1274.9 L492.0,1274.7 L495.0,1274.4 L498.0,1274.1 L501.0,1273.8 L504.0,1273.4 L507.0,1273.0 L510.0,1272.5 L513.0,1272.0 L516.0,1271.4 L519.0,1270.9 L522.0,1270.3 L525.0,1269.6 L528.0,1269.0 L531.0,1268.2 L534.0,1267.5 L537.0,1266.6 L540.0,1265.7 L543.0,1264.7 L546.0,1263.6 L549.0,1262.4 L552.0,1261.2 L555.0,1259.9 L558.0,1258.6 L561.0,1257.4 L564.0,1256.3 L567.0,1255.2 L570.0,1254.2 L573.0,1253.2 L576.0,1252.2 L579.0,1251.2 L582.0,1250.2 L585.0,1249.2 L588.0,1248.1 L591.0,1247.0 L594.0,1245.8 L597.0,1244.6 L600.0,1243.3 L603.0,1242.0 L606.0,1240.8 L609.0,1239.7 L612.0,1238.7 L615.0,1237.7 L618.0,1236.9 L621.0,1236.1 L624.0,1235.3 L627.0,1234.5 L630.0,1233.8 L633.0,1233.0 L636.0,1232.1 L639.0,1231.2 L642.0,1230.2 L645.0,1229.2 L648.0,1228.2 L651.0,1227.2 L654.0,1226.2 L657.0,1225.1 L660.0,1224.1 L663.0,1223.1 L666.0,1222.1 L669.0,1221.0 L672.0,1220.0 L675.0,1219.0 L678.0,1218.1 L681.0,1217.1 L684.0,1216.3 L687.0,1215.5 L690.0,1214.7 L693.0,1214.0 L696.0,1213.3 L699.0,1212.6 L702.0,1211.9 L705.0,1211.3 L708.0,1210.6 L711.0,1210.0 L714.0,1209.4 L717.0,1208.8 L720.0,1208.2 L723.0,1207.6 L726.0,1207.0 L729.0,1206.4 L732.0,1205.8 L735.0,1205.3 L738.0,1204.7 L741.0,1204.1 L744.0,1203.6 L747.0,1203.0 L750.0,1202.3 L753.0,1201.7 L756.0,1201.0 L759.0,1200.2 L762.0,1199.4 L765.0,1198.6 L768.0,1197.7 L771.0,1196.7 L774.0,1195.8 L777.0,1194.8 L780.0,1193.7 L783.0,1192.7 L786.0,1191.6 L789.0,1190.5 L792.0,1189.3 L795.0,1188.1 L798.0,1186.8 L801.0,1185.5 L804.0,1184.0 L807.0,1182.5 L810.0,1180.9 L813.0,1179.2 L816.0,1177.3 L819.0,1175.4 L822.0,1173.3 L825.0,1171.0 L828.0,1168.5 L831.0,1165.8 L834.0,1162.9 L837.0,1160.0 L840.0,1156.9 L843.0,1153.8 L846.0,1150.6 L849.0,1147.2 L852.0,1143.6 L855.0,1139.8 L858.0,1135.6 L861.0,1131.1 L864.0,1126.4 L867.0,1121.3 L870.0,1116.0 L873.0,1110.5 L876.0,1104.8 L879.0,1098.9 L882.0,1092.7 L885.0,1086.4 L888.0,1079.8 L891.0,1073.0 L894.0,1066.0 L897.0,1058.8 L900.0,1051.4 L903.0,1043.8 L906.0,1035.9 L909.0,1027.9 L912.0,1019.7 L915.0,1011.3 L918.0,1002.7 L921.0,993.9 L924.0,985.0 L927.0,975.8 L930.0,966.5 L933.0,957.0 L936.0,947.4 L939.0,937.5 L942.0,927.6 L945.0,917.5 L948.0,907.3 L951.0,897.0 L954.0,886.6 L957.0,876.1 L960.0,865.7 L963.0,855.2 L966.0,844.7 L969.0,834.2 L972.0,823.7 L975.0,813.3 L978.0,803.0 L981.0,792.7 L984.0,782.6 L987.0,772.5 L990.0,762.6 L993.0,752.9 L996.0,743.3 L999.0,733.9 L1002.0,724.8 L1005.0,715.8 L1008.0,707.1 L1011.0,698.7 L1014.0,690.5 L1017.0,682.6 L1020.0,674.9 L1023.0,667.5 L1026.0,660.4 L1029.0,653.6 L1032.0,647.0 L1035.0,640.6 L1038.0,634.6 L1041.0,628.8 L1044.0,623.1 L1047.0,617.6 L1050.0,612.2 L1053.0,607.0 L1056.0,602.1 L1059.0,597.5 L1062.0,593.3 L1065.0,589.6 L1068.0,586.4 L1071.0,583.6 L1074.0,581.4 L1077.0,579.5 L1080.0,577.9 L1083.0,576.4 L1086.0,574.9 L1089.0,573.4 L1092.0,571.6 L1095.0,569.8 L1098.0,568.1 L1101.0,566.6 L1104.0,565.7 L1107.0,565.2 L1110.0,565.2 L1113.0,565.3 L1116.0,565.5 L1119.0,565.8 L1122.0,566.3 L1125.0,567.0 L1128.0,568.0 L1131.0,569.2 L1134.0,570.6 L1137.0,572.1 L1140.0,573.8 L1143.0,575.6 L1146.0,577.6 L1149.0,579.7 L1152.0,582.0 L1155.0,584.4 L1158.0,586.9 L1161.0,589.3 L1164.0,591.9 L1167.0,594.6 L1170.0,597.4 L1173.0,600.4 L1176.0,603.6 L1179.0,607.1 L1182.0,610.7 L1185.0,614.5 L1188.0,618.1 L1191.0,621.5 L1194.0,624.8 L1197.0,628.0 L1200.0,631.5 L1203.0,635.4 L1206.0,639.6 L1209.0,644.3 L1212.0,649.1 L1215.0,653.9 L1218.0,658.6 L1221.0,663.2 L1224.0,667.7 L1227.0,672.3 L1230.0,676.9 L1233.0,681.5 L1236.0,686.1 L1239.0,690.8 L1242.0,695.4 L1245.0,700.1 L1248.0,704.8 L1251.0,709.6 L1254.0,714.3 L1257.0,719.0 L1260.0,723.8 L1263.0,728.5 L1266.0,733.3 L1269.0,738.1 L1272.0,743.0 L1275.0,747.8 L1278.0,752.6 L1281.0,757.5 L1284.0,762.4 L1287.0,767.3 L1290.0,772.2 L1293.0,777.1 L1296.0,782.1 L1299.0,787.1 L1302.0,792.1 L1305.0,797.1 L1308.0,802.1 L1311.0,807.2 L1314.0,812.3 L1317.0,817.5 L1320.0,822.6 L1323.0,827.8 L1326.0,833.0 L1329.0,838.3 L1332.0,843.6 L1335.0,848.9 L1338.0,854.3 L1341.0,859.6 L1344.0,865.1 L1347.0,870.5 L1350.0,876.0 L1353.0,881.6 L1356.0,887.1 L1359.0,892.8 L1362.0,898.4 L1365.0,904.1 L1368.0,909.8 L1371.0,915.6 L1374.0,921.5 L1377.0,927.3 L1380.0,933.2 L1383.0,939.2 L1386.0,945.2 L1389.0,951.2 L1392.0,957.2 L1395.0,963.2 L1398.0,969.3 L1401.0,975.3 L1404.0,981.4 L1407.0,987.4 L1410.0,993.5 L1413.0,999.5 L1416.0,1005.5 L1419.0,1011.5 L1422.0,1017.5 L1425.0,1023.4 L1428.0,1029.3 L1431.0,1035.1 L1434.0,1040.9 L1437.0,1046.7 L1440.0,1052.4 L1443.0,1058.0 L1446.0,1063.5 L1449.0,1069.0 L1452.0,1074.4 L1455.0,1079.7 L1458.0,1084.9 L1461.0,1090.1 L1464.0,1095.1 L1467.0,1100.0 L1470.0,1104.9 L1473.0,1109.6 L1476.0,1114.2 L1479.0,1118.8 L1482.0,1123.2 L1485.0,1127.6 L1488.0,1131.8 L1491.0,1136.0 L1494.0,1140.1 L1497.0,1144.1 L1500.0,1148.2 L1503.0,1152.2 L1506.0,1156.1 L1509.0,1160.0 L1512.0,1163.7 L1515.0,1167.2 L1518.0,1170.7 L1521.0,1174.0 L1524.0,1177.2 L1527.0,1180.4 L1530.0,1183.6 L1533.0,1186.7 L1536.0,1189.7 L1539.0,1192.5 L1542.0,1195.3 L1545.0,1197.9 L1548.0,1200.5 L1551.0,1202.9 L1554.0,1205.2 L1557.0,1207.5 L1560.0,1209.7 L1563.0,1211.9 L1566.0,1214.0 L1569.0,1216.1 L1572.0,1218.2 L1575.0,1220.3 L1578.0,1222.4 L1581.0,1224.4 L1584.0,1226.5 L1587.0,1228.5 L1590.0,1230.4 L1593.0,1232.3 L1596.0,1234.2 L1599.0,1235.9 L1602.0,1237.7 L1605.0,1239.3 L1608.0,1240.9 L1611.0,1242.5 L1614.0,1243.9 L1617.0,1245.4 L1620.0,1246.7 L1623.0,1248.0 L1626.0,1249.2 L1629.0,1250.4 L1632.0,1251.6 L1635.0,1252.8 L1638.0,1254.0 L1641.0,1255.2 L1644.0,1256.5 L1647.0,1257.6 L1650.0,1258.8 L1653.0,1259.8 L1656.0,1260.8 L1659.0,1261.7 L1662.0,1262.6 L1665.0,1263.5 L1668.0,1264.3 L1671.0,1265.1 L1674.0,1265.9 L1677.0,1266.6 L1680.0,1267.4 L1683.0,1268.2 L1686.0,1268.9 L1689.0,1269.7 L1692.0,1270.5 L1695.0,1271.2 L1698.0,1272.0 L1701.0,1272.7 L1704.0,1273.4 L1707.0,1274.1 L1710.0,1274.7 L1713.0,1275.4 L1716.0,1276.0 L1719.0,1276.7 L1722.0,1277.3 L1725.0,1277.9 L1728.0,1278.5 L1731.0,1279.1 L1734.0,1279.6 L1737.0,1280.1 L1740.0,1280.5 L1743.0,1281.0 L1746.0,1281.4 L1749.0,1281.8 L1752.0,1282.2 L1755.0,1282.5 L1758.0,1282.9 L1761.0,1283.2 L1764.0,1283.6 L1767.0,1283.9 L1770.0,1284.2 L1773.0,1284.6 L1776.0,1284.9 L1779.0,1285.2 L1782.0,1285.5 L1785.0,1285.8 L1788.0,1286.1 L1791.0,1286.4 L1794.0,1286.6 L1797.0,1286.9 L1800.0,1287.2 L1803.0,1287.4 L1806.0,1287.7 L1809.0,1288.0 L1812.0,1288.2 L1815.0,1288.5 L1818.0,1288.8 L1821.0,1289.0 L1824.0,1289.2 L1827.0,1289.4 L1830.0,1289.5 L1833.0,1289.7 L1836.0,1289.8 L1839.0,1289.8 L1842.0,1289.9 L1845.0,1289.9 L1848.0,1290.0 L1851.0,1290.0 L1852.8,1290.0"/>
<path class="curve" stroke="#37AD6B" d="M279.0,1280.0 L282.0,1282.5 L285.0,1285.2 L288.0,1286.9 L291.0,1288.2 L294.0,1288.9 L297.0,1289.2 L300.0,1289.3 L303.0,1289.3 L306.0,1289.4 L309.0,1289.5 L312.0,1289.5 L315.0,1289.6 L318.0,1289.7 L321.0,1289.7 L324.0,1289.8 L327.0,1289.8 L330.0,1289.9 L333.0,1289.9 L336.0,1290.0 L339.0,1290.0 L342.0,1290.0 L345.0,1290.1 L348.0,1290.1 L351.0,1290.1 L354.0,1290.1 L357.0,1290.2 L360.0,1290.2 L363.0,1290.2 L366.0,1290.2 L369.0,1290.2 L372.0,1290.3 L375.0,1290.3 L378.0,1290.3 L381.0,1290.3 L384.0,1290.3 L387.0,1290.3 L390.0,1290.3 L393.0,1290.3 L396.0,1290.3 L399.0,1290.3 L402.0,1290.2 L405.0,1290.1 L408.0,1289.9 L411.0,1289.7 L414.0,1289.3 L417.0,1289.0 L420.0,1288.5 L423.0,1288.0 L426.0,1287.5 L429.0,1287.0 L432.0,1286.5 L435.0,1285.9 L438.0,1285.3 L441.0,1284.7 L444.0,1283.9 L447.0,1283.0 L450.0,1282.1 L453.0,1281.3 L456.0,1280.6 L459.0,1280.2 L462.0,1280.1 L465.0,1280.1 L468.0,1280.1 L471.0,1280.2 L474.0,1280.3 L477.0,1280.4 L480.0,1280.7 L483.0,1281.1 L486.0,1281.8 L489.0,1282.7 L492.0,1283.7 L495.0,1284.7 L498.0,1285.5 L501.0,1286.0 L504.0,1286.5 L507.0,1286.8 L510.0,1287.1 L513.0,1287.4 L516.0,1287.7 L519.0,1288.0 L522.0,1288.2 L525.0,1288.4 L528.0,1288.6 L531.0,1288.7 L534.0,1288.8 L537.0,1288.9 L540.0,1289.0 L543.0,1289.0 L546.0,1289.1 L549.0,1289.1 L552.0,1289.1 L555.0,1289.2 L558.0,1289.2 L561.0,1289.2 L564.0,1289.3 L567.0,1289.3 L570.0,1289.3 L573.0,1289.3 L576.0,1289.4 L579.0,1289.4 L582.0,1289.4 L585.0,1289.4 L588.0,1289.4 L591.0,1289.4 L594.0,1289.5 L597.0,1289.5 L600.0,1289.5 L603.0,1289.5 L606.0,1289.5 L609.0,1289.5 L612.0,1289.5 L615.0,1289.5 L618.0,1289.6 L621.0,1289.6 L624.0,1289.6 L627.0,1289.6 L630.0,1289.6 L633.0,1289.6 L636.0,1289.6 L639.0,1289.6 L642.0,1289.6 L645.0,1289.6 L648.0,1289.7 L651.0,1289.7 L654.0,1289.7 L657.0,1289.7 L660.0,1289.7 L663.0,1289.7 L666.0,1289.7 L669.0,1289.8 L672.0,1289.8 L675.0,1289.8 L678.0,1289.8 L681.0,1289.8 L684.0,1289.9 L687.0,1289.9 L690.0,1289.9 L693.0,1289.9 L696.0,1290.0 L699.0,1290.0 L702.0,1290.0 L705.0,1290.1 L708.0,1290.1 L711.0,1290.2 L714.0,1290.3 L717.0,1290.3 L720.0,1290.4 L723.0,1290.5 L726.0,1290.6 L729.0,1290.7 L732.0,1290.8 L735.0,1290.9 L738.0,1291.0 L741.0,1291.1 L744.0,1291.2 L747.0,1291.3 L750.0,1291.4 L753.0,1291.5 L756.0,1291.6 L759.0,1291.7 L762.0,1291.8 L765.0,1291.8 L768.0,1291.9 L771.0,1291.9 L774.0,1292.0 L777.0,1292.0 L780.0,1292.0 L783.0,1292.0 L786.0,1292.0 L789.0,1292.0 L792.0,1292.0 L795.0,1291.9 L798.0,1291.9 L801.0,1291.9 L804.0,1291.8 L807.0,1291.8 L810.0,1291.8 L813.0,1291.7 L816.0,1291.7 L819.0,1291.6 L822.0,1291.6 L825.0,1291.5 L828.0,1291.4 L831.0,1291.4 L834.0,1291.3 L837.0,1291.2 L840.0,1291.1 L843.0,1291.0 L846.0,1291.0 L849.0,1290.9 L852.0,1290.8 L855.0,1290.7 L858.0,1290.6 L861.0,1290.4 L864.0,1290.3 L867.0,1290.1 L870.0,1289.8 L873.0,1289.6 L876.0,1289.2 L879.0,1288.9 L882.0,1288.5 L885.0,1288.1 L888.0,1287.7 L891.0,1287.3 L894.0,1286.9 L897.0,1286.4 L900.0,1286.0 L903.0,1285.5 L906.0,1285.0 L909.0,1284.5 L912.0,1284.0 L915.0,1283.4 L918.0,1282.8 L921.0,1282.2 L924.0,1281.6 L927.0,1281.0 L930.0,1280.4 L933.0,1279.8 L936.0,1279.1 L939.0,1278.5 L942.0,1277.9 L945.0,1277.3 L948.0,1276.6 L951.0,1275.9 L954.0,1275.3 L957.0,1274.6 L960.0,1273.9 L963.0,1273.2 L966.0,1272.5 L969.0,1271.7 L972.0,1271.0 L975.0,1270.2 L978.0,1269.4 L981.0,1268.6 L984.0,1267.7 L987.0,1266.8 L990.0,1265.8 L993.0,1264.8 L996.0,1263.7 L999.0,1262.6 L1002.0,1261.4 L1005.0,1260.3 L1008.0,1259.2 L1011.0,1258.1 L1014.0,1257.0 L1017.0,1256.0 L1020.0,1255.0 L1023.0,1254.1 L1026.0,1253.1 L1029.0,1252.1 L1032.0,1251.1 L1035.0,1250.0 L1038.0,1248.9 L1041.0,1247.7 L1044.0,1246.5 L1047.0,1245.3 L1050.0,1244.0 L1053.0,1242.8 L1056.0,1241.6 L1059.0,1240.5 L1062.0,1239.4 L1065.0,1238.3 L1068.0,1237.3 L1071.0,1236.3 L1074.0,1235.3 L1077.0,1234.4 L1080.0,1233.4 L1083.0,1232.4 L1086.0,1231.4 L1089.0,1230.4 L1092.0,1229.3 L1095.0,1228.3 L1098.0,1227.3 L1101.0,1226.3 L1104.0,1225.3 L1107.0,1224.4 L1110.0,1223.5 L1113.0,1222.6 L1116.0,1221.7 L1119.0,1220.9 L1122.0,1220.0 L1125.0,1219.2 L1128.0,1218.5 L1131.0,1217.7 L1134.0,1216.9 L1137.0,1216.2 L1140.0,1215.5 L1143.0,1214.9 L1146.0,1214.3 L1149.0,1213.7 L1152.0,1213.3 L1155.0,1212.8 L1158.0,1212.3 L1161.0,1211.9 L1164.0,1211.5 L1167.0,1211.2 L1170.0,1210.8 L1173.0,1210.5 L1176.0,1210.2 L1179.0,1210.0 L1182.0,1209.8 L1185.0,1209.5 L1188.0,1209.3 L1191.0,1209.1 L1194.0,1208.9 L1197.0,1208.8 L1200.0,1208.6 L1203.0,1208.5 L1206.0,1208.4 L1209.0,1208.3 L1212.0,1208.3 L1215.0,1208.3 L1218.0,1208.3 L1221.0,1208.3 L1224.0,1208.3 L1227.0,1208.3 L1230.0,1208.3 L1233.0,1208.3 L1236.0,1208.3 L1239.0,1208.3 L1242.0,1208.3 L1245.0,1208.3 L1248.0,1208.4 L1251.0,1208.4 L1254.0,1208.6 L1257.0,1208.7 L1260.0,1208.9 L1263.0,1209.0 L1266.0,1209.2 L1269.0,1209.4 L1272.0,1209.6 L1275.0,1209.9 L1278.0,1210.1 L1281.0,1210.3 L1284.0,1210.5 L1287.0,1210.8 L1290.0,1211.1 L1293.0,1211.4 L1296.0,1211.7 L1299.0,1212.0 L1302.0,1212.3 L1305.0,1212.7 L1308.0,1213.1 L1311.0,1213.5 L1314.0,1213.9 L1317.0,1214.4 L1320.0,1215.0 L1323.0,1215.5 L1326.0,1216.1 L1329.0,1216.7 L1332.0,1217.3 L1335.0,1217.8 L1338.0,1218.4 L1341.0,1218.9 L1344.0,1219.5 L1347.0,1220.0 L1350.0,1220.5 L1353.0,1221.0 L1356.0,1221.5 L1359.0,1222.0 L1362.0,1222.5 L1365.0,1223.0 L1368.0,1223.6 L1371.0,1224.1 L1374.0,1224.6 L1377.0,1225.2 L1380.0,1225.7 L1383.0,1226.2 L1386.0,1226.8 L1389.0,1227.4 L1392.0,1228.0 L1395.0,1228.6 L1398.0,1229.4 L1401.0,1230.2 L1404.0,1231.1 L1407.0,1232.1 L1410.0,1233.1 L1413.0,1234.1 L1416.0,1235.2 L1419.0,1236.3 L1422.0,1237.3 L1425.0,1238.4 L1428.0,1239.5 L1431.0,1240.6 L1434.0,1241.6 L1437.0,1242.7 L1440.0,1243.7 L1443.0,1244.7 L1446.0,1245.7 L1449.0,1246.6 L1452.0,1247.6 L1455.0,1248.5 L1458.0,1249.4 L1461.0,1250.3 L1464.0,1251.2 L1467.0,1252.1 L1470.0,1253.0 L1473.0,1253.8 L1476.0,1254.6 L1479.0,1255.4 L1482.0,1256.2 L1485.0,1257.0 L1488.0,1257.7 L1491.0,1258.5 L1494.0,1259.2 L1497.0,1260.0 L1500.0,1260.7 L1503.0,1261.4 L1506.0,1262.2 L1509.0,1262.9 L1512.0,1263.7 L1515.0,1264.5 L1518.0,1265.3 L1521.0,1266.0 L1524.0,1266.8 L1527.0,1267.6 L1530.0,1268.4 L1533.0,1269.1 L1536.0,1269.8 L1539.0,1270.4 L1542.0,1271.0 L1545.0,1271.6 L1548.0,1272.2 L1551.0,1272.7 L1554.0,1273.3 L1557.0,1273.8 L1560.0,1274.3 L1563.0,1274.8 L1566.0,1275.3 L1569.0,1275.8 L1572.0,1276.2 L1575.0,1276.7 L1578.0,1277.2 L1581.0,1277.7 L1584.0,1278.2 L1587.0,1278.7 L1590.0,1279.1 L1593.0,1279.6 L1596.0,1280.0 L1599.0,1280.4 L1602.0,1280.8 L1605.0,1281.2 L1608.0,1281.5 L1611.0,1281.9 L1614.0,1282.2 L1617.0,1282.5 L1620.0,1282.8 L1623.0,1283.1 L1626.0,1283.4 L1629.0,1283.7 L1632.0,1283.9 L1635.0,1284.1 L1638.0,1284.4 L1641.0,1284.5 L1644.0,1284.7 L1647.0,1284.9 L1650.0,1285.0 L1653.0,1285.2 L1656.0,1285.4 L1659.0,1285.6 L1662.0,1285.8 L1665.0,1286.0 L1668.0,1286.2 L1671.0,1286.4 L1674.0,1286.6 L1677.0,1286.9 L1680.0,1287.1 L1683.0,1287.3 L1686.0,1287.6 L1689.0,1287.8 L1692.0,1288.0 L1695.0,1288.3 L1698.0,1288.5 L1701.0,1288.7 L1704.0,1288.9 L1707.0,1289.1 L1710.0,1289.3 L1713.0,1289.5 L1716.0,1289.6 L1719.0,1289.8 L1722.0,1290.0 L1725.0,1290.2 L1728.0,1290.4 L1731.0,1290.5 L1734.0,1290.7 L1737.0,1290.9 L1740.0,1291.1 L1743.0,1291.2 L1746.0,1291.4 L1749.0,1291.5 L1752.0,1291.7 L1755.0,1291.8 L1758.0,1292.0 L1761.0,1292.1 L1764.0,1292.3 L1767.0,1292.4 L1770.0,1292.5 L1773.0,1292.6 L1776.0,1292.7 L1779.0,1292.9 L1782.0,1293.0 L1785.0,1293.1 L1788.0,1293.2 L1791.0,1293.3 L1794.0,1293.4 L1797.0,1293.5 L1800.0,1293.6 L1803.0,1293.7 L1806.0,1293.8 L1809.0,1293.9 L1812.0,1294.0 L1815.0,1294.1 L1818.0,1294.2 L1821.0,1294.3 L1824.0,1294.4 L1827.0,1294.4 L1830.0,1294.5 L1833.0,1294.6 L1836.0,1294.7 L1839.0,1294.7 L1842.0,1294.8 L1845.0,1294.9 L1848.0,1294.9 L1851.0,1295.0 L1852.8,1295.0"/>
</g>
<g id="legend">
<rect x="325.5" y="81.5" width="393" height="978" fill="#fff" stroke="#808080" stroke-width="3"/>
<rect x="329.5" y="112.6" width="112" height="5.8" fill="#515151"/>
<rect x="329.5" y="173.2" width="112" height="5.8" fill="#F14040"/>
<rect x="329.5" y="233.8" width="112" height="5.8" fill="#1A6FDF"/>
<rect x="329.5" y="294.4" width="112" height="5.8" fill="#37AD6B"/>
<rect x="329.5" y="355.0" width="112" height="5.8" fill="#B177DE"/>
<rect x="329.5" y="415.7" width="112" height="5.8" fill="#CC9900"/>
<rect x="329.5" y="476.3" width="112" height="5.8" fill="#00CBCC"/>
<rect x="329.5" y="536.9" width="112" height="5.8" fill="#7D4E4E"/>
<rect x="329.5" y="597.5" width="112" height="5.8" fill="#8E8E00"/>
<rect x="329.5" y="658.1" width="112" height="5.8" fill="#FB6501"/>
<rect x="329.5" y="718.7" width="112" height="5.8" fill="#6699CC"/>
<rect x="329.5" y="779.3" width="112" height="5.8" fill="#6FB802"/>
<rect x="329.5" y="839.9" width="112" height="5.8" fill="#515151"/>
<rect x="329.5" y="900.5" width="112" height="5.8" fill="#F14040"/>
<rect x="329.5" y="961.1" width="112" height="5.8" fill="#1A6FDF"/>
<rect x="329.5" y="1021.8" width="112" height="5.8" fill="#37AD6B"/>
</g>
<g id="labels">
<text class="leg" x="438.2" y="131.1"><tspan class="b">2a</tspan> (φ=3.0%)</text>
<text class="leg" x="438.2" y="191.7"><tspan class="b">2b</tspan> (φ=5.2%)</text>
<text class="leg" x="438.2" y="252.3"><tspan class="b">2c</tspan> (φ=21.8%)</text>
<text class="leg" x="438.2" y="312.9"><tspan class="b">2d</tspan> (φ=10.3%)</text>
<text class="leg" x="438.2" y="373.5"><tspan class="b">2e</tspan> (φ=2.2%)</text>
<text class="leg" x="438.2" y="434.2"><tspan class="b">2f</tspan> (φ=9.0%)</text>
<text class="leg" x="438.2" y="494.8"><tspan class="b">2g</tspan> (φ=7.4%)</text>
<text class="leg" x="438.2" y="555.4"><tspan class="b">2h</tspan> (φ=7.6%)</text>
<text class="leg" x="438.2" y="616.0"><tspan class="b">2i</tspan> (φ=11.6%)</text>
<text class="leg" x="438.2" y="676.6"><tspan class="b">2j</tspan> (φ=9.1%)</text>
<text class="leg" x="438.2" y="737.2"><tspan class="b">2k</tspan> (φ=2.0%)</text>
<text class="leg" x="438.2" y="797.8"><tspan class="b">2l</tspan> (φ=12.6%)</text>
<text class="leg" x="438.2" y="858.4"><tspan class="b">2m</tspan> (φ=8.0%)</text>
<text class="leg" x="438.2" y="919.0"><tspan class="b">2n</tspan> (φ=7.5%)</text>
<text class="leg" x="438.2" y="979.6"><tspan class="b">2o</tspan> (φ=5.8%)</text>
<text class="leg" x="438.2" y="1040.2"><tspan class="b">2p</tspan> (φ=2.0%)</text>
<text class="tick" transform="translate(235.6,305.6) scale(1,1.06)" text-anchor="end">2000</text>
<text class="tick" transform="translate(235.6,811.6) scale(1,1.06)" text-anchor="end">1000</text>
<text class="tick" transform="translate(235.6,1318.2) scale(1,1.06)" text-anchor="end">0</text>
<text class="tick" transform="translate(496,1384.8) scale(1,1.06)" text-anchor="middle">400</text>
<text class="tick" transform="translate(1038.5,1384.8) scale(1,1.06)" text-anchor="middle">500</text>
<text class="tick" transform="translate(1581,1384.8) scale(1,1.06)" text-anchor="middle">600</text>
<text class="lab" x="1065" y="1491" text-anchor="middle">Wavelength (nm)</text>
<text class="lab" transform="translate(83,664) rotate(-90)" text-anchor="middle">Intensity</text>
</g>
</g>
</svg></body></html>
